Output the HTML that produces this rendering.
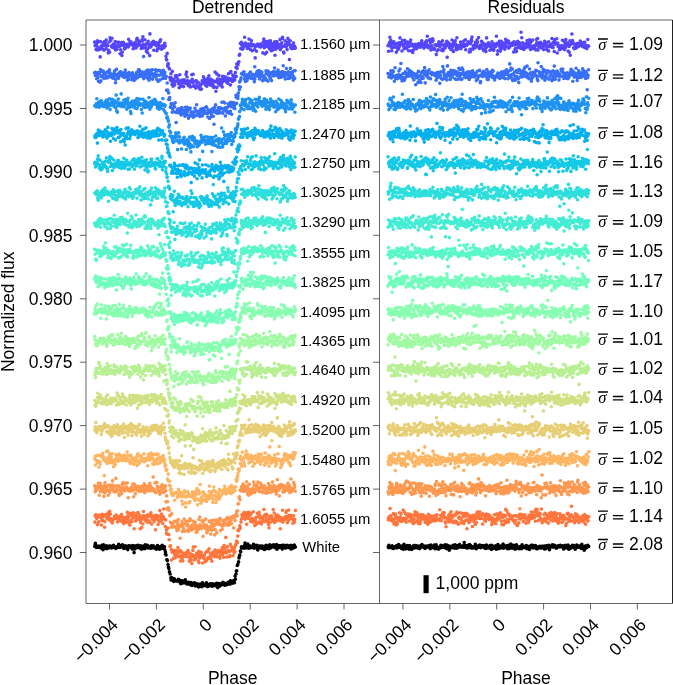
<!DOCTYPE html>
<html><head><meta charset="utf-8"><style>
html,body{margin:0;padding:0;background:#fff;width:673px;height:685px;overflow:hidden}
svg{display:block;will-change:transform}
text{font-family:"Liberation Sans",sans-serif;fill:#000}
</style></head><body>
<svg width="673" height="685" viewBox="0 0 673 685">
<g transform="scale(0.1)" stroke-width="36.0" stroke-linecap="round" fill="none">
<path stroke="#5346fd" d="M946 421h0m5 37h0m7-28h0m3 66h0m4-55h0m4 20h0m5-53h0m3 91h0m7-80h0m5 63h0m2 7h0m7 3h0m4 77h0m2-153h0m6 50h0m6-9h0m4 9h0m2 22h0m7-32h0m2-29h0m4 23h0m5 52h0m5-87h0m5 41h0m3-34h0m7 66h0m2-88h0m4 42h0m4 7h0m7 8h0m6 72h0m3-26h0m6-83h0m4 102h0m5-145h0m4 16h0m3 12h0m6 55h0m3 10h0m3-88h0m6 85h0m5-23h0m3 32h0m7-35h0m2 41h0m4-11h0m5-56h0m4 84h0m3-39h0m8 16h0m3 17h0m3-71h0m7 28h0m2-23h0m6-4h0m5 39h0m3 2h0m5 74h0m5-41h0m5-45h0m3-26h0m5 129h0m4-33h0m5-72h0m5-27h0m3 16h0m6 23h0m3 27h0m7-5h0m2-17h0m7-22h0m2 13h0m7-15h0m4 12h0m2-5h0m7 20h0m3-77h0m3 49h0m7 2h0m4-27h0m5 30h0m3-28h0m4 13h0m7 12h0m1 1h0m8-10h0m3 53h0m5-29h0m3 4h0m4-3h0m4-28h0m5-7h0m8 55h0m5-38h0m2-46h0m4-13h0m4 77h0m7-54h0m1 45h0m6-16h0m3 5h0m5 7h0m7-34h0m2 39h0m6 33h0m4-10h0m5-78h0m3 13h0m5-42h0m4 77h0m4 35h0m6-17h0m6-66h0m5 58h0m0 24h0m9-40h0m1 75h0m7-82h0m5 59h0m1 37h0m5-116h0m5 31h0m4 28h0m6 85h0m2-217h0m6 132h0m7-9h0m1-23h0m6-13h0m4 10h0m6 7h0m5-31h0m4 91h0m2-85h0m6 21h0m3-7h0m7 8h0m4 16h0m6-27h0m4 16h0m0 63h0m6-21h0m7-43h0m3 38h0m4-54h0m3 32h0m7-53h0m1 9h0m5-18h0m9 95h0m3-33h0m5 11h0m3-13h0m3 7h0m6 1h0m4 11h0m3-19h0m5-25h0m5 28h0m7 102h0m5 30h0m3 6h0m5-65h0m4 125h0m4-22h0m3 2h0m7 41h0m5 10h0m3 86h0m6 25h0m5-64h0m2 39h0m5 34h0m4 36h0m3-132h0m5 121h0m3 27h0m8-70h0m1 11h0m7 47h0m3-30h0m4-61h0m4 7h0m8 6h0m3-13h0m4 51h0m7-17h0m3 21h0m3 24h0m5 40h0m6-56h0m1-74h0m8 118h0m5-54h0m2 47h0m5-58h0m3 28h0m6-15h0m6 5h0m3 47h0m5-69h0m2 30h0m5 2h0m4-21h0m8-64h0m1 91h0m5-114h0m4 49h0m7 38h0m4 32h0m3 16h0m3-1h0m7-8h0m3-34h0m6 57h0m4-53h0m4 50h0m7-120h0m4 46h0m3 14h0m4 21h0m3-86h0m7 115h0m4 7h0m6-7h0m5-47h0m4 71h0m5-72h0m2 52h0m4-34h0m5 1h0m5-5h0m6 5h0m1 41h0m7 11h0m5 0h0m2 13h0m5-41h0m7-8h0m3 47h0m6-79h0m3-7h0m6 24h0m4-62h0m4 52h0m2 6h0m4-35h0m8 15h0m2 46h0m6-34h0m3 11h0m5 34h0m2-59h0m8-20h0m3 39h0m4 17h0m4-81h0m6 88h0m6-35h0m3-4h0m4-17h0m6 24h0m1 41h0m7-17h0m5 10h0m3-43h0m7 69h0m2-11h0m3-47h0m9-95h0m2 96h0m6 96h0m1-101h0m8-73h0m1 135h0m5-84h0m5 38h0m5 9h0m5-81h0m4 57h0m3 37h0m6-56h0m6 35h0m5-26h0m3 37h0m6 29h0m4-107h0m2 29h0m3 23h0m5-38h0m7-8h0m3 16h0m3 2h0m9-16h0m3 35h0m6 16h0m1-3h0m4-3h0m4 17h0m8-94h0m1 44h0m8 9h0m2 12h0m7-79h0m1 125h0m6-133h0m4 72h0m7 15h0m4 11h0m3-64h0m4 4h0m6 31h0m4 6h0m6 10h0m3-38h0m4-37h0m6-51h0m2 89h0m5-123h0m4 44h0m5-39h0m3 3h0m6-25h0m4-7h0m4-65h0m4-8h0m7-110h0m3 51h0m7-61h0m2 24h0m6 45h0m2-36h0m7 31h0m2-41h0m5 19h0m4-26h0m4-68h0m7 58h0m3 15h0m3 13h0m7-5h0m4-4h0m4 35h0m6-11h0m1-33h0m7 41h0m2-91h0m9 54h0m3 5h0m2 46h0m8-59h0m1-30h0m5 53h0m4 48h0m5-60h0m7 3h0m1-3h0m8 8h0m3 40h0m6 84h0m1-111h0m8-18h0m4 63h0m1-56h0m7-1h0m2-14h0m8 1h0m2 18h0m7-17h0m5 23h0m1-11h0m7 15h0m3-30h0m4 6h0m6 14h0m6-5h0m3 1h0m2 72h0m4-110h0m5-28h0m5 86h0m4-31h0m4 94h0m9-89h0m0-35h0m6 108h0m7-58h0m3-27h0m5-10h0m2 42h0m7-60h0m2 55h0m5 25h0m7-82h0m4 33h0m3 27h0m4 38h0m6-24h0m3-44h0m5 61h0m5-58h0m4 6h0m4 17h0m5-47h0m3 134h0m7-60h0m2-32h0m7-25h0m3-19h0m7 49h0m2 11h0m5-35h0m2 6h0m6 24h0m3-20h0m7-57h0m2 102h0m6-35h0m4 16h0m4-48h0m7-44h0m2-11h0m4 89h0m6 57h0m3 9h0m7-66h0m4-56h0m6 35h0m4 25h0m2 0h0m7-11h0m2 40h0m7-72h0m1-40h0m8 41h0m3-9h0m4 180h0m4-149h0m5-40h0m3 66h0m7 12h0m3-30h0m7 4h0m1 27h0m6-16h0m5-39h0m5 41h0m4 11h0m3-19h0m6 17h0"/>
<path stroke="#5346fd" d="M3880 458h0m5 54h0m7-77h0m3-9h0m4-53h0m4 78h0m5-49h0m3 70h0m7 35h0m5-35h0m2-43h0m7 46h0m4-36h0m2-21h0m6 20h0m6 24h0m4-19h0m2 28h0m7 52h0m2-49h0m4 4h0m5-45h0m5 64h0m5-32h0m3 21h0m7-57h0m2 33h0m4-83h0m4 64h0m7-16h0m6-5h0m3 88h0m6-105h0m4 44h0m5 0h0m4 22h0m3 15h0m6-84h0m3 34h0m3-5h0m6 45h0m5 8h0m3-43h0m7-5h0m2-15h0m4 44h0m5 42h0m4-41h0m3-35h0m8-4h0m3 4h0m3-30h0m7 108h0m2-53h0m6-13h0m5 82h0m3-64h0m5 40h0m5-39h0m5 27h0m3-33h0m5-14h0m4 25h0m5 9h0m5 12h0m3-28h0m6-15h0m3-4h0m7 22h0m2-25h0m7 5h0m2 28h0m7 1h0m4-2h0m2-41h0m7-22h0m3 55h0m3-5h0m7-16h0m4 19h0m5 21h0m3-34h0m4 19h0m7-44h0m1 24h0m8-19h0m3-20h0m5 60h0m3-105h0m4 89h0m4 27h0m5-12h0m8-62h0m5 57h0m2-66h0m4 30h0m4 74h0m7-41h0m1 33h0m6-73h0m3-31h0m5 18h0m7 89h0m2-11h0m6 4h0m4-39h0m5 2h0m3-3h0m5 99h0m4-90h0m4 54h0m6-62h0m6 49h0m5-78h0m0 18h0m9 28h0m1-30h0m7-7h0m5 20h0m1-12h0m5 67h0m5-13h0m4-81h0m6 99h0m2-56h0m6 1h0m7-5h0m1 34h0m6-6h0m4-39h0m6 18h0m5-43h0m4 161h0m2-147h0m6-1h0m3 6h0m7 27h0m4 20h0m6-36h0m4 13h0m0-12h0m6 52h0m7-34h0m3-61h0m4 101h0m3-36h0m7 51h0m1-82h0m5-11h0m9 25h0m3-39h0m5 33h0m3 52h0m3-17h0m6-100h0m4 118h0m3-29h0m5 14h0m5-25h0m7 5h0m5-4h0m3 0h0m5-35h0m4 67h0m4-27h0m3 6h0m7-2h0m5-21h0m3 8h0m6-41h0m5 52h0m2 0h0m5-17h0m4-47h0m3 98h0m5-48h0m3 5h0m8-10h0m1-9h0m7 6h0m3-22h0m4 16h0m4 85h0m8-28h0m3 26h0m4-84h0m7-40h0m3 17h0m3-41h0m5 119h0m6 4h0m1-35h0m8 8h0m5 0h0m2-15h0m5 27h0m3-56h0m6 18h0m6 6h0m3-46h0m5 22h0m2 46h0m5-3h0m4-90h0m8 109h0m1-19h0m5 14h0m4-27h0m7 21h0m4-60h0m3 34h0m3-27h0m7 18h0m3 54h0m6 14h0m4-51h0m4-15h0m7 39h0m4 6h0m3 31h0m4-42h0m3-95h0m7 77h0m4-12h0m6-16h0m5 31h0m4-3h0m5-13h0m2 59h0m4-36h0m5 1h0m5-8h0m6 34h0m1-74h0m7 74h0m5-46h0m2 55h0m5-2h0m7-30h0m3-30h0m6 23h0m3 3h0m6-104h0m4 82h0m4-12h0m2 111h0m4-34h0m8-78h0m2 6h0m6-25h0m3 51h0m5 17h0m2 31h0m8-98h0m3 71h0m4-35h0m4-18h0m6 12h0m6-13h0m3 38h0m4-14h0m6 38h0m1-55h0m7-43h0m5 28h0m3 43h0m7-58h0m2 23h0m3 41h0m9-61h0m2 71h0m6-5h0m1-41h0m8 17h0m1-14h0m5 3h0m5 2h0m5 11h0m5-3h0m4-21h0m3-7h0m6 97h0m6-101h0m5 30h0m3 43h0m6-7h0m4-54h0m2 87h0m3-8h0m5-66h0m7-30h0m3 60h0m3-26h0m9-4h0m3-16h0m6 7h0m1 24h0m4 23h0m4-160h0m8 56h0m1 107h0m8-58h0m2 49h0m7-19h0m1 37h0m6-11h0m4-38h0m7 4h0m4 15h0m3 13h0m4-43h0m6-29h0m4 52h0m6-5h0m3-3h0m4-27h0m6 51h0m2-74h0m5 39h0m4 57h0m5-77h0m3 49h0m6 1h0m4-1h0m4-67h0m4 86h0m7-28h0m3 12h0m7-6h0m2-8h0m6 37h0m2 7h0m7-105h0m2 34h0m5 20h0m4-64h0m4 116h0m7-72h0m3 43h0m3-11h0m7-14h0m4-25h0m4 20h0m6 15h0m1 22h0m7-31h0m2-7h0m9 5h0m3 50h0m2-33h0m8-30h0m1-19h0m5 27h0m4-16h0m5 16h0m7 56h0m1-21h0m8-15h0m3 6h0m6 42h0m1-91h0m8 50h0m4-20h0m1 11h0m7-3h0m2-12h0m8 27h0m2-86h0m7 78h0m5 13h0m1-52h0m7-1h0m3 92h0m4-117h0m6 44h0m6-12h0m3 5h0m2-2h0m4-46h0m5 143h0m5-99h0m4 35h0m4-14h0m9 45h0m0-21h0m6 14h0m7 1h0m3-10h0m5-26h0m2 28h0m7-80h0m2 79h0m5-6h0m7-12h0m4-52h0m3 84h0m4-63h0m6 41h0m3-79h0m5 53h0m5-15h0m4-4h0m4 4h0m5 77h0m3-57h0m7 12h0m2 57h0m7-114h0m3 144h0m7-110h0m2-8h0m5-5h0m2-89h0m6 65h0m3 13h0m7 18h0m2 41h0m6 11h0m4-46h0m4 24h0m7 16h0m2-35h0m4 14h0m6-26h0m3 36h0m7-24h0m4 8h0m6 7h0m4-4h0m2-27h0m7-20h0m2 41h0m7-16h0m1 1h0m8 13h0m3-19h0m4 37h0m4-2h0m5-41h0m3 40h0m7-42h0m3 54h0m7-4h0m1-20h0m6 29h0m5 4h0m5-18h0m4-73h0m3 63h0m6 2h0"/>
<path stroke="#376ff9" d="M946 729h0m8 26h0m0-33h0m9 5h0m4 60h0m4-42h0m4 3h0m5 27h0m5-50h0m1 89h0m7-88h0m1 12h0m6 83h0m6-125h0m4 112h0m4-44h0m3 4h0m7-51h0m2 39h0m6-46h0m7 73h0m2-40h0m5-13h0m3 5h0m6 11h0m2 36h0m5-20h0m4-36h0m7-4h0m2-5h0m5 59h0m6-10h0m3-52h0m6-16h0m3 50h0m4-17h0m6 36h0m3-21h0m4 16h0m4 14h0m9 7h0m3-41h0m5 30h0m5-41h0m5-21h0m3 46h0m6 71h0m2-32h0m4-48h0m4-53h0m5 65h0m5-17h0m4 27h0m7 14h0m1-48h0m8-9h0m3 10h0m3-9h0m4-10h0m4 38h0m4-30h0m5 14h0m5-1h0m7-9h0m1 39h0m4-35h0m7 12h0m4 29h0m4-31h0m3-42h0m7 32h0m4 0h0m7 35h0m4 33h0m2-47h0m7-10h0m3 51h0m3-70h0m8 32h0m2 6h0m4-17h0m6-4h0m2 11h0m6 43h0m3-30h0m5-37h0m5 28h0m7 21h0m3 26h0m3-31h0m4-19h0m5 38h0m4-16h0m7-24h0m2-26h0m5 24h0m3 28h0m8-64h0m3-17h0m7 67h0m0-65h0m5 7h0m6 35h0m4-1h0m6 9h0m4 3h0m5 12h0m4-20h0m1-23h0m9-155h0m1 220h0m5-14h0m6-5h0m6-21h0m1-27h0m4 43h0m5-18h0m7-41h0m2 76h0m6-78h0m5 32h0m6 69h0m4-81h0m1 31h0m8 28h0m2-34h0m4-45h0m5 29h0m4 14h0m8-46h0m0 94h0m8-36h0m4 12h0m3-14h0m3 4h0m5-24h0m8-35h0m3 68h0m2-20h0m6 48h0m6-86h0m1 42h0m6 64h0m6-112h0m2 5h0m5 45h0m7 46h0m3-92h0m6 40h0m3-8h0m3-12h0m4 10h0m7 47h0m3-35h0m3-46h0m4 22h0m8 24h0m4-27h0m5 48h0m1 12h0m7-18h0m3 138h0m7-72h0m4 70h0m2 2h0m8 27h0m1 66h0m8 1h0m2-20h0m6 97h0m3-4h0m5-29h0m3-5h0m8 88h0m4-35h0m5-47h0m0 72h0m7-69h0m4 27h0m4-4h0m6-40h0m6 97h0m3 101h0m4-101h0m3-8h0m6-23h0m2 7h0m5 19h0m6 8h0m5-40h0m2 20h0m5-8h0m8 29h0m1 14h0m4 7h0m6-74h0m4 19h0m5 43h0m2-34h0m8 3h0m3 25h0m3-3h0m6 35h0m5-91h0m3 85h0m5-57h0m7 42h0m3-70h0m3 42h0m7-17h0m3 86h0m4-97h0m3 75h0m6-69h0m4-11h0m7 52h0m2 27h0m5-40h0m4 24h0m6-13h0m2-10h0m6 52h0m4-50h0m6 32h0m5-73h0m5 35h0m3 41h0m2-50h0m7-61h0m5 104h0m5-6h0m4-31h0m2 14h0m8-16h0m1 26h0m7 26h0m1-28h0m5-15h0m5-31h0m4 29h0m5-13h0m4 53h0m8-73h0m4 17h0m4 33h0m4-1h0m3-3h0m3-24h0m5 22h0m5-59h0m5-4h0m4 8h0m7 60h0m4 35h0m4-65h0m4-5h0m3 9h0m6 75h0m3-57h0m7-5h0m5-24h0m3 37h0m2 29h0m7-41h0m3-36h0m8 75h0m0-48h0m7 129h0m5-167h0m1 32h0m8 14h0m2-73h0m7 65h0m5 18h0m3-27h0m5 19h0m6-10h0m1-37h0m6 55h0m4-54h0m2 16h0m5-17h0m6 48h0m7-41h0m4-1h0m2-60h0m6 65h0m4 45h0m6-112h0m4 87h0m2-15h0m7-63h0m4 47h0m2 83h0m4-70h0m5 11h0m7 25h0m3-52h0m3 42h0m7-77h0m5 12h0m5 81h0m3-4h0m7-16h0m2-88h0m4 44h0m6-25h0m2 99h0m4-117h0m7 0h0m5 23h0m4 32h0m2-53h0m6 28h0m3 31h0m7-48h0m5-85h0m1 19h0m6 61h0m6-83h0m5 34h0m2-23h0m4-31h0m6-63h0m4 29h0m2-77h0m7 52h0m4-71h0m4-22h0m4-40h0m6-5h0m3 10h0m8-8h0m3-11h0m5-7h0m5 41h0m1 32h0m8 24h0m4-38h0m3-27h0m6 23h0m3 34h0m3-49h0m5 27h0m7-19h0m3-8h0m4-22h0m6 40h0m1-48h0m5-6h0m7 43h0m4 20h0m6-2h0m2-2h0m6-37h0m3 6h0m3 39h0m8 30h0m5-150h0m1 123h0m6-31h0m5-9h0m5-22h0m3 3h0m4-18h0m5 47h0m4-40h0m5 25h0m3-41h0m6 85h0m5-16h0m6-59h0m3 51h0m3-27h0m6-15h0m2 30h0m5 54h0m6-8h0m5-40h0m2 29h0m7-16h0m3 25h0m7-15h0m5-74h0m1 30h0m3 60h0m7-90h0m6 16h0m3 86h0m6-92h0m3 36h0m4 5h0m4-18h0m3 39h0m5-3h0m8-49h0m3 77h0m5-81h0m4 11h0m3 10h0m3 11h0m5-42h0m4 43h0m6-78h0m6 54h0m3-13h0m4 6h0m7 19h0m2 10h0m7-31h0m2 24h0m4-48h0m5 35h0m4 41h0m4-51h0m9 12h0m0 9h0m8 26h0m2-14h0m4-17h0m5-26h0m5 39h0m5-98h0m6 104h0m3-37h0m5 44h0m4-23h0m3 45h0m5-63h0m6-42h0m2 63h0m4-16h0m7 12h0m4 40h0m3-65h0m5 49h0m4 7h0m4 6h0m7-97h0m2 68h0m5-27h0m7 15h0m4-19h0m2 16h0m5 40h0m4 24h0m5-32h0m4-61h0m5 78h0m4-78h0"/>
<path stroke="#376ff9" d="M3880 735h0m8 35h0m0-29h0m9 32h0m4-29h0m4 9h0m4-44h0m5 71h0m5-67h0m1 25h0m7-30h0m1 58h0m6-50h0m6 52h0m4 44h0m4-51h0m3-84h0m7 105h0m2-27h0m6 15h0m7-7h0m2 24h0m5-4h0m3-35h0m6-38h0m2 37h0m5 28h0m4-85h0m7 65h0m2-120h0m5 151h0m6 24h0m3-31h0m6-42h0m3 39h0m4 18h0m6 11h0m3-8h0m4-11h0m4-67h0m9 27h0m3 20h0m5-14h0m5-65h0m5 58h0m3-17h0m6 29h0m2 5h0m4-58h0m4 22h0m5 30h0m5-40h0m4 33h0m7-26h0m1 4h0m8 52h0m3-33h0m3-14h0m4 68h0m4-60h0m4 9h0m5 2h0m5 97h0m7-78h0m1 8h0m4-40h0m7 39h0m4 47h0m4-112h0m3 52h0m7 39h0m4 6h0m7-51h0m4 67h0m2-97h0m7 56h0m3-16h0m3-52h0m8 67h0m2-74h0m4 20h0m6 19h0m2-73h0m6 154h0m3-93h0m5-26h0m5 49h0m7-9h0m3-35h0m3 18h0m4 47h0m5-3h0m4-78h0m7 83h0m2 0h0m5 6h0m3-53h0m8-9h0m3 22h0m7-18h0m0 13h0m5-11h0m6 10h0m4-7h0m6 17h0m4 4h0m5-13h0m4-10h0m1 70h0m9-22h0m1-14h0m5-44h0m6 48h0m6-25h0m1 24h0m4-11h0m5 74h0m7-81h0m2-34h0m6 68h0m5 2h0m6 6h0m4-128h0m1 54h0m8 4h0m2-27h0m4 57h0m5 18h0m4 13h0m8-5h0m0-29h0m8 49h0m4-42h0m3-99h0m3 80h0m5-14h0m8 35h0m3-25h0m2 3h0m6 56h0m6-70h0m1-20h0m6 52h0m6 13h0m2-24h0m5 3h0m7-19h0m3-24h0m6 18h0m3-10h0m3 75h0m4-49h0m7 55h0m3-51h0m3-25h0m4 36h0m8 0h0m4 37h0m5-109h0m1 52h0m7 27h0m3-63h0m7 53h0m4-13h0m2 56h0m8-5h0m1-108h0m8 16h0m2 25h0m6 23h0m3-3h0m5-11h0m3 36h0m8 9h0m4-25h0m5-13h0m0 11h0m7-28h0m4 54h0m4 0h0m6-57h0m6 77h0m3-49h0m4 29h0m3-27h0m6-6h0m2 29h0m5-55h0m6 24h0m5-31h0m2 55h0m5-23h0m8-3h0m1-7h0m4 38h0m6-12h0m4-16h0m5-8h0m2 73h0m8-9h0m3-85h0m3 75h0m6-22h0m5-7h0m3 4h0m5-58h0m7 124h0m3-13h0m3-65h0m7-1h0m3 4h0m4-26h0m3 39h0m6-19h0m4-34h0m7 19h0m2-5h0m5 1h0m4 9h0m6 31h0m2-34h0m6-39h0m4 99h0m6-66h0m5 66h0m5-39h0m3 10h0m2-45h0m7 31h0m5-29h0m5 24h0m4 17h0m2-28h0m8 39h0m1-72h0m7 11h0m1 48h0m5 3h0m5 18h0m4 18h0m5-38h0m4 10h0m8-16h0m4-3h0m4-8h0m4 7h0m3-22h0m3 13h0m5 31h0m5-10h0m5 21h0m4-52h0m7 4h0m4 39h0m4-55h0m4-2h0m3 49h0m6-30h0m3 38h0m7-25h0m5-17h0m3-20h0m2 72h0m7-41h0m3-26h0m8-20h0m0 8h0m7 27h0m5 53h0m1-70h0m8 39h0m2-2h0m7-115h0m5 66h0m3 67h0m5-92h0m6 102h0m1-36h0m6-55h0m4 115h0m2-65h0m5 56h0m6-45h0m7-31h0m4 61h0m2 21h0m6-16h0m4-80h0m6 58h0m4-58h0m2 19h0m7 63h0m4-90h0m2 127h0m4-131h0m5 8h0m7 67h0m3-32h0m3 2h0m7-25h0m5 54h0m5-17h0m3-10h0m7-23h0m2-23h0m4 49h0m6-71h0m2 50h0m4 41h0m7 2h0m5-35h0m4-71h0m2 102h0m6 11h0m3-27h0m7 40h0m5-9h0m1-88h0m6 48h0m6-9h0m5 67h0m2 16h0m4-63h0m6 15h0m4 10h0m2-52h0m7 17h0m4 3h0m4-11h0m4 4h0m6 18h0m3-50h0m8 5h0m3 63h0m5 24h0m5 11h0m1-179h0m8 130h0m4-39h0m3 9h0m6 11h0m3 20h0m3 5h0m5-97h0m7 59h0m3 55h0m4-31h0m6-57h0m1 21h0m5 5h0m7 60h0m4 24h0m6-93h0m2 52h0m6-26h0m3 43h0m3-41h0m8-29h0m5 15h0m1 0h0m6 69h0m5-72h0m5 42h0m3-45h0m4 5h0m5 29h0m4-26h0m5 83h0m3-21h0m6-80h0m5 54h0m6 32h0m3-132h0m3 70h0m6 61h0m2-75h0m5 48h0m6-24h0m5 9h0m2-40h0m7 32h0m3-12h0m7 71h0m5-36h0m1-17h0m3-5h0m7 23h0m6-74h0m3 19h0m6 3h0m3 4h0m4-28h0m4 71h0m3-33h0m5 57h0m8-45h0m3-8h0m5 36h0m4-10h0m3-24h0m3 28h0m5 23h0m4-56h0m6 57h0m6-49h0m3 35h0m4-30h0m7-11h0m2 22h0m7-46h0m2-15h0m4 50h0m5-6h0m4-29h0m4 106h0m9-56h0m0-37h0m8 52h0m2-11h0m4-30h0m5 5h0m5-53h0m5 68h0m6 54h0m3-24h0m5-4h0m4-52h0m3-16h0m5 63h0m6-19h0m2-16h0m4-4h0m7 41h0m4-10h0m3-36h0m5 12h0m4-51h0m4 16h0m7 57h0m2-33h0m5-13h0m7 36h0m4 33h0m2-69h0m5 17h0m4 2h0m5 162h0m4-120h0m5-25h0m4-55h0"/>
<path stroke="#1d92f3" d="M948 1059h0m3-1h0m4-6h0m7-15h0m3 33h0m3-83h0m4 50h0m6 22h0m5-33h0m5 6h0m5 41h0m3-38h0m4-23h0m7 13h0m2 27h0m4-45h0m6 33h0m3-13h0m4 15h0m4 22h0m4-1h0m8-21h0m6 5h0m1 18h0m7-50h0m3 30h0m4-41h0m6 76h0m1-37h0m6-43h0m3 25h0m5 39h0m6-15h0m5-61h0m6 108h0m1-44h0m6 1h0m5-22h0m5-16h0m5-22h0m4 53h0m3-6h0m5-7h0m6 32h0m1-14h0m7-42h0m3 19h0m5 49h0m5-126h0m5 158h0m3-85h0m4 99h0m4-67h0m5-65h0m8 65h0m4-11h0m4-16h0m3 15h0m4 0h0m6-105h0m3 126h0m3-32h0m4 10h0m5 22h0m4-23h0m6-39h0m5 65h0m6-36h0m2 18h0m4-55h0m7 42h0m2-26h0m5 81h0m6-83h0m5 64h0m1-90h0m5 68h0m4-18h0m5 41h0m8-24h0m3 65h0m5 21h0m3-111h0m5 40h0m3-52h0m6-1h0m4 29h0m7 30h0m4-7h0m2-27h0m7 42h0m1-73h0m6 8h0m6 27h0m5-56h0m1 101h0m7-47h0m2-6h0m7 25h0m4-57h0m5 39h0m5-50h0m3 49h0m2 12h0m8 44h0m5-51h0m4 86h0m2-86h0m5-52h0m6 76h0m4-22h0m4-20h0m5 48h0m3-64h0m4 22h0m7 34h0m4 5h0m3-48h0m5 31h0m6-8h0m5 18h0m3-27h0m2-61h0m7 56h0m2 60h0m7-75h0m2 20h0m5 33h0m5-33h0m7-28h0m1 34h0m8-5h0m5-22h0m4 23h0m5-39h0m0-6h0m9 14h0m4 30h0m1 6h0m7-19h0m4 54h0m3-16h0m7-17h0m4 34h0m4 12h0m5-25h0m5-41h0m4 45h0m2 11h0m6-24h0m6-17h0m1 12h0m6 2h0m2-69h0m6 109h0m3-49h0m9 67h0m2-51h0m4-9h0m5 78h0m5 3h0m4 43h0m6-9h0m5 21h0m5 17h0m1 7h0m5 58h0m6-22h0m3 62h0m4 49h0m6-35h0m3 37h0m6 1h0m4 15h0m4 19h0m4 21h0m4 7h0m4-54h0m4 48h0m5-45h0m8-17h0m4 7h0m1-35h0m5 72h0m4-66h0m8 74h0m1 87h0m5-127h0m5-40h0m6 101h0m4-62h0m6 36h0m4 2h0m2 9h0m7 75h0m5-70h0m3-1h0m5-12h0m5-22h0m1 4h0m8-15h0m2 69h0m4-35h0m4 30h0m6-12h0m5 69h0m6-82h0m5 26h0m1-44h0m6 64h0m5-48h0m1 9h0m9-50h0m2 69h0m4 40h0m7 40h0m5-137h0m3 71h0m3-57h0m4-34h0m3 15h0m7 90h0m6-56h0m3-32h0m7 56h0m0-1h0m7-22h0m3 28h0m4-31h0m8 58h0m3-17h0m5-30h0m2 31h0m4 4h0m5-36h0m6 22h0m3-25h0m6-6h0m4-57h0m7 23h0m3 8h0m3 38h0m4 92h0m4-128h0m7 17h0m4-30h0m5 31h0m1 6h0m8 32h0m1-75h0m5 68h0m6-10h0m3-20h0m7-34h0m4 6h0m2 23h0m5 35h0m7-25h0m5-24h0m4 36h0m4-48h0m4 66h0m6 76h0m3-126h0m4 57h0m3-72h0m4 37h0m5 16h0m5 23h0m6-41h0m5 45h0m3-95h0m5 38h0m2 7h0m5 2h0m6-9h0m3 71h0m7-82h0m3 50h0m3-21h0m7 57h0m5-83h0m3 34h0m5-6h0m5-138h0m2 130h0m8 60h0m2-21h0m6-131h0m3 67h0m4 50h0m5-86h0m6 10h0m5 50h0m1 3h0m6 22h0m4-9h0m5-34h0m5-46h0m4 13h0m3 22h0m7 28h0m2-28h0m8 25h0m1-57h0m8 10h0m1-32h0m5 118h0m7-80h0m2 40h0m7 9h0m5-35h0m4-20h0m2-12h0m4 18h0m5-75h0m5 17h0m4 23h0m3-34h0m8-23h0m4-20h0m2-14h0m6-46h0m2-10h0m8-16h0m2-50h0m6-62h0m7 37h0m2-36h0m4 27h0m4-56h0m4-32h0m6 48h0m5-16h0m2-10h0m4 81h0m8-41h0m5-47h0m3-14h0m6 49h0m2 22h0m4-10h0m6 28h0m3-27h0m7 5h0m2-76h0m6 102h0m5-59h0m1 48h0m6-80h0m6 21h0m5 67h0m3-78h0m6 46h0m5-18h0m1 68h0m4-43h0m5 29h0m5-43h0m6-53h0m6 120h0m4-84h0m1 20h0m8-3h0m5-50h0m4 74h0m2-35h0m6-45h0m2 9h0m5-25h0m7 47h0m5 19h0m0-25h0m5 30h0m5-10h0m6 27h0m3-16h0m6-6h0m3-21h0m4-12h0m5-19h0m4 69h0m7-27h0m5 62h0m2-20h0m6-71h0m2 59h0m5 25h0m5-61h0m4 61h0m6-63h0m5 74h0m5-33h0m3-25h0m4-47h0m3 50h0m5-20h0m6 36h0m6-41h0m3 44h0m7-30h0m0 34h0m4 8h0m6-21h0m7 10h0m3 56h0m4-103h0m4 51h0m5-12h0m3 44h0m5-58h0m7 38h0m4-87h0m3 96h0m7-27h0m3-1h0m2 16h0m7-69h0m3 33h0m5 10h0m3-13h0m6-7h0m4 48h0m5-30h0m6-9h0m4 10h0m5 41h0m4 17h0m1 12h0m9-56h0m4-59h0m2 25h0m6-12h0m3 0h0m5 69h0m5-58h0m5 64h0m6-41h0m1-8h0m5-2h0m5-40h0m6 33h0m1 41h0m5 18h0m7-41h0m5 17h0m2-17h0m5 8h0m6 65h0m4-73h0"/>
<path stroke="#1d92f3" d="M3882 1041h0m3 13h0m4 42h0m7-33h0m3-65h0m3-16h0m4 90h0m6-77h0m5 58h0m5-28h0m5 30h0m3-31h0m4-54h0m7 122h0m2-47h0m4-5h0m6 56h0m3-28h0m4 13h0m4-42h0m4 10h0m8 11h0m6-34h0m1 46h0m7-13h0m3-24h0m4-3h0m6 41h0m1-33h0m6 18h0m3-4h0m5-15h0m6-97h0m5 114h0m6 15h0m1-46h0m6-1h0m5 49h0m5-66h0m5 78h0m4-22h0m3 27h0m5-46h0m6 5h0m1 6h0m7-59h0m3 21h0m5 64h0m5-57h0m5-9h0m3 41h0m4 34h0m4-46h0m5-7h0m8 8h0m4 14h0m4-64h0m3 62h0m4 2h0m6 20h0m3 1h0m3-13h0m4 44h0m5-64h0m4-4h0m6 56h0m5-49h0m6-22h0m2 1h0m4 17h0m7-43h0m2 75h0m5-22h0m6 31h0m5-73h0m1 21h0m5-9h0m4 37h0m5-4h0m8 12h0m3-2h0m5-57h0m3 43h0m5-6h0m3-3h0m6 17h0m4-77h0m7 38h0m4 13h0m2-18h0m7-10h0m1 66h0m6-1h0m6 26h0m5-84h0m1-45h0m7 95h0m2-32h0m7-24h0m4 51h0m5-20h0m5-52h0m3 57h0m2-55h0m8 69h0m5-57h0m4-58h0m2 120h0m5 7h0m6-38h0m4-28h0m4 55h0m5-15h0m3 4h0m4-20h0m7-35h0m4 32h0m3 60h0m5-66h0m6 18h0m5 1h0m3 32h0m2-21h0m7-22h0m2 73h0m7-54h0m2 4h0m5-31h0m5-27h0m7 62h0m1-25h0m8 21h0m5-80h0m4 124h0m5-52h0m0 24h0m9-60h0m4 38h0m1 1h0m7 31h0m4-11h0m3-89h0m7 71h0m4-2h0m4-15h0m5 18h0m5 11h0m4 12h0m2-66h0m6 9h0m6 28h0m1 20h0m6-52h0m2 31h0m6-40h0m3 41h0m9-7h0m2 22h0m4 27h0m5-68h0m5 38h0m4-63h0m6 60h0m5 46h0m5-105h0m1 33h0m5-84h0m6 114h0m3 55h0m4-98h0m6 40h0m3 33h0m6-68h0m4 31h0m4-31h0m4 9h0m4 16h0m4 27h0m4-20h0m5-9h0m8-4h0m4 40h0m1-18h0m5-3h0m4-72h0m8 52h0m1-27h0m5 90h0m5-35h0m6 25h0m4-72h0m6-23h0m4 24h0m2 46h0m7-42h0m5 44h0m3 21h0m5-54h0m5 42h0m1-102h0m8 31h0m2 20h0m4 9h0m4-35h0m6 34h0m5 45h0m6-6h0m5-14h0m1-71h0m6 149h0m5-70h0m1-53h0m9 63h0m2-42h0m4 28h0m7-5h0m5 7h0m3 29h0m3 33h0m4-68h0m3-8h0m7-5h0m6 16h0m3 4h0m7-60h0m0 45h0m7 70h0m3-49h0m4 11h0m8-37h0m3 71h0m5-50h0m2-29h0m4-14h0m5 39h0m6 42h0m3-78h0m6-10h0m4-43h0m7 97h0m3-58h0m3 11h0m4-10h0m4 5h0m7 53h0m4-50h0m5 30h0m1-28h0m8 11h0m1 33h0m5-1h0m6-58h0m3 38h0m7-31h0m4 53h0m2-43h0m5-10h0m7 57h0m5-45h0m4 22h0m4 19h0m4-40h0m6 7h0m3 29h0m4 53h0m3-53h0m4 4h0m5-22h0m5-2h0m6 49h0m5-72h0m3 1h0m5 70h0m2-72h0m5-15h0m6 55h0m3 17h0m7 24h0m3 15h0m3-143h0m7 66h0m5-4h0m3 22h0m5-39h0m5 28h0m2 8h0m8-3h0m2-33h0m6 35h0m3-36h0m4 1h0m5 19h0m6 34h0m5-91h0m1 63h0m6 46h0m4-39h0m5-22h0m5 25h0m4 95h0m3-109h0m7-17h0m2 47h0m8-33h0m1-14h0m8 49h0m1-54h0m5 18h0m7 53h0m2-39h0m7 37h0m5-99h0m4 9h0m2 23h0m4 21h0m5-57h0m5 68h0m4-24h0m3 0h0m8 18h0m4-9h0m2-31h0m6 31h0m2-31h0m8 81h0m2-57h0m6 6h0m7-12h0m2 22h0m4 6h0m4-11h0m4-30h0m6 70h0m5-37h0m2-60h0m4-12h0m8 36h0m5-1h0m3-16h0m6 22h0m2 42h0m4 30h0m6-33h0m3 3h0m7 26h0m2 34h0m6-34h0m5-17h0m1-24h0m6-28h0m6 59h0m5 12h0m3-29h0m6-27h0m5 36h0m1-21h0m4-17h0m5-45h0m5 82h0m6-39h0m6 59h0m4-58h0m1 23h0m8-21h0m5 75h0m4-13h0m2-44h0m6 47h0m2-87h0m5 62h0m7-39h0m5 13h0m0-10h0m5 34h0m5-77h0m6 43h0m3 59h0m6-118h0m3 60h0m4-29h0m5-44h0m4 100h0m7-29h0m5 57h0m2-102h0m6 73h0m2 39h0m5-111h0m5 81h0m4 2h0m6-16h0m5 39h0m5-24h0m3-45h0m4-1h0m3 20h0m5 58h0m6-58h0m6 34h0m3-34h0m7 25h0m0-3h0m4 23h0m6 19h0m7-75h0m3-21h0m4 35h0m4 1h0m5 10h0m3 24h0m5-46h0m7 14h0m4 0h0m3 36h0m7-50h0m3 53h0m2 24h0m7-70h0m3 53h0m5-28h0m3-20h0m6 68h0m4-25h0m5-50h0m6 28h0m4-40h0m5-23h0m4 79h0m1-34h0m9 54h0m4-48h0m2 3h0m6-12h0m3 9h0m5-31h0m5 18h0m5-49h0m6-3h0m1 15h0m5 7h0m5 34h0m6-3h0m1 44h0m5 42h0m7-159h0m5 126h0m2-17h0m5-49h0m6 24h0m4-69h0"/>
<path stroke="#04b0ed" d="M948 1360h0m3 14h0m7 0h0m4-28h0m5-7h0m2 23h0m5 69h0m3-101h0m6-30h0m6 51h0m4 0h0m4-7h0m5 8h0m3-40h0m4 9h0m3 14h0m6 10h0m7 17h0m4 7h0m3-17h0m6-10h0m2-25h0m6 15h0m6-33h0m3 25h0m4 34h0m4 5h0m7-48h0m0 66h0m9-107h0m4 87h0m3-16h0m3-5h0m4 17h0m7-25h0m5 81h0m4-82h0m4 4h0m2 19h0m5-68h0m5 55h0m6-39h0m3 83h0m5-56h0m3 11h0m6-49h0m6 108h0m2-107h0m7 8h0m3 21h0m3-46h0m7 28h0m4 28h0m2 44h0m6 2h0m3-69h0m6 18h0m6 37h0m3 54h0m3-122h0m7 40h0m5 7h0m5 5h0m1-12h0m6 62h0m5-61h0m3 82h0m6-59h0m5 91h0m3-62h0m6-103h0m3 78h0m4-82h0m5 103h0m4-50h0m6-55h0m3 34h0m7 12h0m5 62h0m0-41h0m6 11h0m5-35h0m4 6h0m4-31h0m7 33h0m1 3h0m6 6h0m7-24h0m1 19h0m4-8h0m6 21h0m3-27h0m7 1h0m2-9h0m4 6h0m6 12h0m3-23h0m5 69h0m6-6h0m3-21h0m4 13h0m7-100h0m4 57h0m4 5h0m4 21h0m4 18h0m6 1h0m5-70h0m5 43h0m5 36h0m2-43h0m7 23h0m4-66h0m4 53h0m4-10h0m4-53h0m3 86h0m7 17h0m2-16h0m4-36h0m6 6h0m4-16h0m5 39h0m6-4h0m3 30h0m5-44h0m3 28h0m7-35h0m2-15h0m5 21h0m3-26h0m4 0h0m7 50h0m4-2h0m6-46h0m2-3h0m5 21h0m4-17h0m6 45h0m4-32h0m3-30h0m6-14h0m4 67h0m7 50h0m1-47h0m5-58h0m5 14h0m5 33h0m5-11h0m2 10h0m7 57h0m2-93h0m4 1h0m8 29h0m2 3h0m5 5h0m3 19h0m5-16h0m5 57h0m5-3h0m6 40h0m5-41h0m4 47h0m4 33h0m3 48h0m3-23h0m8 28h0m3 21h0m4 98h0m4-82h0m5 82h0m5 15h0m5 66h0m5-24h0m4-34h0m4 42h0m5 16h0m5-55h0m5-44h0m3 16h0m6 44h0m1-36h0m5 40h0m4 36h0m7-31h0m3 69h0m4-79h0m6-36h0m3 49h0m7 28h0m4-81h0m4 64h0m4 42h0m4-49h0m3 56h0m6-113h0m3 90h0m7-95h0m1-2h0m6 10h0m5 87h0m4-25h0m4 38h0m5-77h0m5-28h0m3 88h0m6-53h0m4-28h0m6 79h0m2 10h0m7-62h0m3 32h0m5 14h0m3-51h0m4 4h0m8 39h0m3 103h0m3-146h0m7 62h0m1-8h0m9-13h0m1-13h0m7-22h0m5 76h0m4-50h0m2-83h0m5 98h0m3-39h0m5 23h0m7 76h0m2-59h0m5-85h0m7 58h0m5-25h0m4 75h0m1-152h0m8 137h0m4-19h0m3-14h0m6 27h0m5 49h0m4-129h0m1 47h0m6 17h0m6 2h0m2-10h0m5 25h0m5-12h0m6-20h0m3-51h0m6 90h0m1 28h0m7-11h0m5-27h0m2 27h0m6-95h0m3 81h0m6-16h0m3-15h0m6 42h0m3-47h0m4-7h0m8-24h0m1-29h0m4 48h0m8 77h0m4 4h0m3-88h0m6 26h0m1 49h0m6-92h0m5 19h0m5-34h0m5 106h0m4-80h0m5 8h0m5 11h0m2-30h0m6 121h0m3-50h0m7 32h0m4-149h0m5 100h0m2-34h0m3-34h0m9 41h0m2 55h0m5-17h0m5-62h0m4 142h0m5-84h0m4-71h0m3-2h0m8 6h0m2 20h0m3-17h0m5-6h0m6 57h0m5-59h0m3 27h0m5-28h0m6 12h0m1 52h0m7-36h0m5 18h0m1-31h0m8 41h0m3-43h0m4 41h0m7-89h0m0 86h0m9-26h0m4-52h0m2 9h0m6-45h0m2 49h0m5-12h0m7-58h0m1 44h0m5-126h0m7 27h0m4-53h0m3-4h0m4 34h0m4-48h0m7 16h0m6-90h0m5-33h0m2-1h0m2-43h0m9 19h0m2 26h0m4 32h0m6-63h0m5 3h0m3-22h0m6 5h0m1 43h0m7 3h0m3 9h0m4-19h0m8 42h0m4-90h0m4 55h0m5 22h0m1-32h0m6 25h0m5-21h0m4-5h0m4 17h0m3-26h0m9 20h0m0 21h0m8-55h0m5 57h0m2 16h0m4 16h0m5-63h0m5 46h0m4-95h0m4 15h0m3 46h0m5-38h0m5 5h0m5-2h0m3 22h0m8-11h0m1-10h0m5 30h0m4-16h0m7 17h0m4 10h0m3 7h0m7-24h0m5-7h0m2 0h0m3-21h0m5 49h0m6-16h0m7 35h0m2-24h0m7-25h0m2 43h0m4-37h0m3 7h0m7 17h0m5-7h0m5-32h0m4 46h0m2-9h0m5-13h0m6-6h0m4 14h0m2-55h0m5 89h0m5-120h0m4 46h0m8 1h0m3 43h0m4-11h0m5 10h0m4-50h0m3 76h0m5-9h0m4-94h0m4 72h0m5-68h0m7 44h0m1 34h0m8-16h0m1-42h0m7 21h0m4 54h0m3-29h0m6 18h0m2-76h0m9 69h0m0-10h0m8-36h0m3 74h0m5-45h0m4 28h0m4-43h0m5 29h0m7 4h0m3-20h0m2 7h0m5 6h0m6-12h0m3-37h0m7 50h0m5-14h0m3 12h0m5-34h0m5 73h0m4-19h0m5 15h0m2 15h0m4 3h0m7-70h0m3-30h0m6 75h0m3-27h0m5 17h0m6 16h0m2-47h0m5-23h0m4 41h0m7-40h0m2 1h0"/>
<path stroke="#04b0ed" d="M3882 1356h0m3-7h0m7-24h0m4 35h0m5 17h0m2 14h0m5-28h0m3-26h0m6-14h0m6 41h0m4 22h0m4 31h0m5-79h0m3-24h0m4 3h0m3 42h0m6 9h0m7-43h0m4-15h0m3-23h0m6 82h0m2-71h0m6 65h0m6-24h0m3-56h0m4 25h0m4 66h0m7-31h0m0-7h0m9 45h0m4-40h0m3 5h0m3 0h0m4-1h0m7 31h0m5-50h0m4 51h0m4 13h0m2-64h0m5 31h0m5-51h0m6 39h0m3 36h0m5-9h0m3-42h0m6 30h0m6-2h0m2-12h0m7 1h0m3 56h0m3-142h0m7 63h0m4 46h0m2-31h0m6 14h0m3-1h0m6-17h0m6 8h0m3-24h0m3 23h0m7 24h0m5 41h0m5-49h0m1-24h0m6-4h0m5-41h0m3 47h0m6-24h0m5 8h0m3 11h0m6 13h0m3 2h0m4-4h0m5-35h0m4 20h0m6 35h0m3-24h0m7 16h0m5-11h0m0 45h0m6 5h0m5 28h0m4-90h0m4 36h0m7-65h0m1 63h0m6-8h0m7-26h0m1 57h0m4-32h0m6-61h0m3 94h0m7-43h0m2 22h0m4-45h0m6-3h0m3-14h0m5 4h0m6 55h0m3-5h0m4-68h0m7 51h0m4 0h0m4-24h0m4 32h0m4-33h0m6 54h0m5-40h0m5 14h0m5-112h0m2 91h0m7 15h0m4-21h0m4 13h0m4-23h0m4 56h0m3-92h0m7 55h0m2 54h0m4-9h0m6-37h0m4-38h0m5-20h0m6 72h0m3-6h0m5-16h0m3 0h0m7 74h0m2-38h0m5-26h0m3-7h0m4-4h0m7 21h0m4-19h0m6 12h0m2-17h0m5 37h0m4-16h0m6-42h0m4 124h0m3-80h0m6-23h0m4-24h0m7 41h0m1-22h0m5 72h0m5-36h0m5-35h0m5-36h0m2 79h0m7-76h0m2 67h0m4-11h0m8-90h0m2 78h0m5 59h0m3-79h0m5-43h0m5 17h0m5 51h0m6 11h0m5 17h0m4-18h0m4-38h0m3 16h0m3 7h0m8 2h0m3-34h0m4 59h0m4 14h0m5-38h0m5 9h0m5-44h0m5 46h0m4-32h0m4-3h0m5 53h0m5-21h0m5-19h0m3-36h0m6 52h0m1 51h0m5-41h0m4-3h0m7 31h0m3 28h0m4-47h0m6 14h0m3-26h0m7 10h0m4-2h0m4 21h0m4-49h0m4 25h0m3 0h0m6-13h0m3-16h0m7 45h0m1-38h0m6-36h0m5 71h0m4-68h0m4 70h0m5-104h0m5 80h0m3 56h0m6-63h0m4 44h0m6-50h0m2-11h0m7 15h0m3 39h0m5 11h0m3 4h0m4-17h0m8-29h0m3-62h0m3 39h0m7 71h0m1-98h0m9 66h0m1-2h0m7-118h0m5 115h0m4-23h0m2 18h0m5-9h0m3-4h0m5-22h0m7-35h0m2 120h0m5-110h0m7 45h0m5-3h0m4 2h0m1-14h0m8 41h0m4-18h0m3-15h0m6-3h0m5 35h0m4-45h0m1 46h0m6 69h0m6-52h0m2-16h0m5-71h0m5 77h0m6-15h0m3 36h0m6-61h0m1 3h0m7 61h0m5-72h0m2 62h0m6-25h0m3-90h0m6 64h0m3 0h0m6-28h0m3-18h0m4 62h0m8-35h0m1 11h0m4-37h0m8 51h0m4 24h0m3 9h0m6-9h0m1-28h0m6 6h0m5 24h0m5 21h0m5-42h0m4-38h0m5 50h0m5 11h0m2-35h0m6 53h0m3-54h0m7 16h0m4 11h0m5 40h0m2-89h0m3 55h0m9 7h0m2-28h0m5 36h0m5-53h0m4-17h0m5-2h0m4 17h0m3-12h0m8 50h0m2-15h0m3-47h0m5 97h0m6-43h0m5-61h0m3-6h0m5 61h0m6 42h0m1-54h0m7 41h0m5 22h0m1-29h0m8-34h0m3-32h0m4 21h0m7 64h0m0-42h0m9-33h0m4 19h0m2 7h0m6 43h0m2-55h0m5 79h0m7-53h0m1 4h0m5-48h0m7 50h0m4-5h0m3 15h0m4-46h0m4 29h0m7-56h0m6 17h0m5 107h0m2-90h0m2-10h0m9 54h0m2-35h0m4 91h0m6-83h0m5 21h0m3-32h0m6 46h0m1-36h0m7 87h0m3-111h0m4 38h0m8 8h0m4-60h0m4 19h0m5-8h0m1-29h0m6 64h0m5-103h0m4 51h0m4 5h0m3 46h0m9-14h0m0 39h0m8 5h0m5-34h0m2-37h0m4 55h0m5-47h0m5 13h0m4 12h0m4 47h0m3 38h0m5-46h0m5-55h0m5 46h0m3 11h0m8-69h0m1 33h0m5-27h0m4 2h0m7 23h0m4 2h0m3-30h0m7 26h0m5-41h0m2 35h0m3 10h0m5-20h0m6-34h0m7 24h0m2 38h0m7 18h0m2 0h0m4 2h0m3 23h0m7-70h0m5 51h0m5-63h0m4 82h0m2-25h0m5-64h0m6 55h0m4 10h0m2-58h0m5 37h0m5 17h0m4 32h0m8-78h0m3 68h0m4-83h0m5 6h0m4 70h0m3-19h0m5-49h0m4 74h0m4-33h0m5-10h0m7-15h0m1-74h0m8 83h0m1 31h0m7-33h0m4 25h0m3-26h0m6 47h0m2-138h0m9 126h0m0-62h0m8 36h0m3 15h0m5 16h0m4-11h0m4 13h0m5-72h0m7 37h0m3-75h0m2 81h0m5-64h0m6 88h0m3-28h0m7-16h0m5-12h0m3 27h0m5-25h0m5-27h0m4 59h0m5-41h0m2 43h0m4-46h0m7-8h0m3 111h0m6-53h0m3 20h0m5-48h0m6 7h0m2 1h0m5 64h0m4-42h0m7-18h0m2-5h0"/>
<path stroke="#14c9e5" d="M947 1634h0m5-12h0m3 47h0m6-9h0m3-8h0m7-23h0m4-36h0m5 3h0m2-37h0m5 37h0m5 53h0m2 34h0m7-80h0m4 75h0m4 21h0m3-25h0m9 19h0m2-55h0m6-15h0m5 25h0m2 22h0m5-16h0m4-8h0m6 19h0m3-53h0m6 53h0m4-88h0m5 109h0m5-1h0m2 30h0m3-104h0m6 11h0m6-15h0m4-13h0m4-28h0m5 99h0m5-34h0m2 5h0m8-53h0m1 62h0m4 60h0m5-60h0m5 22h0m6-64h0m2 71h0m7-35h0m2 5h0m8 8h0m2-20h0m7 30h0m1-25h0m4-11h0m5-20h0m5-3h0m7 65h0m1 7h0m4-38h0m7-3h0m4-12h0m5 24h0m5 39h0m5-36h0m3-26h0m3 51h0m5-9h0m6-82h0m2 43h0m6 55h0m4-28h0m5-14h0m4 15h0m5-51h0m3 1h0m6 33h0m4 8h0m4 48h0m6-55h0m6 13h0m3 40h0m4-69h0m4 10h0m3 10h0m6 8h0m7-3h0m3 17h0m3-61h0m4-4h0m7 39h0m4-49h0m3 103h0m7-77h0m4 7h0m4 38h0m1-9h0m6 7h0m7-19h0m3-41h0m4 37h0m6-17h0m2-32h0m8 44h0m3 40h0m6-61h0m1 6h0m4 0h0m5 48h0m4-90h0m6 81h0m4-12h0m5-7h0m4-27h0m5 22h0m6 70h0m3-55h0m5-20h0m2 40h0m5-67h0m6 76h0m5-40h0m4 85h0m4-10h0m6-52h0m1-5h0m5-27h0m6 32h0m3 5h0m7-68h0m5-4h0m2 65h0m3-35h0m7 23h0m3-2h0m8 2h0m2-13h0m5 27h0m6 27h0m4 6h0m1-64h0m7 15h0m3 4h0m4-56h0m7-2h0m2 46h0m6 19h0m6 10h0m5-46h0m0 41h0m8-24h0m4-11h0m6 46h0m4-86h0m1-20h0m4 136h0m8-63h0m4 26h0m2-30h0m4-17h0m8 12h0m2-14h0m6 102h0m2-35h0m7 62h0m4 33h0m2-1h0m7 40h0m2 57h0m5-7h0m6 19h0m4 7h0m5 77h0m5 20h0m4-40h0m5 50h0m3-18h0m5-10h0m6-15h0m2 164h0m5-110h0m6-94h0m5 115h0m4 26h0m3-59h0m6-5h0m5 9h0m1 28h0m8-52h0m1 34h0m7-67h0m2 97h0m8-82h0m3 16h0m4 41h0m6 22h0m5-61h0m4 1h0m3 80h0m5-77h0m5-6h0m5 12h0m2 43h0m3 1h0m7 12h0m3-21h0m7-29h0m4 32h0m3 11h0m6-68h0m4 19h0m2 22h0m7 60h0m4-69h0m3 13h0m5 0h0m7 12h0m3 10h0m4-59h0m3-66h0m7 131h0m3-103h0m3 86h0m8 5h0m5 37h0m4-89h0m1 49h0m6 13h0m4 0h0m4 20h0m4-80h0m6 17h0m4 9h0m4 8h0m7 38h0m2-6h0m6-21h0m4 54h0m3-41h0m8-64h0m3 88h0m4-93h0m5 1h0m3 30h0m7-2h0m2 12h0m5 4h0m6-29h0m3 2h0m3 50h0m4-13h0m5-20h0m8-21h0m2 30h0m4-37h0m5-12h0m7 83h0m0-12h0m6-37h0m5 69h0m4-61h0m5 51h0m6-12h0m3-33h0m3 1h0m5 49h0m5-22h0m3-100h0m6 87h0m3-178h0m5 119h0m6 70h0m6-74h0m1 84h0m4-59h0m7 34h0m6-12h0m3 18h0m4 18h0m7-101h0m4 49h0m2 9h0m5 70h0m3-59h0m4-37h0m5-33h0m8-11h0m4 24h0m1 39h0m8-2h0m4 45h0m2-42h0m4 17h0m6-79h0m4 58h0m4-29h0m7-5h0m4 66h0m2-46h0m7-5h0m4 2h0m4-95h0m4 35h0m5 125h0m6-68h0m2-3h0m4 7h0m7-26h0m5 5h0m3-22h0m4 56h0m3-33h0m4 42h0m8 16h0m1-95h0m5 61h0m6-41h0m6 78h0m1-70h0m5 5h0m5-77h0m4 37h0m5-87h0m3-33h0m7-70h0m2 64h0m6-43h0m4 2h0m4-54h0m7-7h0m2-15h0m6-61h0m6 91h0m2 10h0m4-62h0m4 9h0m6 3h0m3 2h0m6-48h0m4 35h0m7 48h0m1-63h0m8-3h0m3-21h0m3 16h0m7-56h0m4 68h0m5 36h0m4-24h0m1-5h0m6-3h0m7 0h0m3-36h0m5-27h0m2 121h0m5-43h0m6-87h0m3 122h0m8-65h0m3 45h0m4-35h0m5-17h0m3 47h0m3-38h0m8-68h0m3 97h0m3-21h0m5 1h0m5-8h0m3 24h0m8 35h0m3-16h0m5-23h0m4-7h0m3-27h0m6 82h0m3-120h0m4 30h0m8 27h0m4 10h0m4 4h0m3-22h0m5 75h0m6-21h0m2-101h0m3 30h0m9-14h0m1 90h0m6-60h0m2-36h0m6 41h0m6-33h0m5 44h0m4 21h0m5-93h0m1 78h0m8 3h0m2-34h0m3 39h0m6-37h0m5 43h0m6-26h0m5-10h0m2 61h0m4-14h0m5-42h0m5-92h0m4 110h0m5-25h0m4 46h0m7-30h0m2-9h0m6-2h0m2 57h0m4 3h0m6-7h0m5-79h0m4 25h0m3 17h0m8-69h0m4 97h0m5-70h0m2 68h0m6-51h0m4 31h0m2-69h0m4-26h0m5 57h0m8-21h0m0 2h0m9 27h0m3 24h0m2 17h0m8-57h0m3-18h0m3 45h0m5-32h0m5-5h0m5 24h0m2 51h0m4-27h0m6-77h0m7 132h0m1-108h0m6 49h0m7-31h0m1 57h0m8-18h0m1 26h0m7-31h0m4-13h0m6 45h0m2-102h0"/>
<path stroke="#14c9e5" d="M3881 1567h0m5 68h0m3-14h0m6 33h0m3 13h0m7-62h0m4 56h0m5 5h0m2-42h0m5 67h0m5-82h0m2-20h0m7 45h0m4 52h0m4-36h0m3-70h0m9 37h0m2 54h0m6-60h0m5 17h0m2-26h0m5 92h0m4-8h0m6-92h0m3-16h0m6 73h0m4-4h0m5-13h0m5 4h0m2-13h0m3 38h0m6-2h0m6 13h0m4-12h0m4-62h0m5 21h0m5 5h0m2 12h0m8-25h0m1-4h0m4 18h0m5-6h0m5 9h0m6 54h0m2-9h0m7-72h0m2 34h0m8-12h0m2-17h0m7 42h0m1-77h0m4 66h0m5-16h0m5-70h0m7 94h0m1 15h0m4-23h0m7 6h0m4-41h0m5 41h0m5 32h0m5-81h0m3 104h0m3-124h0m5 83h0m6-47h0m2 26h0m6-8h0m4 1h0m5 31h0m4-40h0m5 15h0m3 30h0m6-40h0m4-62h0m4 49h0m6-1h0m6-10h0m3 48h0m4-17h0m4-27h0m3 6h0m6-27h0m7 8h0m3 150h0m3-166h0m4 167h0m7-115h0m4-5h0m3-12h0m7-21h0m4 58h0m4-29h0m1-11h0m6 19h0m7 50h0m3-63h0m4 10h0m6 47h0m2-74h0m8 80h0m3 28h0m6-77h0m1-51h0m4 82h0m5-40h0m4 51h0m6-25h0m4-7h0m5-36h0m4 64h0m5-22h0m6 0h0m3 0h0m5 0h0m2-7h0m5-9h0m6-102h0m5 87h0m4 7h0m4 45h0m6-1h0m1-63h0m5 14h0m6-3h0m3 29h0m7-1h0m5 10h0m2-39h0m3 10h0m7 75h0m3-99h0m8 81h0m2-21h0m5 5h0m6-22h0m4-7h0m1 24h0m7-29h0m3 4h0m4-7h0m7 21h0m2-15h0m6-7h0m6 28h0m5-13h0m0-46h0m8 39h0m4 44h0m6-30h0m4 83h0m1-148h0m4 64h0m8-72h0m4 79h0m2-39h0m4 15h0m8 19h0m2-40h0m6 4h0m2 10h0m7 34h0m4 19h0m2-65h0m7-5h0m2 30h0m5-39h0m6-6h0m4 59h0m5-32h0m5 64h0m4-77h0m5 75h0m3-8h0m5-48h0m6 16h0m2-89h0m5 91h0m6-6h0m5-27h0m4 67h0m3-116h0m6 116h0m5-40h0m1 4h0m8-53h0m1 67h0m7-36h0m2 21h0m8 23h0m3-55h0m4-61h0m6 98h0m5-3h0m4-14h0m3-13h0m5-8h0m5 32h0m5 15h0m2-32h0m3 54h0m7-47h0m3 28h0m7-25h0m4 5h0m3 31h0m6-9h0m4 17h0m2-2h0m7-34h0m4 23h0m3-8h0m5-1h0m7 11h0m3-22h0m4 2h0m3 11h0m7-45h0m3 55h0m3 5h0m8-94h0m5 86h0m4-45h0m1-4h0m6 70h0m4-73h0m4 35h0m4-27h0m6-18h0m4 93h0m4-79h0m7-14h0m2 26h0m6 67h0m4-106h0m3 85h0m8-57h0m3 29h0m4-9h0m5 35h0m3-56h0m7 82h0m2-70h0m5-32h0m6 50h0m3 19h0m3-4h0m4 9h0m5-37h0m8 52h0m2-18h0m4-55h0m5 16h0m7-10h0m0 8h0m6 21h0m5-21h0m4 9h0m5 29h0m6 3h0m3 19h0m3-143h0m5 78h0m5-2h0m3 5h0m6-11h0m3-1h0m5 51h0m6 18h0m6-74h0m1 57h0m4-91h0m7 84h0m6 36h0m3-23h0m4-55h0m7-1h0m4 17h0m2 50h0m5-29h0m3-5h0m4 10h0m5-50h0m8-34h0m4 49h0m1 3h0m8 24h0m4-7h0m2 98h0m4-114h0m6-3h0m4 61h0m4-42h0m7 59h0m4-1h0m2-33h0m7-2h0m4-73h0m4 90h0m4-34h0m5 13h0m6 11h0m2-26h0m4-34h0m7 14h0m5-15h0m3 60h0m4-30h0m3 3h0m4-17h0m8 11h0m1-33h0m5 40h0m6-38h0m6 43h0m1-17h0m5 22h0m5 20h0m4-19h0m5-10h0m3 22h0m7-44h0m2 16h0m6 15h0m4-58h0m4 24h0m7 86h0m2-46h0m6-13h0m6 12h0m2-23h0m4-8h0m4 4h0m6 42h0m3 74h0m6-124h0m4 13h0m7 18h0m1-49h0m8 38h0m3 30h0m3 3h0m7 40h0m4-85h0m5 10h0m4 28h0m1-18h0m6 26h0m7-35h0m3-54h0m5 28h0m2-27h0m5 57h0m6 35h0m3-22h0m8-42h0m3-96h0m4 124h0m5-26h0m3 1h0m3 20h0m8 73h0m3-87h0m3-10h0m5-22h0m5 74h0m3-59h0m8-29h0m3 43h0m5 24h0m4-48h0m3 37h0m6-50h0m3 90h0m4-76h0m8 35h0m4-28h0m4 13h0m3 27h0m5-28h0m6 15h0m2 41h0m3 43h0m9-54h0m1-25h0m6 6h0m2-47h0m6 5h0m6 0h0m5 48h0m4-17h0m5-8h0m1 86h0m8-75h0m2 27h0m3-12h0m6-13h0m5 14h0m6-63h0m5 51h0m2 63h0m4-14h0m5-59h0m5 51h0m4-18h0m5-38h0m4-38h0m7 59h0m2-29h0m6 96h0m2-64h0m4-58h0m6 31h0m5 27h0m4 29h0m3-122h0m8 97h0m4-57h0m5 33h0m2-20h0m6 57h0m4-19h0m2 45h0m4-15h0m5-63h0m8-47h0m0 62h0m9-10h0m3 21h0m2-27h0m8 3h0m3 44h0m3-16h0m5-30h0m5 35h0m5-67h0m2 55h0m4 29h0m6-45h0m7-28h0m1 48h0m6-17h0m7 68h0m1-60h0m8-17h0m1-17h0m7-104h0m4 115h0m6 28h0m2-31h0"/>
<path stroke="#2cdedc" d="M948 1930h0m3 0h0m7 0h0m4 14h0m5 4h0m3-41h0m6 6h0m1 69h0m5 20h0m5-64h0m3 0h0m4 22h0m8-15h0m5-9h0m1-2h0m4 46h0m5-68h0m4 39h0m8-53h0m3 54h0m4-8h0m5-13h0m6 15h0m3-66h0m6 29h0m4 11h0m2 17h0m7-4h0m3-21h0m7 24h0m1 10h0m5 67h0m6-73h0m3 5h0m6-1h0m5-19h0m5-4h0m4 38h0m4-33h0m2-7h0m6 15h0m3 51h0m4-87h0m6 25h0m3 21h0m8 10h0m3 33h0m5 11h0m3-82h0m6 43h0m3 37h0m5-24h0m5-63h0m2 8h0m7 22h0m4 24h0m4-59h0m6 59h0m1-47h0m5 40h0m7 3h0m3-8h0m4 17h0m3-32h0m8 6h0m3 35h0m3-59h0m8-1h0m1-25h0m7 97h0m3-77h0m4 53h0m7-27h0m4 12h0m5-27h0m3 8h0m4 35h0m7-27h0m1-63h0m4 54h0m5-39h0m6 60h0m4 11h0m4-21h0m6 40h0m3 1h0m4-54h0m7 39h0m5-42h0m3 14h0m5-18h0m2 15h0m5-40h0m8 32h0m1-34h0m5 88h0m5-65h0m6 14h0m5-46h0m2 26h0m6 39h0m4-82h0m5 76h0m5-25h0m1 82h0m7-45h0m3 7h0m7-18h0m1 22h0m5-68h0m6 89h0m5-28h0m5-74h0m4 62h0m2-11h0m4 46h0m4-55h0m7 10h0m5 13h0m6-20h0m2 59h0m5-38h0m2-36h0m8 28h0m5-14h0m1 119h0m5-146h0m6-23h0m3 124h0m6-67h0m2 37h0m6-35h0m6-16h0m1 32h0m5-14h0m8-23h0m2-40h0m4 70h0m4 33h0m5-6h0m4-80h0m5 87h0m4-87h0m4 28h0m6 18h0m5-1h0m6-27h0m1 16h0m4 14h0m5-1h0m8 19h0m1 7h0m6-25h0m3-26h0m6 46h0m3-24h0m6-25h0m4-34h0m4 99h0m4 38h0m8 48h0m4-41h0m2 38h0m4-35h0m6 90h0m2 14h0m8 3h0m3 58h0m5 43h0m6 28h0m0-56h0m8 79h0m4 36h0m4-42h0m6-5h0m2 4h0m5 42h0m3-39h0m5-57h0m7 91h0m1 78h0m6-83h0m5 33h0m5-36h0m3-19h0m7-26h0m3 54h0m5-17h0m3 33h0m5-26h0m4 19h0m7-95h0m3 85h0m4 10h0m6-10h0m5 37h0m1-50h0m7 27h0m2-92h0m6 96h0m2 0h0m6-57h0m5-47h0m7 44h0m3 33h0m2 58h0m6-98h0m3 57h0m6 7h0m5 23h0m2-69h0m4 48h0m5-72h0m5-20h0m4 66h0m8-28h0m3-49h0m4 127h0m4-19h0m6-6h0m3-54h0m3 9h0m8-32h0m2 56h0m5-9h0m7 9h0m2 53h0m6-70h0m4 12h0m4-47h0m5 109h0m6-12h0m4-126h0m4 3h0m5 139h0m1 10h0m6-44h0m6 26h0m3-98h0m4 49h0m7 28h0m1-37h0m5-29h0m4 29h0m4-26h0m6 100h0m5-83h0m3-11h0m4-44h0m8 121h0m3-60h0m4 26h0m7-25h0m1 14h0m4-9h0m8-24h0m4 39h0m3-47h0m4 39h0m4 3h0m7 15h0m3-62h0m3 117h0m4-78h0m6-51h0m3-19h0m7 62h0m3-7h0m3 26h0m5-80h0m7 53h0m5 16h0m3 19h0m2-99h0m5 40h0m5-7h0m6 23h0m6-8h0m4 14h0m4-38h0m5 47h0m3-71h0m5 53h0m3 78h0m4-115h0m7 100h0m4-18h0m2-65h0m7 33h0m6 3h0m2-58h0m6-43h0m4 66h0m5-40h0m5 68h0m0-83h0m7 136h0m3 11h0m4-116h0m5-48h0m7 84h0m4-32h0m6 13h0m1-54h0m7 2h0m3 72h0m6-70h0m4-26h0m2 91h0m4 2h0m8-36h0m4-28h0m5 97h0m2-74h0m6 35h0m3-80h0m7-39h0m1 46h0m5 21h0m4-103h0m6-17h0m5-16h0m4 36h0m7-80h0m1 8h0m4-5h0m5-29h0m4 10h0m6-125h0m5 46h0m4 2h0m6-52h0m2 44h0m6 4h0m4-20h0m5-10h0m3 63h0m5-32h0m3-11h0m5 11h0m6-25h0m5 24h0m3 9h0m6-45h0m2 26h0m5 0h0m5 8h0m3-19h0m8 13h0m4-15h0m2-14h0m4 12h0m7-35h0m6 72h0m3-8h0m3-41h0m4-2h0m6-25h0m4 17h0m5 2h0m5 54h0m5-27h0m3 39h0m4-13h0m4-2h0m4-57h0m5 101h0m6-64h0m2-69h0m4 67h0m5-4h0m6 30h0m3-52h0m7 38h0m2-17h0m8 52h0m2-49h0m5 26h0m5 16h0m2-59h0m5 37h0m4-8h0m7 50h0m4-32h0m6-44h0m2 85h0m6-78h0m3 16h0m6 5h0m3 15h0m6-41h0m1 15h0m8-5h0m4 19h0m3-33h0m5 12h0m5-32h0m5 103h0m3-40h0m7 24h0m4-64h0m4-35h0m3 5h0m4 12h0m4 58h0m7-30h0m3-5h0m5-23h0m5 96h0m4-100h0m3 38h0m5-2h0m4 4h0m7 0h0m3 17h0m6 75h0m5-10h0m2-66h0m6-45h0m4 85h0m5 2h0m3-71h0m6 37h0m3-95h0m6 43h0m5 71h0m1-94h0m8 79h0m4 15h0m1-84h0m7 43h0m5 54h0m2 30h0m6-76h0m4 47h0m6-77h0m4 6h0m4 37h0m5 10h0m2-18h0m6 32h0m5-10h0m6 17h0m2-18h0m5-23h0m3 4h0m5-8h0m7 9h0m2 31h0m5-3h0"/>
<path stroke="#2cdedc" d="M3882 1919h0m3 20h0m7-21h0m4 75h0m5-113h0m3-20h0m6 41h0m1-69h0m5 77h0m5 68h0m3-28h0m4 10h0m8-37h0m5-16h0m1 15h0m4-36h0m5-13h0m4 89h0m8-36h0m3 45h0m4-87h0m5 46h0m6-50h0m3 97h0m6-47h0m4-35h0m2 1h0m7 71h0m3-73h0m7 26h0m1 7h0m5-32h0m6 80h0m3 10h0m6-75h0m5 24h0m5 17h0m4-4h0m4 4h0m2-59h0m6 37h0m3-45h0m4 41h0m6 19h0m3 11h0m8-92h0m3 73h0m5-51h0m3 59h0m6-3h0m3-3h0m5 21h0m5-21h0m2-33h0m7 14h0m4 21h0m4-62h0m6 44h0m1 19h0m5-45h0m7 72h0m3-4h0m4-18h0m3-20h0m8-7h0m3 29h0m3-4h0m8 15h0m1-51h0m7 41h0m3 15h0m4-65h0m7 34h0m4-3h0m5-7h0m3 36h0m4-35h0m7 27h0m1-9h0m4 11h0m5-31h0m6-13h0m4 40h0m4-18h0m6 24h0m3-41h0m4-2h0m7 39h0m5-17h0m3-9h0m5 25h0m2-26h0m5 11h0m8 10h0m1-49h0m5 63h0m5-29h0m6-9h0m5 7h0m2-18h0m6-36h0m4 58h0m5-16h0m5 64h0m1-5h0m7-60h0m3 26h0m7 23h0m1-22h0m5-16h0m6-5h0m5-21h0m5 57h0m4-7h0m2-14h0m4-5h0m4 52h0m7-38h0m5 27h0m6-78h0m2 11h0m5 1h0m2 47h0m8-33h0m5 51h0m1-36h0m5 26h0m6-40h0m3 38h0m6-37h0m2 8h0m6-28h0m6-24h0m1 19h0m5 43h0m8 0h0m2-57h0m4 13h0m4-6h0m5 59h0m4-44h0m5-4h0m4 44h0m4-32h0m6 34h0m5 7h0m6-40h0m1-34h0m4 43h0m5 74h0m8-98h0m1 73h0m6-60h0m3-10h0m6 73h0m3-57h0m6-52h0m4 24h0m4 15h0m4 8h0m8 56h0m4-9h0m2-29h0m4 13h0m6-27h0m2-37h0m8 52h0m3-8h0m5 35h0m6-18h0m0 25h0m8-47h0m4 1h0m4-3h0m6-12h0m2 59h0m5-28h0m3-41h0m5 17h0m7 76h0m1 14h0m6-29h0m5-38h0m5 44h0m3-49h0m7-34h0m3 37h0m5-35h0m3 27h0m5 75h0m4-53h0m7-9h0m3 18h0m4-38h0m6 21h0m5-38h0m1-11h0m7 26h0m2-22h0m6-31h0m2 52h0m6-16h0m5 4h0m7 71h0m3-25h0m2 11h0m6-36h0m3-25h0m6 4h0m5 81h0m2-139h0m4 53h0m5 38h0m5-52h0m4 78h0m8-83h0m3 51h0m4 48h0m4-21h0m6-33h0m3 3h0m3 48h0m8 14h0m2-42h0m5-72h0m7 27h0m2 62h0m6-55h0m4 4h0m4-11h0m5 17h0m6 43h0m4 12h0m4-75h0m5 72h0m1-83h0m6 74h0m6 26h0m3-95h0m4-17h0m7 88h0m1-11h0m5-13h0m4-31h0m4 36h0m6-58h0m5 70h0m3 47h0m4-82h0m8 43h0m3-58h0m4 36h0m7-16h0m1 20h0m4-23h0m8-44h0m4 85h0m3-68h0m4 70h0m4-108h0m7 98h0m3-13h0m3-27h0m4 45h0m6-22h0m3 41h0m7-28h0m3 17h0m3-100h0m5 105h0m7-50h0m5 0h0m3-33h0m2 18h0m5 13h0m5 11h0m6 0h0m6-14h0m4 17h0m4 21h0m5-41h0m3-5h0m5 53h0m3-20h0m4-71h0m7 79h0m4-8h0m2 54h0m7-40h0m6-2h0m2-27h0m6-27h0m4 26h0m5-5h0m5-1h0m0 44h0m7-67h0m3 85h0m4-84h0m5-13h0m7 73h0m4-37h0m6-14h0m1 34h0m7-27h0m3 18h0m6-15h0m4 16h0m2-30h0m4 46h0m8-34h0m4 16h0m5-70h0m2 82h0m6-33h0m3 11h0m7-5h0m1-7h0m5-13h0m4 59h0m6-44h0m5 9h0m4-5h0m7-12h0m1 56h0m4-54h0m5 31h0m4-36h0m6-20h0m5-1h0m4 61h0m6-76h0m2 8h0m6 33h0m4 37h0m5-41h0m3 56h0m5-39h0m3-2h0m5 55h0m6-32h0m5-29h0m3-3h0m6 42h0m2 17h0m5-51h0m5 4h0m3 38h0m8-81h0m4 61h0m2-5h0m4-13h0m7-23h0m6-44h0m3 66h0m3-32h0m4 46h0m6-25h0m4 4h0m5 57h0m5-23h0m5-50h0m3 55h0m4-37h0m4-29h0m4 44h0m5-4h0m6 30h0m2 1h0m4 2h0m5-54h0m6 19h0m3-52h0m7 64h0m2-16h0m8-60h0m2 85h0m5-5h0m5-63h0m2-19h0m5 57h0m4 18h0m7-11h0m4 47h0m6 94h0m2-134h0m6-10h0m3-7h0m6 77h0m3-62h0m6 20h0m1 6h0m8 5h0m4-19h0m3 98h0m5-93h0m5-11h0m5-39h0m3 22h0m7 9h0m4 34h0m4-49h0m3 24h0m4-13h0m4-77h0m7 91h0m3 44h0m5-97h0m5 80h0m4-73h0m3 25h0m5 10h0m4 32h0m7-29h0m3 2h0m6 27h0m5 2h0m2-35h0m6 20h0m4 28h0m5-27h0m3-47h0m6 33h0m3-49h0m6 116h0m5-63h0m1-57h0m8 37h0m4 27h0m1 9h0m7-27h0m5-8h0m2-16h0m6 57h0m4 11h0m6-29h0m4-4h0m4-1h0m5-22h0m2 5h0m6 29h0m5-9h0m6 5h0m2-36h0m5 47h0m3-56h0m5 71h0m7-45h0m2 15h0m5-31h0"/>
<path stroke="#43edd3" d="M946 2233h0m6 8h0m2 13h0m5-25h0m6 35h0m7-3h0m0-31h0m8 17h0m1-43h0m6 38h0m4-5h0m7-51h0m3 46h0m4 40h0m3-71h0m4-11h0m7 40h0m4-17h0m3-13h0m5 33h0m5-32h0m5 34h0m6 30h0m2-24h0m6-4h0m5-38h0m4 74h0m5-50h0m4 63h0m6-72h0m3 19h0m4-43h0m3 51h0m7-54h0m4 46h0m3 51h0m5-30h0m4-65h0m5 71h0m6-68h0m2 28h0m3-21h0m5 18h0m8 11h0m1-75h0m7 109h0m2-37h0m4-30h0m6 43h0m7 37h0m1-79h0m5 53h0m4-23h0m7 5h0m4-20h0m3 19h0m6 18h0m4-69h0m4 24h0m6 8h0m5-2h0m3-36h0m4 35h0m6-19h0m2 49h0m4-12h0m5 5h0m7 7h0m3-27h0m3-17h0m5 55h0m6-36h0m3-7h0m5 124h0m3-197h0m7 120h0m5 17h0m2-54h0m7-9h0m3 31h0m5-37h0m6-38h0m3 99h0m5 16h0m3-94h0m5 89h0m6-33h0m5-14h0m1 24h0m4-37h0m8 5h0m1 14h0m4 6h0m5-88h0m5 116h0m5-19h0m6 16h0m3-40h0m5-28h0m6 50h0m3 0h0m3 14h0m6-9h0m6-50h0m4-8h0m2 29h0m5 20h0m5-16h0m6-14h0m1 22h0m8-64h0m5 55h0m3-67h0m3 125h0m4-113h0m6 117h0m3-30h0m7 6h0m1-7h0m6-39h0m4 15h0m5 49h0m3-86h0m6 27h0m7 38h0m4-52h0m3 77h0m6-93h0m4 13h0m2 27h0m5-27h0m4 16h0m7 8h0m1-6h0m7 17h0m5 15h0m4-15h0m5-4h0m2-4h0m8 8h0m3 2h0m6 13h0m1 28h0m4-73h0m6 139h0m4-90h0m5 4h0m5-49h0m4 26h0m7 2h0m3-19h0m4 31h0m3-60h0m6 10h0m4 53h0m5-13h0m6-60h0m2 73h0m3 8h0m8 60h0m5-4h0m0 4h0m5-8h0m6 56h0m2 3h0m9 74h0m2-72h0m7 97h0m3 53h0m4-106h0m6 160h0m2-20h0m4 17h0m4 5h0m5-36h0m5 57h0m6-20h0m1-74h0m8 90h0m5-64h0m1 5h0m4 50h0m8-27h0m2 21h0m7 5h0m2-14h0m5 20h0m3-70h0m5 118h0m6-29h0m3-54h0m8 17h0m3 61h0m6-84h0m5-26h0m0 134h0m6-26h0m7-33h0m2 47h0m4-42h0m4 9h0m5-4h0m7 33h0m1-87h0m6 37h0m5 11h0m5-50h0m5-7h0m4 44h0m6 60h0m3-61h0m4 43h0m5 7h0m1 3h0m5-25h0m8-84h0m3-15h0m4 37h0m3 30h0m8 7h0m2-31h0m4 23h0m5 34h0m3-65h0m5 65h0m6-1h0m4-83h0m6 68h0m4-6h0m2 19h0m8-2h0m3-95h0m6 147h0m4-64h0m3 30h0m2-2h0m6-68h0m7 33h0m1-5h0m5 86h0m8-127h0m2 103h0m6-23h0m3-36h0m6-34h0m2 30h0m8 31h0m1-58h0m6 41h0m4 14h0m5 3h0m3-38h0m6 35h0m5 3h0m4-99h0m3 29h0m8-9h0m1 24h0m7 53h0m2-9h0m7-5h0m1-33h0m8 54h0m3-94h0m6 6h0m1 75h0m4-36h0m6 48h0m6-8h0m1 3h0m7-64h0m3 8h0m7-41h0m5 59h0m5-1h0m3-21h0m3 10h0m3 16h0m5 25h0m5-54h0m7-3h0m4 18h0m3 23h0m3 46h0m7-34h0m5-123h0m2 25h0m5 32h0m5-65h0m6 116h0m2-58h0m8-17h0m1 40h0m8 16h0m3-25h0m1 11h0m9 33h0m3-73h0m5 36h0m2-68h0m4 23h0m7 79h0m3-65h0m5-11h0m6 64h0m2-47h0m4 49h0m5 35h0m7 9h0m4-90h0m1 20h0m9-36h0m2 83h0m3-43h0m6 75h0m4-125h0m3-5h0m6-121h0m7 36h0m4-16h0m2 27h0m5-12h0m4-78h0m8-16h0m0 23h0m6-54h0m5 1h0m6-1h0m4-88h0m2 27h0m6 28h0m4-35h0m7 48h0m0-61h0m8 47h0m5-28h0m1 11h0m6-40h0m3 56h0m4-71h0m7 71h0m6-34h0m1 8h0m5 34h0m4-86h0m4 69h0m6-13h0m3-28h0m6 42h0m3-26h0m7 61h0m5-76h0m1 66h0m7-5h0m5-33h0m2-34h0m6 21h0m3-41h0m8 19h0m2 3h0m5 31h0m5-56h0m3 59h0m5-29h0m3 45h0m5-11h0m5-39h0m4 27h0m8 0h0m1-24h0m7 8h0m4 4h0m4-28h0m4-7h0m4 46h0m7-63h0m1 71h0m7 12h0m5-40h0m3 27h0m3-38h0m7 45h0m4 78h0m5-83h0m2-17h0m4 0h0m5-43h0m7 21h0m4 14h0m2-11h0m5 23h0m4 37h0m5-85h0m4 24h0m7 25h0m2-42h0m7 8h0m4 44h0m4 3h0m4-8h0m6-42h0m4 49h0m3 9h0m3-41h0m9 16h0m2-10h0m5 1h0m3-9h0m3 30h0m5-39h0m4 80h0m6-34h0m4-28h0m4 78h0m5-65h0m8-77h0m1 107h0m7-13h0m5-23h0m3 3h0m5-21h0m2-18h0m5 3h0m6 113h0m3-98h0m6 24h0m5 52h0m2-79h0m7 20h0m3-12h0m6-33h0m4 63h0m3 4h0m6-27h0m4 1h0m4 26h0m6 3h0m4 40h0m2-40h0m7 3h0m2-45h0m4-23h0m7 84h0m4-67h0m5 48h0m4-19h0m5-28h0m3 33h0m5 47h0m6-11h0"/>
<path stroke="#43edd3" d="M3880 2270h0m6-69h0m2 69h0m5-60h0m6 32h0m7-25h0m0 10h0m8 32h0m1-34h0m6-15h0m4 49h0m7 33h0m3-74h0m4 2h0m3-9h0m4-25h0m7 19h0m4 35h0m3-49h0m5 47h0m5-5h0m5 14h0m6 27h0m2-49h0m6-41h0m5 50h0m4 11h0m5 38h0m4-54h0m6-23h0m3-8h0m4 47h0m3-26h0m7 39h0m4 10h0m3-41h0m5 18h0m4-17h0m5 18h0m6-62h0m2 16h0m3 77h0m5-97h0m8 14h0m1 50h0m7-48h0m2 17h0m4-15h0m6 74h0m7-50h0m1 55h0m5-44h0m4-57h0m7 55h0m4-62h0m3 87h0m6-99h0m4 102h0m4-16h0m6 30h0m5-33h0m3-5h0m4-21h0m6-7h0m2-4h0m4 13h0m5 3h0m7 81h0m3-61h0m3-69h0m5 98h0m6-39h0m3-25h0m5 26h0m3-25h0m7 38h0m5-27h0m2 43h0m7-72h0m3 46h0m5-48h0m6 98h0m3-94h0m5 99h0m3-70h0m5 73h0m6-91h0m5 16h0m1 54h0m4-86h0m8 60h0m1-69h0m4 117h0m5-33h0m5-91h0m5 46h0m6 45h0m3 110h0m5-145h0m6-57h0m3 99h0m3-65h0m6 24h0m6-15h0m4-30h0m2-27h0m5 121h0m5-45h0m6-4h0m1-20h0m8 30h0m5-46h0m3-3h0m3-7h0m4-3h0m6 56h0m3-58h0m7 108h0m1-64h0m6-11h0m4 7h0m5 58h0m3-124h0m6 74h0m7 56h0m4-22h0m3-24h0m6-23h0m4 158h0m2-159h0m5 76h0m4-127h0m7 15h0m1 51h0m7-15h0m5-64h0m4 77h0m5 155h0m2-159h0m8 19h0m3-15h0m6 0h0m1 9h0m4-3h0m6-5h0m4 12h0m5 2h0m5-9h0m4-53h0m7 20h0m3-9h0m4 29h0m3 57h0m6-40h0m4-23h0m5 79h0m6-39h0m2-47h0m3 49h0m8 6h0m5-2h0m0-50h0m5 27h0m6-29h0m2-22h0m9 60h0m2-146h0m7 124h0m3 38h0m4-13h0m6-21h0m2 14h0m4-7h0m4 38h0m5-25h0m5 29h0m6-68h0m1 18h0m8-12h0m5 50h0m1-6h0m4-23h0m8 24h0m2-24h0m7-8h0m2 23h0m5-9h0m3 65h0m5-114h0m6 105h0m3-93h0m8 55h0m3-57h0m6-23h0m5 104h0m0-55h0m6 58h0m7-75h0m2-3h0m4 65h0m4-59h0m5 21h0m7-30h0m1 21h0m6-62h0m5 57h0m5 8h0m5 33h0m4 2h0m6-34h0m3 6h0m4-5h0m5 70h0m1-90h0m5 49h0m8-23h0m3-44h0m4 59h0m3 19h0m8-27h0m2-47h0m4 56h0m5 25h0m3-57h0m5 42h0m6-80h0m4 12h0m6 28h0m4 11h0m2 29h0m8 1h0m3-54h0m6 57h0m4 17h0m3-23h0m2-30h0m6-5h0m7-18h0m1-36h0m5 37h0m8-21h0m2 52h0m6-3h0m3 9h0m6-2h0m2 5h0m8-32h0m1 5h0m6 25h0m4 32h0m5-102h0m3 21h0m6 26h0m5-24h0m4 14h0m3 18h0m8-25h0m1 50h0m7-3h0m2 26h0m7-33h0m1 9h0m8-118h0m3 120h0m6-55h0m1 98h0m4-90h0m6 32h0m6-57h0m1 10h0m7 44h0m3 5h0m7 37h0m5-22h0m5 14h0m3 22h0m3-111h0m3 96h0m5-73h0m5 36h0m7-13h0m4 31h0m3-1h0m3-9h0m7-32h0m5-45h0m2 61h0m5-3h0m5 3h0m6 16h0m2 44h0m8-26h0m1-21h0m8-31h0m3-23h0m1 87h0m9-25h0m3-21h0m5-50h0m2 38h0m4 31h0m7-7h0m3-27h0m5 20h0m6-14h0m2-5h0m4 57h0m5-21h0m7-13h0m4-25h0m1 58h0m9-86h0m2 51h0m3-43h0m6-33h0m4 52h0m3-51h0m6 55h0m7-35h0m4 44h0m2-16h0m5-34h0m4 35h0m8-11h0m0 72h0m6-2h0m5-20h0m6 4h0m4 48h0m2-67h0m6-3h0m4 45h0m7-9h0m0-70h0m8 79h0m5-44h0m1 40h0m6 4h0m3-61h0m4 13h0m7 17h0m6-59h0m1 10h0m5 35h0m4-5h0m4-29h0m6 26h0m3 15h0m6-34h0m3-4h0m7 20h0m5-29h0m1 6h0m7 15h0m5-50h0m2 44h0m6 25h0m3-40h0m8 69h0m2-26h0m5 33h0m5-45h0m3 23h0m5-23h0m3-32h0m5 53h0m5-41h0m4 40h0m8-49h0m1 32h0m7-9h0m4 49h0m4-50h0m4 46h0m4-19h0m7 32h0m1-61h0m7 76h0m5-34h0m3-7h0m3-14h0m7 37h0m4-88h0m5 68h0m2-58h0m4 50h0m5 11h0m7-16h0m4-20h0m2-22h0m5-16h0m4 23h0m5 37h0m4-62h0m7 130h0m2-84h0m7-23h0m4 58h0m4 2h0m4-22h0m6-37h0m4 26h0m3 35h0m3-13h0m9-149h0m2 150h0m5 30h0m3-78h0m3-38h0m5 36h0m4 28h0m6-10h0m4 0h0m4-92h0m5 76h0m8-2h0m1 21h0m7 39h0m5-62h0m3 60h0m5 8h0m2 20h0m5-80h0m6 59h0m3-56h0m6 6h0m5-41h0m2 17h0m7 2h0m3 73h0m6-33h0m4-1h0m3-21h0m6-2h0m4-18h0m4 20h0m6 55h0m4-51h0m2 72h0m7-47h0m2-29h0m4 53h0m7-43h0m4 34h0m5-49h0m4 63h0m5-33h0m3-6h0m5 23h0m6-47h0"/>
<path stroke="#59f8c8" d="M946 2494h0m5 49h0m6 48h0m4 13h0m5-8h0m4-96h0m2 26h0m5-8h0m5-12h0m6-2h0m3 17h0m6 16h0m2 27h0m7 1h0m5-52h0m4 0h0m4 39h0m4-8h0m6-37h0m5 18h0m3-60h0m4 67h0m4-48h0m4 48h0m6-102h0m5 93h0m2-40h0m5 21h0m3 21h0m6-25h0m3 74h0m5-21h0m8-44h0m5 68h0m3-56h0m4 8h0m4 50h0m3 5h0m5-60h0m7 23h0m3-27h0m5 35h0m5-40h0m5 45h0m3-90h0m5 65h0m3 26h0m7-32h0m2-60h0m6 60h0m5-42h0m3 19h0m3 19h0m6 54h0m4-63h0m6-33h0m4 95h0m5-67h0m4-11h0m5 12h0m3-1h0m4 50h0m5-111h0m4 41h0m7 52h0m1-20h0m7-9h0m1-58h0m5 90h0m7-46h0m6 62h0m1-119h0m4 85h0m4 7h0m6 34h0m5-49h0m4-24h0m7 29h0m4-35h0m5 31h0m5-69h0m1 65h0m8 5h0m2 2h0m7-6h0m4 58h0m3 6h0m4-28h0m3-32h0m4 43h0m7-40h0m3-16h0m5-6h0m5 15h0m3 51h0m7-5h0m3-3h0m3-27h0m5-31h0m5 29h0m3-11h0m7-19h0m4 54h0m5-85h0m3 7h0m6 6h0m5 20h0m2 14h0m3 29h0m8 3h0m5-42h0m5-4h0m4 22h0m3 30h0m4-19h0m6 8h0m3 8h0m5-16h0m5-11h0m2-67h0m5 49h0m6-24h0m3 15h0m5 15h0m7 32h0m3 11h0m2-59h0m6 44h0m6 3h0m3-80h0m6 72h0m3-12h0m6-56h0m4 62h0m5 19h0m1 3h0m9-40h0m4 40h0m3 9h0m6-13h0m3-66h0m2 74h0m5-46h0m5 0h0m7 59h0m2 6h0m6 2h0m3-142h0m4 138h0m5-113h0m4 86h0m7-58h0m3 49h0m5 24h0m5-3h0m1-42h0m9-72h0m4 85h0m4 22h0m5 43h0m4 88h0m4-71h0m5 77h0m5-31h0m5 32h0m3 47h0m5 43h0m4 24h0m4-32h0m5 67h0m4-38h0m5 151h0m4-52h0m5-20h0m3-34h0m6 12h0m1 27h0m7-30h0m6 29h0m5-35h0m3 8h0m2 64h0m7-70h0m3 19h0m4-18h0m4 55h0m5-54h0m5 24h0m4 14h0m6-12h0m4 32h0m5-10h0m2-3h0m6-25h0m6 10h0m4-19h0m3 4h0m6-9h0m4 90h0m2-21h0m7-71h0m3 36h0m5 36h0m4-37h0m7 67h0m4-103h0m1 48h0m7-82h0m2 123h0m5-69h0m5 32h0m6 30h0m4-40h0m5-13h0m3-7h0m6 76h0m3 6h0m4-75h0m7 68h0m3-71h0m7-61h0m4 58h0m2-6h0m4 40h0m5 3h0m5-42h0m3-1h0m5 21h0m5-82h0m5 109h0m6 14h0m3-33h0m3-103h0m7 94h0m1-24h0m5 6h0m8 82h0m2-68h0m5-16h0m4 47h0m3-74h0m7 112h0m2-47h0m6-6h0m4 4h0m3-65h0m7 72h0m4-3h0m3-16h0m4-32h0m8 26h0m5 54h0m3-78h0m5 41h0m5 17h0m4-77h0m3 27h0m3 28h0m6 34h0m4-35h0m3-34h0m8 20h0m4-63h0m6 81h0m4-22h0m3-7h0m6 11h0m4 3h0m3-43h0m4 112h0m5-116h0m4 42h0m3-3h0m7-62h0m2 49h0m5-28h0m7-15h0m3-17h0m6 61h0m3 37h0m5-7h0m6-34h0m0 18h0m5-95h0m6 90h0m5-33h0m6 42h0m5 2h0m2-25h0m5-12h0m6-1h0m4 72h0m2-78h0m6 25h0m5 17h0m6 17h0m3-101h0m3 54h0m3-48h0m6 29h0m6 36h0m4-90h0m3 69h0m5-12h0m3 34h0m8-32h0m2 6h0m7-20h0m5 49h0m2-15h0m5-16h0m6-128h0m4 138h0m5-49h0m4 38h0m3-23h0m5-16h0m4-53h0m2 8h0m7-46h0m5-69h0m5 35h0m3-51h0m7-7h0m2 20h0m4-13h0m4-43h0m3-24h0m7-43h0m4-31h0m4 42h0m7-4h0m3-29h0m6 34h0m1-53h0m8 49h0m5-33h0m2-6h0m6 1h0m4 10h0m2-14h0m4 32h0m7 2h0m2 90h0m9-148h0m0 42h0m6 61h0m4-2h0m6-46h0m2 29h0m8-41h0m4 36h0m2-42h0m3-24h0m9 46h0m4-12h0m2 7h0m4-15h0m7-33h0m2 35h0m7-6h0m4-20h0m4 11h0m4 23h0m6 3h0m2-28h0m4-7h0m7 13h0m2-3h0m5 17h0m7 60h0m2-64h0m5-48h0m4 106h0m5-48h0m7-32h0m4 48h0m1-31h0m7 68h0m3-54h0m5 1h0m5-12h0m2 25h0m6-20h0m7-5h0m1 7h0m7-21h0m4 52h0m4 16h0m6-74h0m1 19h0m8 28h0m3-55h0m3 17h0m4 39h0m5-12h0m4 6h0m6-70h0m2 97h0m8-32h0m2-8h0m4 63h0m8-28h0m3-78h0m4 162h0m7-133h0m2 14h0m3-33h0m8 86h0m3-48h0m4 18h0m3 15h0m6-29h0m5-66h0m4 116h0m7-62h0m1-37h0m7 36h0m1 2h0m5-4h0m6 11h0m3 18h0m8 44h0m4-29h0m2-25h0m5 67h0m3-68h0m7 73h0m5-74h0m3-55h0m4 99h0m3-51h0m5-4h0m8 6h0m3 7h0m5 17h0m4-23h0m4-38h0m4 53h0m3 4h0m7-27h0m5 22h0m3 9h0m2-78h0m6-6h0m4 38h0m4 54h0m5-78h0m8 86h0m0-55h0"/>
<path stroke="#59f8c8" d="M3880 2547h0m5-71h0m6 47h0m4 21h0m5 36h0m4-66h0m2 22h0m5 30h0m5-57h0m6 3h0m3 10h0m6 42h0m2-53h0m7 19h0m5-20h0m4 18h0m4 107h0m4-90h0m6-4h0m5-31h0m3-27h0m4 69h0m4 10h0m4-63h0m6 15h0m5-5h0m2 3h0m5 37h0m3-62h0m6 70h0m3 14h0m5-92h0m8 47h0m5-10h0m3-25h0m4 93h0m4-14h0m3-80h0m5 17h0m7 23h0m3 34h0m5-6h0m5-27h0m5-43h0m3-17h0m5 50h0m3 22h0m7 9h0m2 20h0m6-49h0m5-3h0m3 42h0m3-42h0m6 31h0m4-102h0m6 115h0m4-30h0m5 2h0m4 17h0m5-26h0m3-50h0m4 33h0m5 68h0m4-59h0m7 5h0m1-16h0m7 10h0m1-14h0m5-15h0m7 34h0m6-21h0m1-15h0m4 73h0m4-43h0m6 17h0m5 40h0m4 5h0m7-71h0m4 29h0m5-14h0m5-22h0m1 31h0m8-26h0m2-5h0m7 22h0m4 9h0m3 11h0m4-23h0m3 35h0m4-44h0m7 0h0m3 36h0m5-50h0m5 43h0m3 7h0m7-54h0m3-6h0m3 39h0m5 14h0m5-31h0m3 2h0m7-36h0m4 57h0m5 15h0m3 4h0m6-31h0m5 21h0m2 30h0m3-22h0m8-19h0m5-4h0m5 15h0m4-5h0m3-18h0m4 38h0m6-32h0m3 24h0m5-35h0m5 51h0m2-33h0m5-23h0m6-4h0m3 77h0m5-40h0m7 17h0m3-45h0m2 8h0m6-7h0m6 25h0m3-19h0m6 16h0m3-42h0m6 101h0m4-104h0m5 175h0m1-129h0m9 32h0m4-41h0m3 34h0m6-22h0m3-48h0m2 6h0m5-8h0m5 64h0m7-33h0m2 4h0m6 6h0m3-7h0m4 1h0m5-43h0m4 13h0m7 44h0m3-4h0m5-9h0m5 21h0m1-6h0m9-2h0m4 29h0m4-165h0m5 137h0m4-85h0m4 97h0m5-2h0m5-28h0m5 3h0m3 24h0m5-35h0m4 7h0m4 31h0m5-99h0m4 84h0m5 3h0m4 11h0m5-11h0m3-64h0m6 89h0m1-72h0m7-48h0m6 87h0m5-5h0m3 8h0m2 10h0m7 29h0m3 15h0m4-108h0m4 59h0m5-1h0m5-18h0m4 5h0m6-5h0m4 27h0m5-75h0m2-23h0m6 70h0m6-23h0m4 18h0m3 32h0m6-59h0m4 38h0m2-38h0m7 4h0m3 11h0m5-8h0m4 42h0m7-47h0m4 29h0m1-1h0m7-5h0m2 34h0m5 11h0m5-14h0m6 19h0m4-38h0m5 37h0m3-11h0m6-24h0m3 34h0m4-64h0m7-4h0m3-7h0m7 49h0m4-51h0m2 96h0m4-96h0m5 28h0m5 11h0m3 17h0m5-39h0m5 42h0m5 7h0m6-28h0m3-55h0m3 89h0m7-45h0m1-10h0m5 26h0m8-68h0m2 91h0m5-64h0m4 50h0m3-11h0m7-27h0m2 36h0m6 0h0m4-17h0m3 9h0m7 6h0m4-29h0m3-10h0m4 27h0m8-50h0m5-14h0m3 86h0m5 0h0m5-25h0m4 23h0m3-28h0m3-13h0m6 41h0m4-19h0m3 1h0m8-4h0m4 74h0m6-52h0m4 11h0m3-34h0m6 22h0m4-37h0m3 10h0m4 5h0m5 4h0m4 54h0m3-75h0m7 51h0m2-20h0m5-4h0m7 60h0m3-70h0m6-47h0m3 88h0m5-14h0m6-70h0m0 68h0m5-50h0m6 27h0m5 43h0m6-69h0m5 23h0m2 47h0m5-42h0m6-12h0m4 40h0m2 4h0m6 2h0m5 41h0m6-125h0m3 1h0m3 33h0m3-33h0m6 23h0m6-14h0m4 61h0m3 11h0m5-51h0m3 159h0m8-86h0m2-76h0m7 13h0m5 4h0m2 24h0m5 1h0m6-16h0m4 5h0m5-1h0m4 13h0m3-40h0m5 23h0m4-30h0m2 29h0m7-11h0m5 13h0m5-60h0m3 13h0m7 96h0m2-43h0m4-34h0m4 40h0m3 52h0m7-30h0m4-70h0m4 11h0m7-36h0m3 26h0m6 62h0m1 17h0m8-44h0m5-48h0m2-29h0m6 79h0m4-7h0m2-3h0m4 4h0m7 60h0m2-69h0m9 18h0m0 11h0m6 29h0m4-52h0m6-2h0m2 25h0m8-20h0m4-31h0m2 30h0m3-4h0m9-21h0m4-65h0m2 66h0m4 8h0m7 41h0m2 12h0m7-121h0m4 90h0m4-10h0m4 8h0m6 16h0m2-45h0m4-58h0m7 95h0m2-17h0m5 26h0m7-7h0m2-23h0m5 30h0m4-28h0m5 20h0m7-38h0m4 34h0m1 1h0m7-30h0m3 22h0m5 51h0m5-66h0m2-24h0m6 84h0m7 18h0m1-57h0m7 8h0m4 7h0m4-41h0m6 46h0m1-35h0m8-64h0m3 60h0m3 21h0m4 107h0m5-121h0m4-17h0m6 24h0m2-6h0m8-14h0m2 56h0m4-25h0m8-38h0m3 29h0m4 23h0m7-73h0m2-5h0m3 42h0m8-9h0m3-14h0m4 16h0m3-29h0m6 102h0m5-50h0m4 11h0m7-39h0m1 37h0m7-100h0m1 60h0m5 34h0m6-31h0m3 19h0m8-66h0m4 48h0m2 30h0m5 7h0m3-21h0m7-19h0m5 62h0m3-69h0m4 10h0m3 13h0m5 12h0m8 10h0m3-41h0m5 43h0m4-3h0m4-56h0m4 56h0m3-43h0m7 71h0m5 10h0m3-94h0m2-25h0m6 38h0m4 17h0m4 7h0m5-10h0m8 98h0m0-76h0"/>
<path stroke="#71febc" d="M945 2791h0m7-7h0m4-23h0m5 55h0m5 10h0m4-26h0m6-30h0m4 97h0m4-53h0m4-10h0m3-3h0m4 48h0m8-66h0m3 36h0m4-43h0m2 74h0m8-61h0m2-4h0m5 49h0m7-3h0m4 13h0m5-7h0m4 40h0m5-87h0m5 56h0m2-5h0m2-12h0m9 33h0m2-13h0m6-18h0m1 28h0m5-58h0m6 24h0m3-42h0m7 75h0m5-64h0m1-2h0m5 39h0m4-11h0m8-38h0m4 37h0m5 37h0m4-37h0m2-43h0m6 34h0m2-29h0m5 6h0m7 57h0m6-12h0m2 69h0m6-110h0m1 19h0m7-64h0m4 99h0m5-58h0m2-2h0m5-5h0m4 55h0m8-8h0m1-6h0m8 36h0m2-36h0m5-27h0m4 91h0m4-87h0m6 2h0m6 59h0m4-39h0m5 8h0m4-58h0m2 25h0m4-4h0m4 40h0m5-21h0m8 23h0m1-38h0m5 15h0m4 20h0m6-50h0m6 8h0m4 65h0m1-52h0m7 88h0m3-46h0m4-3h0m5-26h0m3 17h0m8-9h0m2-48h0m8 29h0m0 4h0m7 37h0m2-33h0m6-71h0m7 84h0m1-14h0m8 25h0m4-10h0m3-49h0m3-7h0m6 27h0m6-9h0m2 27h0m6-16h0m5 13h0m5 23h0m2-26h0m3-7h0m8 33h0m5 13h0m3-12h0m2-67h0m8 54h0m1-12h0m6 38h0m6-110h0m2 77h0m4 3h0m6 13h0m3-25h0m8-1h0m4 15h0m3-50h0m6 51h0m2-55h0m7 24h0m2 54h0m7-1h0m1-13h0m8 24h0m4-23h0m5-2h0m3-36h0m4 4h0m3 65h0m6-68h0m6 55h0m4-18h0m2 39h0m6-75h0m5 58h0m3-53h0m7 7h0m2 67h0m6-3h0m6-45h0m3 39h0m4-29h0m4-19h0m4 68h0m4-105h0m5 0h0m5-49h0m5 96h0m4-34h0m4 12h0m5 15h0m6 20h0m1 27h0m8 23h0m3 52h0m5-70h0m3 134h0m6 1h0m5-17h0m2 67h0m7-18h0m2 84h0m5 0h0m5-4h0m6 19h0m4 47h0m4-9h0m4-8h0m6 13h0m2 35h0m6-52h0m4-23h0m5 104h0m6-64h0m4 16h0m1-26h0m4-17h0m5 57h0m7 10h0m5-58h0m4-8h0m3 31h0m3 7h0m6-28h0m4 51h0m3-25h0m7-40h0m6 28h0m2 9h0m7 2h0m4-22h0m4 42h0m3-57h0m4 51h0m5-20h0m3-62h0m8 41h0m2-30h0m6-1h0m6 1h0m2 64h0m3-13h0m5-38h0m5 19h0m4-16h0m7 71h0m2-61h0m3 34h0m9 12h0m1 7h0m4 18h0m7-48h0m3-49h0m3 78h0m7 2h0m4-84h0m7 59h0m3 16h0m2-25h0m8 12h0m3-48h0m3 16h0m3-8h0m9 98h0m1-56h0m5-13h0m5-19h0m3 35h0m6 1h0m7-13h0m1-32h0m7 7h0m3-19h0m4-10h0m6 75h0m3-34h0m6 38h0m4-22h0m3-4h0m4-3h0m6 11h0m6 66h0m2-45h0m5-47h0m6 68h0m4-58h0m4-33h0m5-23h0m5 6h0m2 84h0m3 4h0m8-62h0m5 28h0m4-41h0m2 43h0m7 36h0m2-20h0m4-27h0m6-19h0m6 42h0m4 3h0m1-30h0m5 9h0m5 36h0m4-28h0m5-49h0m4 86h0m4-46h0m5-64h0m7 106h0m3 11h0m4-39h0m8-36h0m3-19h0m2 22h0m8-57h0m3 90h0m4 0h0m3-57h0m5 97h0m4-31h0m7 23h0m1-35h0m8 23h0m1-31h0m7-52h0m5 39h0m4-51h0m3 11h0m4 29h0m7-38h0m4-11h0m3 71h0m7-31h0m4 0h0m1 12h0m6-58h0m6 53h0m5-38h0m4 44h0m6-4h0m4-11h0m3 52h0m3-50h0m8 10h0m2-13h0m5 17h0m6 18h0m4 18h0m3-75h0m6-46h0m2-8h0m7-33h0m3 31h0m4-80h0m3-39h0m8-83h0m4 57h0m2-1h0m7-44h0m4-20h0m2 0h0m7-61h0m5 24h0m1-32h0m5 23h0m6 84h0m6-60h0m1-10h0m7-9h0m3 6h0m4 40h0m7-67h0m4 26h0m3-9h0m6 44h0m2-18h0m6-39h0m5-39h0m4 83h0m4 17h0m5-58h0m4 63h0m3-139h0m4 50h0m8-14h0m5 76h0m3-32h0m4 35h0m4-111h0m5 109h0m5-18h0m6 49h0m1-34h0m7-62h0m2 97h0m4-48h0m6 36h0m6-69h0m3 42h0m6 18h0m3 3h0m5 17h0m3-88h0m8 28h0m4-23h0m1 43h0m8-66h0m3 108h0m5-79h0m2 51h0m6-56h0m2 104h0m8-14h0m5-113h0m0 1h0m6 66h0m7-63h0m4 45h0m3 37h0m6-62h0m2 14h0m4 2h0m5 18h0m5 26h0m7-9h0m1-62h0m8 4h0m1 45h0m8 34h0m4-58h0m5-10h0m1 18h0m6 1h0m5 14h0m3-13h0m6 14h0m4-29h0m4 52h0m3-5h0m8-12h0m1-10h0m4-22h0m7-18h0m4 46h0m5-15h0m4-3h0m6 57h0m4-56h0m4 53h0m5 19h0m4-24h0m6-47h0m1 23h0m4-22h0m8 15h0m0 3h0m5-52h0m5 39h0m5 12h0m4 11h0m5-10h0m7-6h0m3-12h0m3 45h0m5-53h0m4-2h0m5 23h0m5-12h0m5-33h0m4 63h0m3 12h0m6-28h0m3-5h0m6 6h0m4 22h0m7-60h0m2 35h0m7 33h0m0-63h0m9 48h0m2-83h0m5 91h0m5 25h0"/>
<path stroke="#71febc" d="M3879 2859h0m7-8h0m4-86h0m5 66h0m5 12h0m4-54h0m6-14h0m4 45h0m4-3h0m4 105h0m3-98h0m4 31h0m8 14h0m3-6h0m4-57h0m2 20h0m8-19h0m2-14h0m5 61h0m7-114h0m4 42h0m5 2h0m4 36h0m5-5h0m5 19h0m2 3h0m2-122h0m9 68h0m2 30h0m6 24h0m1 3h0m5-63h0m6 22h0m3-37h0m7 77h0m5-27h0m1 19h0m5-18h0m4-28h0m8-23h0m4 109h0m5-111h0m4 11h0m2 84h0m6-75h0m2 52h0m5 27h0m7-1h0m6-18h0m2-13h0m6 29h0m1-15h0m7-3h0m4-27h0m5-5h0m2-32h0m5 92h0m4-41h0m8 55h0m1-114h0m8 1h0m2 37h0m5-17h0m4 22h0m4-14h0m6 6h0m6 17h0m4 47h0m5-27h0m4-49h0m2 25h0m4-12h0m4 69h0m5-122h0m8 42h0m1 38h0m5-34h0m4 90h0m6-92h0m6 23h0m4 30h0m1 30h0m7-17h0m3-54h0m4 50h0m5-66h0m3 19h0m8 47h0m2-81h0m8 85h0m0-77h0m7 60h0m2-20h0m6 14h0m7-6h0m1-56h0m8 44h0m4 23h0m3-30h0m3 32h0m6-69h0m6 21h0m2 66h0m6-37h0m5-3h0m5 7h0m2 30h0m3-62h0m8 75h0m5-53h0m3-2h0m2-30h0m8 79h0m1-35h0m6-27h0m6 8h0m2-16h0m4 53h0m6-76h0m3 28h0m8 11h0m4 10h0m3-31h0m6-1h0m2 55h0m7 25h0m2-80h0m7 4h0m1 9h0m8-10h0m4 48h0m5-101h0m3 31h0m4 32h0m3 20h0m6 5h0m6 8h0m4 0h0m2-28h0m6 3h0m5 20h0m3 22h0m7-1h0m2-43h0m6-6h0m6 58h0m3-20h0m4 26h0m4-47h0m4-10h0m4 28h0m5-69h0m5 75h0m5-41h0m4-2h0m4 18h0m5-39h0m6 20h0m1 64h0m8-84h0m3 43h0m5-36h0m3 68h0m6 22h0m5-122h0m2 76h0m7-3h0m2 17h0m5 8h0m5-19h0m6 9h0m4-44h0m4 81h0m4-38h0m6-55h0m2 26h0m6 4h0m4-35h0m5 17h0m6-8h0m4 59h0m1 26h0m4-47h0m5 37h0m7-80h0m5 37h0m4-15h0m3 37h0m3-48h0m6 18h0m4 0h0m3-10h0m7-21h0m6 58h0m2-55h0m7 37h0m4-51h0m4-3h0m3 14h0m4 4h0m5 59h0m3-56h0m8 9h0m2-3h0m6 32h0m6 18h0m2-49h0m3 10h0m5 48h0m5 5h0m4-39h0m7-6h0m2-72h0m3 54h0m9 59h0m1-53h0m4-47h0m7 52h0m3-9h0m3 39h0m7-23h0m4 9h0m7 44h0m3-62h0m2-14h0m8 29h0m3 7h0m3-47h0m3 56h0m9-71h0m1 21h0m5 47h0m5 27h0m3-52h0m6 37h0m7-34h0m1-24h0m7 6h0m3 44h0m4-2h0m6 32h0m3-37h0m6 30h0m4 4h0m3-79h0m4-3h0m6 29h0m6 41h0m2 7h0m5-62h0m6 8h0m4-19h0m4 12h0m5 95h0m5-76h0m2-35h0m3 7h0m8-26h0m5 82h0m4-29h0m2 73h0m7-15h0m2-87h0m4-12h0m6 1h0m6 74h0m4 59h0m1-101h0m5-6h0m5 9h0m4-20h0m5-29h0m4 35h0m4-22h0m5 39h0m7-8h0m3-3h0m4 28h0m8-58h0m3 77h0m2-10h0m8 4h0m3-50h0m4 23h0m3 37h0m5-26h0m4-60h0m7 62h0m1-27h0m8 5h0m1 4h0m7-44h0m5 23h0m4-11h0m3 8h0m4 42h0m7 14h0m4-14h0m3 10h0m7-28h0m4-5h0m1-17h0m6 51h0m6-26h0m5 28h0m4-20h0m6 47h0m4-80h0m3 16h0m3-25h0m8 15h0m2 41h0m5-28h0m6-65h0m4 42h0m3 36h0m6-5h0m2-17h0m7 33h0m3-23h0m4 6h0m3 22h0m8-3h0m4-72h0m2 43h0m7 49h0m4-33h0m2 30h0m7-50h0m5 37h0m1-25h0m5-4h0m6 11h0m6 27h0m1-52h0m7 17h0m3-15h0m4 8h0m7 7h0m4-4h0m3 8h0m6 36h0m2-65h0m6-39h0m5 117h0m4 9h0m4-99h0m5 25h0m4 42h0m3-32h0m4-12h0m8-12h0m5-26h0m3 93h0m4-42h0m4-107h0m5 126h0m5 15h0m6-26h0m1 8h0m7-57h0m2 61h0m4-25h0m6-7h0m6-36h0m3 58h0m6 81h0m3-94h0m5 8h0m3-4h0m8 1h0m4 55h0m1-24h0m8 37h0m3-10h0m5-105h0m2 87h0m6-37h0m2-46h0m8 6h0m5 35h0m0 47h0m6-14h0m7-20h0m4-31h0m3 21h0m6 15h0m2 6h0m4-30h0m5-46h0m5 30h0m7 45h0m1-19h0m8 24h0m1-2h0m8-66h0m4 59h0m5 20h0m1-60h0m6 3h0m5 56h0m3-45h0m6 16h0m4-9h0m4 4h0m3-3h0m8 41h0m1-28h0m4-6h0m7 12h0m4-23h0m5-18h0m4-10h0m6 96h0m4-77h0m4-11h0m5 54h0m4 1h0m6-2h0m1 1h0m4-56h0m8 99h0m0-27h0m5-45h0m5-3h0m5-135h0m4 116h0m5 57h0m7 3h0m3-44h0m3-16h0m5 28h0m4-9h0m5 6h0m5 26h0m5-104h0m4 80h0m3-51h0m6 70h0m3-48h0m6-24h0m4 68h0m7 7h0m2-45h0m7 70h0m0-63h0m9-1h0m2 18h0m5-8h0m5-15h0"/>
<path stroke="#88ffb0" d="M945 3139h0m5-49h0m5 16h0m4-46h0m6 78h0m7-97h0m2 86h0m6-14h0m2-3h0m4-3h0m6-5h0m3-9h0m4 27h0m8 62h0m3-63h0m3-72h0m4 41h0m8 42h0m4-8h0m5-2h0m1-20h0m8-6h0m5-13h0m3-23h0m3 70h0m5 3h0m6 58h0m1-54h0m6-31h0m6 40h0m5-4h0m1-78h0m5 56h0m4 14h0m4-55h0m8 15h0m3 4h0m5 45h0m3-51h0m3 36h0m8-68h0m4 87h0m5-3h0m4 20h0m4-50h0m6-15h0m2-41h0m3 83h0m8 16h0m4-42h0m3-4h0m4-27h0m7 77h0m4-64h0m3 39h0m5-90h0m7 73h0m2 0h0m6 24h0m3 16h0m5-71h0m2-1h0m6 44h0m6 17h0m5-96h0m1 31h0m6 85h0m3-75h0m7 10h0m5-1h0m3 27h0m4-3h0m6-27h0m4 75h0m3-15h0m5-38h0m6-13h0m5-25h0m3 46h0m2-62h0m8 29h0m4 10h0m4 7h0m6-15h0m4 66h0m4-58h0m3 31h0m5-11h0m2-24h0m7 24h0m3-22h0m5-22h0m4-4h0m4 45h0m6-37h0m4 33h0m5-6h0m6 13h0m1-4h0m5-22h0m4 31h0m5-18h0m4 13h0m5-14h0m5-16h0m3-1h0m5-2h0m5 14h0m7-24h0m4 38h0m4-9h0m2-5h0m5-14h0m7 58h0m2 4h0m5-11h0m6-39h0m4 12h0m4 28h0m4 28h0m4-36h0m6 3h0m2 17h0m4-40h0m5-43h0m6 53h0m4-5h0m7 50h0m1-59h0m8 3h0m2 12h0m7-42h0m3 1h0m4-14h0m6 1h0m5 66h0m1 9h0m6-101h0m6 71h0m3 6h0m6 1h0m3 22h0m5-119h0m3 128h0m7-76h0m4-138h0m5 203h0m5-21h0m4-67h0m2-23h0m4 72h0m4 48h0m7-8h0m5-57h0m4 5h0m2 45h0m5-36h0m7 13h0m1 26h0m5-1h0m6-16h0m5 91h0m3-13h0m6 96h0m2-19h0m8 10h0m1-24h0m8 72h0m3 35h0m2-13h0m5 93h0m7 66h0m4-39h0m6-74h0m2 14h0m6-47h0m3 74h0m3-7h0m7 25h0m5-33h0m1-28h0m8 77h0m1-35h0m8 35h0m3 44h0m4-78h0m6 72h0m2-64h0m7 10h0m3 32h0m3-109h0m6 96h0m4 0h0m3 13h0m5 20h0m7-30h0m4-9h0m4 29h0m4-9h0m7 45h0m1-78h0m8 50h0m3 4h0m2 8h0m7-45h0m3-1h0m7-58h0m3 59h0m4-63h0m6 51h0m2-7h0m6 6h0m4 1h0m5 23h0m4 36h0m5-21h0m6-71h0m3 24h0m2 24h0m7 26h0m2-59h0m8 56h0m5 53h0m2-70h0m5-40h0m2 91h0m5-26h0m6-29h0m5-3h0m2 22h0m5 8h0m5-50h0m3 42h0m8-74h0m3 49h0m3-21h0m8 37h0m5 17h0m0 33h0m7-23h0m6-79h0m3 49h0m2 47h0m4-93h0m8 38h0m2 57h0m8-54h0m4-39h0m3 51h0m6-34h0m3 36h0m5-47h0m2 30h0m8-21h0m2-27h0m6 34h0m5 129h0m2-82h0m5 78h0m3-149h0m6 46h0m5 5h0m4-50h0m3 21h0m5 25h0m7 56h0m1-73h0m6-51h0m4 82h0m5 52h0m4-93h0m5 6h0m4 4h0m3-50h0m8 3h0m5 41h0m3 32h0m3-12h0m6-43h0m6 16h0m2 53h0m5-37h0m3-27h0m6 57h0m5 74h0m5-140h0m3-21h0m4 23h0m4-43h0m7 16h0m2 22h0m5-2h0m4-5h0m8 0h0m0-40h0m5 75h0m6-31h0m5-5h0m2 31h0m8-35h0m3 28h0m5 87h0m5-139h0m1-5h0m7 18h0m4 34h0m5-86h0m6 75h0m4 0h0m2 3h0m3-38h0m6 21h0m4 5h0m4-1h0m5-34h0m4 32h0m8-90h0m1 59h0m4-119h0m8 27h0m3-34h0m7 12h0m3-63h0m6 63h0m2-97h0m6 27h0m5-56h0m3-19h0m3 37h0m6-49h0m3-48h0m6 33h0m3-25h0m7 40h0m4-22h0m5-64h0m1 30h0m4 30h0m7 28h0m2 3h0m8-90h0m3 71h0m6-21h0m5 4h0m2 9h0m6-15h0m3-10h0m3-50h0m4 134h0m8-66h0m2 15h0m6 75h0m4-33h0m6-16h0m2-15h0m5-41h0m3 16h0m6 14h0m3 40h0m5-19h0m4 2h0m7-4h0m2-10h0m7 8h0m6-91h0m1 10h0m6 6h0m4 46h0m3 33h0m6-11h0m3 14h0m6-24h0m5 17h0m6-64h0m3 74h0m5-58h0m3 20h0m5-3h0m6 19h0m1-45h0m4-4h0m5 92h0m5-95h0m6 87h0m6-39h0m4-22h0m1 19h0m6 46h0m3-48h0m7 5h0m4 30h0m6-65h0m3 41h0m4 4h0m7-50h0m1 87h0m5-64h0m3 14h0m7 26h0m3-24h0m4 8h0m4-42h0m6 79h0m3 31h0m6-34h0m3-30h0m5 37h0m8-18h0m3-41h0m6 8h0m3 27h0m2-17h0m8-28h0m2 23h0m6 36h0m4-39h0m2-8h0m6 20h0m7-78h0m3 83h0m3 43h0m4-61h0m5-57h0m7 68h0m3-12h0m3-52h0m5 24h0m5 51h0m3 14h0m5-31h0m6-5h0m6 24h0m3-49h0m2 14h0m6 9h0m4 0h0m4-9h0m7 16h0m5 19h0m1-43h0m5 20h0m5-5h0m3 4h0m8 43h0m2-43h0m3 58h0m7-52h0m4-49h0m6 44h0m5-19h0"/>
<path stroke="#88ffb0" d="M3879 3098h0m5 40h0m5-51h0m4 21h0m6 20h0m7-12h0m2 36h0m6-42h0m2-12h0m4 47h0m6-19h0m3 11h0m4 62h0m8-55h0m3-27h0m3 0h0m4-33h0m8 35h0m4-31h0m5 57h0m1-35h0m8-37h0m5 52h0m3 28h0m3-16h0m5-7h0m6 35h0m1-90h0m6 49h0m6-14h0m5 22h0m1-54h0m5 70h0m4-46h0m4 39h0m8 12h0m3-29h0m5 58h0m3-94h0m3 7h0m8-27h0m4 37h0m5 34h0m4 17h0m4-37h0m6-20h0m2 1h0m3-39h0m8 56h0m4-53h0m3 83h0m4-68h0m7 97h0m4-134h0m3 99h0m5-137h0m7 98h0m2-6h0m6 33h0m3 34h0m5-12h0m2-87h0m6 87h0m6-90h0m5 29h0m1 70h0m6-88h0m3 19h0m7 22h0m5-42h0m3 58h0m4-72h0m6 91h0m4-27h0m3-11h0m5 42h0m6-76h0m5 52h0m3-4h0m2-14h0m8 8h0m4-21h0m4-31h0m6-17h0m4 83h0m4 9h0m3-30h0m5-7h0m2-37h0m7 98h0m3-78h0m5 50h0m4-2h0m4-49h0m6 31h0m4 18h0m5-30h0m6 12h0m1 13h0m5-97h0m4 92h0m5-19h0m4 4h0m5-48h0m5 28h0m3 11h0m5-32h0m5 44h0m7-25h0m4 13h0m4 0h0m2 69h0m5-64h0m7-52h0m2 9h0m5 64h0m6 6h0m4-38h0m4-7h0m4 53h0m4-90h0m6 75h0m2-6h0m4 1h0m5-73h0m6 74h0m4 17h0m7-38h0m1-14h0m8-11h0m2 28h0m7 28h0m3-14h0m4 7h0m6 27h0m5-59h0m1-32h0m6 4h0m6 39h0m3 6h0m6 3h0m3 46h0m5-77h0m3 24h0m7-50h0m4 5h0m5 6h0m5 28h0m4 87h0m2-68h0m4 6h0m4-55h0m7 28h0m5-14h0m4 59h0m2-35h0m5 38h0m7-66h0m1 34h0m5 32h0m6 20h0m5 9h0m3-91h0m6 71h0m2-46h0m8 3h0m1-5h0m8 14h0m3-67h0m2 75h0m5-31h0m7 23h0m4-69h0m6 59h0m2-9h0m6 5h0m3 9h0m3 28h0m7-28h0m5 15h0m1-36h0m8-12h0m1 14h0m8-2h0m3 40h0m4-1h0m6 6h0m2-13h0m7-24h0m3-20h0m3 68h0m6-1h0m4-85h0m3 203h0m5-172h0m7 61h0m4-71h0m4 45h0m4-8h0m7 25h0m1-23h0m8-31h0m3 73h0m2-103h0m7 39h0m3-40h0m7 84h0m3-25h0m4-29h0m6 74h0m2-27h0m6-34h0m4 9h0m5 8h0m4-8h0m5 35h0m6-16h0m3-10h0m2 12h0m7-30h0m2 40h0m8 15h0m5-27h0m2-25h0m5 15h0m2-22h0m5 57h0m6-1h0m5-51h0m2 21h0m5-26h0m5 21h0m3-21h0m8 62h0m3-68h0m3 61h0m8-53h0m5 31h0m0-17h0m7-16h0m6-4h0m3 30h0m2 14h0m4-5h0m8 2h0m2-25h0m8 42h0m4-43h0m3 3h0m6 0h0m3 14h0m5-60h0m2 67h0m8-8h0m2 9h0m6 93h0m5-104h0m2-45h0m5 8h0m3 51h0m6-32h0m5 27h0m4-3h0m3-22h0m5-56h0m7 33h0m1 9h0m6 29h0m4-32h0m5 30h0m4 55h0m5-87h0m4-34h0m3 0h0m8 65h0m5-16h0m3 82h0m3-110h0m6-21h0m6 52h0m2 29h0m5 30h0m3 9h0m6-25h0m5-35h0m5-11h0m3-11h0m4 39h0m4-14h0m7-40h0m2 28h0m5-26h0m4 48h0m8 2h0m0 7h0m5-51h0m6-9h0m5 30h0m2-44h0m8 35h0m3 10h0m5 12h0m5-25h0m1 71h0m7-27h0m4-41h0m5-4h0m6 13h0m4 27h0m2 7h0m3 0h0m6-8h0m4-3h0m4-46h0m5 19h0m4 17h0m8 12h0m1-53h0m4 64h0m8 10h0m3-89h0m7-4h0m3 18h0m6 8h0m2 39h0m6 26h0m5 3h0m3-48h0m3-11h0m6 70h0m3-26h0m6-10h0m3-27h0m7-4h0m4 37h0m5-20h0m1-3h0m4-3h0m7 25h0m2 12h0m8-11h0m3-16h0m6-59h0m5 70h0m2-16h0m6-64h0m3 49h0m3-16h0m4 32h0m8 1h0m2 20h0m6 39h0m4-109h0m6 82h0m2-71h0m5 69h0m3-27h0m6-5h0m3-107h0m5 117h0m4 11h0m7-17h0m2 19h0m7 29h0m6-45h0m1 19h0m6-26h0m4-35h0m3 79h0m6 21h0m3-80h0m6 3h0m5 37h0m6-19h0m3-33h0m5 7h0m3 68h0m5-62h0m6 8h0m1 24h0m4 6h0m5 5h0m5-39h0m6 4h0m6 11h0m4-30h0m1 91h0m6-69h0m3 41h0m7-60h0m4 4h0m6 1h0m3 0h0m4-28h0m7 27h0m1 37h0m5 24h0m3-8h0m7 3h0m3 20h0m4-47h0m4 26h0m6 6h0m3-50h0m6 14h0m3 27h0m5 22h0m8-84h0m3 135h0m6-117h0m3-20h0m2 6h0m8-32h0m2 52h0m6 7h0m4 43h0m2-21h0m6 23h0m7 31h0m3-20h0m3-69h0m4-8h0m5 26h0m7-8h0m3 24h0m3-32h0m5-8h0m5 56h0m3-20h0m5 26h0m6 1h0m6-62h0m3 50h0m2-11h0m6 3h0m4 0h0m4-42h0m7 4h0m5-21h0m1-8h0m5 15h0m5-23h0m3 78h0m8-15h0m2-11h0m3 23h0m7-80h0m4 123h0m6-98h0m5 38h0"/>
<path stroke="#9ffaa2" d="M947 3366h0m4 33h0m6 46h0m4-23h0m6 35h0m3-25h0m6 17h0m2-35h0m6 15h0m1 2h0m8-32h0m4 16h0m3-27h0m4 14h0m7-20h0m4 18h0m5-3h0m2 43h0m4-52h0m8-4h0m3 33h0m6-23h0m1-1h0m4 20h0m5 6h0m7-7h0m2 31h0m6 19h0m4-19h0m5-42h0m5-30h0m3 3h0m5 37h0m4-48h0m4 55h0m7-26h0m1 14h0m8 19h0m2-12h0m5-67h0m4 11h0m7 94h0m3-49h0m5 48h0m2-48h0m7 14h0m2-28h0m4 34h0m7 11h0m5-19h0m3 21h0m7-20h0m3-70h0m2 81h0m5 8h0m5-51h0m4 54h0m7-66h0m5 30h0m1 19h0m6-88h0m5 92h0m4-17h0m3 27h0m6-42h0m3 13h0m6 2h0m6 1h0m3-30h0m3 69h0m4-81h0m4 29h0m6 22h0m6-34h0m2 53h0m7-44h0m4-5h0m6 35h0m1 43h0m6-62h0m5 39h0m6-53h0m2 17h0m5 3h0m6 21h0m3-7h0m6-39h0m2 5h0m5 13h0m6 22h0m4 62h0m3-78h0m4 55h0m7 9h0m3-77h0m4-14h0m5 61h0m5-78h0m3 88h0m6-46h0m6 26h0m4-12h0m2-65h0m6 85h0m3-20h0m7-85h0m1 17h0m4 62h0m7-3h0m6-5h0m2 5h0m6-34h0m3 15h0m6 55h0m4-112h0m3-10h0m6 123h0m5-24h0m3 35h0m3-26h0m7 9h0m4-24h0m2-52h0m6 12h0m4 59h0m6-22h0m3 18h0m4 74h0m6-100h0m3 67h0m6-81h0m3 15h0m5 23h0m5 29h0m7-59h0m1 36h0m4-79h0m6 63h0m3 19h0m6-26h0m3-5h0m5 6h0m5-33h0m6 89h0m5-54h0m4-13h0m5 7h0m3 12h0m4-29h0m5-23h0m2 71h0m6-51h0m5 6h0m5-45h0m5 73h0m4 12h0m3-7h0m6 15h0m4-54h0m5 136h0m3-18h0m3-17h0m6 67h0m3 1h0m6 35h0m4-11h0m8 58h0m3 5h0m5 52h0m3-10h0m4 35h0m7 32h0m4 23h0m5 9h0m2-21h0m7 32h0m1-35h0m7 102h0m2-60h0m5 3h0m7-91h0m4 35h0m1 17h0m8 18h0m3-4h0m5 5h0m4-54h0m6 109h0m4-59h0m1 11h0m8-18h0m2 1h0m7-3h0m3 59h0m4-72h0m5 33h0m4 26h0m4-89h0m6 16h0m5-7h0m4 54h0m2-74h0m8 46h0m2 10h0m7-11h0m1-48h0m5 121h0m7-87h0m1 4h0m5 62h0m8-56h0m4 0h0m2-14h0m6 19h0m5 21h0m1 35h0m5-45h0m4 10h0m9-74h0m3 75h0m3 22h0m4 7h0m4-97h0m6 28h0m6-27h0m2 54h0m6 50h0m5-100h0m5 70h0m2-38h0m6 61h0m4-60h0m3-43h0m8 44h0m4 11h0m2-10h0m5-11h0m4 48h0m3-4h0m5-27h0m5 33h0m4-12h0m8 38h0m4 16h0m5 4h0m4-81h0m3 37h0m5-29h0m3 23h0m6 4h0m3-23h0m5-3h0m6 34h0m1-45h0m5-8h0m5-16h0m4-6h0m7 69h0m3 11h0m7-46h0m0-16h0m8 73h0m1-60h0m7-14h0m5 8h0m4 38h0m2-22h0m8 49h0m3-22h0m5-24h0m6-70h0m3 28h0m4 85h0m4-9h0m6-21h0m3 2h0m5-22h0m5-6h0m6-35h0m1 59h0m4-9h0m5-58h0m8-6h0m2 56h0m5-38h0m5 79h0m3-53h0m3-43h0m8 20h0m3-10h0m2-1h0m5 49h0m8-53h0m0-51h0m5-5h0m7 119h0m3-31h0m7-86h0m5 115h0m4-57h0m3 77h0m4-59h0m6-28h0m4 43h0m5 14h0m5-83h0m5 52h0m3 10h0m3-32h0m4-29h0m7 15h0m4 55h0m5-3h0m1-24h0m6 53h0m3-54h0m8-26h0m2-17h0m7-52h0m1-16h0m7-12h0m5-58h0m5-13h0m3-95h0m3 27h0m5-31h0m6 69h0m1-125h0m6 43h0m4 11h0m5-41h0m5 4h0m6 14h0m2-70h0m4 59h0m8 44h0m2 9h0m7-49h0m2-1h0m6 33h0m3-85h0m3 62h0m5 26h0m4-73h0m8 32h0m5 31h0m2 40h0m6-98h0m2 63h0m5 28h0m5-37h0m5-19h0m3-2h0m6-39h0m3 83h0m3-89h0m8 41h0m4-10h0m5 26h0m5-27h0m3 55h0m3-98h0m5-7h0m4 62h0m8-43h0m1 65h0m5 0h0m7 4h0m3-59h0m3-15h0m6 34h0m4 24h0m2-9h0m6 23h0m5-39h0m3 78h0m6-52h0m4 5h0m6-89h0m3 46h0m4 59h0m7-48h0m2-1h0m7-18h0m5 30h0m4 30h0m2-22h0m5 36h0m7-66h0m4 48h0m4-14h0m2 0h0m6-97h0m6 91h0m3 9h0m4-57h0m6 104h0m2-56h0m3-40h0m8 78h0m1-72h0m8 46h0m5-63h0m4 87h0m1-24h0m7-14h0m3-24h0m4-10h0m6 82h0m6-53h0m5 45h0m4-69h0m1 32h0m8-36h0m4 49h0m2-76h0m8 87h0m0-65h0m8 53h0m2-9h0m4-7h0m6 2h0m5 55h0m2-88h0m5 11h0m6 91h0m6-47h0m1 22h0m7-32h0m4-25h0m3 12h0m8 17h0m3 9h0m2-16h0m6-32h0m6 18h0m5 58h0m4-76h0m5 69h0m2-89h0m5 15h0m6-19h0m2 79h0m7-44h0m2 8h0m4 47h0m7-27h0m3-58h0m5 10h0m3-20h0"/>
<path stroke="#9ffaa2" d="M3881 3447h0m4-53h0m6-22h0m4 3h0m6 38h0m3-63h0m6 35h0m2 17h0m6-52h0m1 67h0m8-40h0m4 58h0m3-93h0m4 97h0m7-80h0m4 51h0m5 19h0m2-35h0m4 20h0m8-8h0m3-5h0m6 45h0m1-75h0m4 60h0m5 30h0m7-28h0m2-54h0m6 41h0m4 9h0m5 29h0m5-110h0m3-6h0m5 112h0m4-25h0m4-12h0m7-16h0m1 33h0m8 20h0m2-22h0m5-69h0m4 53h0m7 56h0m3-65h0m5-26h0m2 62h0m7-50h0m2 19h0m4 53h0m7-18h0m5-97h0m3 88h0m7 9h0m3 10h0m2-46h0m5 4h0m5 54h0m4-111h0m7 22h0m5-24h0m1 80h0m6 0h0m5-21h0m4 28h0m3-51h0m6-6h0m3 16h0m6-52h0m6 18h0m3 49h0m3-14h0m4-17h0m4 58h0m6-17h0m6-15h0m2-1h0m7 34h0m4 39h0m6-101h0m1 22h0m6-12h0m5 29h0m6-50h0m2 32h0m5 56h0m6-58h0m3-26h0m6 49h0m2 8h0m5-43h0m6 61h0m4-38h0m3 38h0m4-18h0m7-23h0m3-12h0m4 36h0m5-52h0m5-16h0m3 98h0m6-94h0m6 25h0m4 0h0m2 12h0m6-39h0m3 10h0m7 52h0m1-12h0m4-68h0m7 85h0m6-6h0m2-26h0m6-36h0m3 91h0m6 32h0m4-98h0m3-44h0m6 131h0m5-63h0m3 10h0m3-2h0m7-41h0m4 15h0m2-4h0m6 24h0m4-22h0m6 57h0m3-48h0m4 46h0m6-81h0m3 42h0m6 4h0m3-33h0m5 40h0m5-18h0m7 57h0m1-12h0m4-35h0m6-21h0m3 17h0m6 41h0m3-32h0m5-17h0m5-8h0m6-46h0m5 92h0m4-52h0m5 24h0m3 8h0m4-36h0m5 14h0m2 20h0m6 37h0m5-51h0m5-2h0m5 4h0m4-11h0m3 41h0m6-65h0m4 33h0m5 3h0m3 27h0m3-10h0m6-38h0m3 9h0m6-26h0m4 34h0m8-1h0m3-42h0m5 60h0m3 61h0m4-64h0m7-25h0m4-4h0m5 100h0m2-83h0m7-19h0m1-28h0m7 79h0m2-103h0m5 82h0m7-35h0m4 61h0m1-39h0m8-14h0m3 56h0m5-82h0m4 70h0m6-3h0m4-98h0m1 42h0m8 1h0m2 15h0m7 19h0m3-19h0m4 35h0m5-35h0m4-33h0m4-105h0m6 116h0m5 13h0m4-3h0m2 44h0m8-20h0m2-51h0m7 27h0m1 11h0m5 93h0m7-56h0m1-32h0m5 25h0m8 19h0m4-69h0m2 92h0m6-84h0m5 54h0m1 29h0m5-50h0m4 18h0m9-54h0m3 76h0m3-13h0m4 35h0m4-33h0m6-51h0m6-36h0m2 26h0m6 5h0m5 64h0m5-93h0m2 8h0m6 13h0m4-21h0m3 17h0m8 63h0m4-45h0m2 19h0m5-14h0m4 25h0m3 19h0m5-17h0m5-11h0m4-30h0m8-17h0m4 49h0m5 8h0m4 12h0m3-22h0m5-31h0m3 0h0m6 43h0m3-34h0m5-16h0m6-16h0m1 19h0m5 51h0m5-6h0m4 32h0m7-32h0m3-6h0m7 26h0m0 4h0m8-46h0m1-83h0m7 82h0m5-19h0m4 66h0m2-34h0m8-31h0m3-21h0m5 60h0m6 20h0m3-85h0m4 59h0m4-33h0m6 30h0m3 61h0m5-113h0m5 61h0m6 41h0m1-61h0m4-36h0m5-46h0m8 56h0m2 39h0m5-43h0m5 78h0m3-122h0m3 31h0m8 60h0m3-15h0m2 21h0m5-9h0m8-38h0m0 10h0m5 61h0m7-38h0m3 29h0m7-25h0m5 29h0m4-23h0m3-29h0m4-26h0m6 73h0m4-50h0m5-39h0m5 97h0m5-33h0m3-4h0m3-46h0m4 64h0m7-27h0m4-39h0m5 22h0m1-17h0m6 88h0m3-65h0m8 28h0m2 26h0m7 26h0m1-83h0m7-17h0m5 66h0m5-5h0m3 56h0m3-92h0m5 65h0m6-17h0m1-30h0m6-105h0m4 103h0m5-13h0m5-58h0m6 93h0m2-79h0m4 19h0m8 26h0m2 45h0m7 86h0m2-89h0m6-17h0m3-8h0m3-61h0m5 18h0m4 30h0m8 3h0m5-21h0m2 77h0m6-12h0m2-67h0m5 59h0m5-28h0m5 76h0m3-43h0m6-9h0m3-9h0m3 14h0m8-31h0m4 59h0m5-63h0m5-50h0m3 50h0m3 27h0m5-73h0m4-6h0m8 45h0m1 50h0m5-18h0m7-113h0m3 110h0m3-34h0m6-13h0m4 28h0m2 75h0m6-120h0m5 35h0m3-64h0m6 90h0m4-7h0m6-2h0m3 5h0m4-55h0m7 37h0m2-4h0m7-23h0m5 56h0m4-5h0m2-53h0m5 35h0m7 12h0m4-7h0m4 11h0m2-20h0m6-8h0m6-35h0m3 16h0m4 30h0m6 0h0m2-44h0m3 35h0m8 23h0m1 27h0m8-25h0m5-20h0m4 28h0m1-78h0m7 60h0m3-35h0m4 85h0m6-96h0m6 59h0m5 42h0m4-79h0m1-6h0m8 20h0m4-9h0m2-22h0m8 10h0m0 47h0m8-5h0m2-51h0m4-4h0m6 40h0m5 8h0m2-10h0m5 2h0m6 60h0m6-27h0m1-14h0m7-42h0m4 75h0m3-60h0m8 13h0m3-88h0m2 109h0m6-83h0m6 34h0m5 55h0m4-43h0m5-18h0m2 51h0m5 9h0m6-20h0m2 9h0m7-57h0m2 39h0m4-20h0m7-50h0m3 74h0m5-25h0m3 3h0"/>
<path stroke="#b7f093" d="M949 3747h0m3-24h0m5 53h0m4-92h0m5 15h0m3 0h0m5 25h0m4 10h0m4-50h0m6-58h0m6 20h0m3-7h0m5 89h0m2-61h0m8 70h0m3-42h0m4 34h0m4 3h0m3-2h0m6 9h0m3-46h0m5 33h0m5-32h0m6-18h0m3 24h0m7 18h0m3-34h0m2 62h0m6-110h0m5 26h0m3 15h0m4 59h0m5-41h0m5 21h0m3 3h0m5-61h0m7 40h0m4 34h0m5-3h0m3-27h0m4 18h0m4-10h0m6 17h0m4-77h0m3 17h0m6 76h0m5-41h0m3-37h0m4 49h0m6-5h0m3-39h0m5 35h0m5-10h0m5 31h0m4-25h0m3 8h0m8 19h0m4-16h0m5-28h0m2-18h0m6 10h0m2 2h0m8 19h0m2-4h0m5-3h0m4-12h0m4 66h0m7-46h0m3-39h0m6 46h0m5 28h0m1-31h0m6 14h0m5-43h0m5 56h0m4-5h0m4 16h0m5-24h0m2 57h0m4-34h0m8 4h0m2 4h0m7-76h0m2 57h0m5 7h0m3 0h0m6-42h0m5-20h0m3 11h0m7-22h0m2 52h0m5-34h0m6 26h0m2-2h0m8-8h0m1-18h0m7 1h0m3 64h0m5-89h0m6 57h0m5-38h0m3 7h0m3 15h0m5 74h0m5-53h0m3 9h0m7 3h0m3 8h0m4-20h0m6 83h0m6-86h0m2-25h0m4 15h0m7 0h0m0 52h0m6-101h0m4 26h0m5 20h0m6 5h0m4-9h0m4-23h0m6 27h0m3 10h0m5-49h0m6 35h0m1 6h0m6-2h0m4 55h0m3-93h0m7 54h0m5-1h0m4-56h0m4 72h0m3-63h0m7 41h0m5-32h0m1 13h0m5 33h0m6 14h0m2-30h0m8 3h0m2-12h0m7 37h0m5-15h0m4-87h0m1 127h0m6-82h0m3-29h0m6 24h0m3 22h0m4-6h0m5-32h0m6 62h0m4-35h0m5 20h0m3 108h0m4-102h0m8-51h0m2 38h0m5 49h0m5 55h0m5 44h0m3-41h0m4 31h0m7 56h0m5 36h0m1 15h0m6 32h0m5-37h0m2 61h0m8-10h0m3 44h0m4 41h0m3-2h0m6-23h0m4-26h0m4 60h0m6-9h0m4-93h0m5 120h0m4-9h0m2-99h0m7 114h0m4-21h0m3-8h0m7-55h0m3 12h0m4 35h0m5 22h0m3-12h0m9 45h0m3-73h0m5-36h0m4 18h0m2 59h0m5 2h0m6 15h0m3-16h0m5 12h0m4-23h0m4 14h0m7 14h0m4-9h0m4-47h0m5-17h0m5 35h0m3 93h0m3-79h0m8-42h0m1 4h0m7 3h0m1 57h0m6 8h0m5-85h0m4 21h0m7 3h0m3-63h0m6 80h0m4-2h0m3 17h0m7-73h0m1 48h0m4 27h0m6-20h0m6 49h0m2-1h0m7-39h0m5 8h0m2-11h0m6 86h0m5-127h0m2-1h0m5-19h0m5-46h0m5 115h0m5-12h0m1-3h0m8-96h0m1 155h0m6-31h0m3-90h0m5 80h0m5-45h0m3 124h0m7-79h0m4-37h0m3-24h0m5 95h0m7-74h0m2 6h0m5 24h0m4-10h0m5-43h0m5 78h0m5-42h0m3 60h0m6-47h0m4 25h0m6 28h0m1-32h0m6-33h0m4-39h0m7 42h0m4-45h0m5 32h0m4 0h0m1 16h0m5 36h0m8-10h0m3-2h0m4-26h0m5 2h0m6-42h0m4 87h0m4-62h0m2 29h0m6-7h0m4-63h0m7 77h0m4-42h0m2 40h0m4 30h0m3-70h0m9 25h0m1-33h0m5 28h0m5-6h0m6-20h0m5 15h0m3 19h0m5-9h0m6 10h0m1-13h0m7-28h0m1-33h0m6 60h0m5-11h0m6 29h0m4-44h0m4 20h0m3-20h0m6-25h0m5 6h0m2-99h0m6 122h0m4-41h0m3 52h0m7 12h0m4-58h0m2 3h0m8 23h0m3 1h0m4 23h0m5-69h0m7 23h0m3 45h0m5-78h0m1 47h0m6-71h0m6-68h0m5 20h0m3-10h0m6-84h0m1 91h0m7-65h0m6-30h0m4-108h0m4 0h0m1-6h0m6 6h0m7 30h0m1 14h0m7-5h0m5-50h0m4 79h0m1-77h0m6-3h0m4 15h0m6 55h0m6-132h0m1 123h0m6-56h0m3-8h0m4-59h0m8 75h0m5-13h0m2 10h0m3-24h0m6 27h0m6-32h0m5 41h0m4 33h0m2 34h0m4-85h0m7 66h0m4-29h0m3 28h0m7-89h0m1-11h0m8 33h0m1 32h0m7 10h0m3-101h0m6 87h0m2 43h0m5-64h0m7 44h0m4-61h0m3 41h0m5-38h0m3 14h0m7-41h0m2 86h0m8 34h0m4-86h0m5 26h0m4-25h0m2 10h0m3 14h0m6-2h0m7-4h0m5 7h0m2 17h0m5 48h0m2-48h0m5-5h0m5-40h0m7-1h0m3 25h0m6-3h0m4 7h0m2-27h0m8 18h0m3-8h0m4 14h0m4-6h0m4 21h0m4 2h0m5-33h0m7 45h0m1-18h0m7 34h0m5-117h0m5 51h0m2-1h0m3 70h0m4-36h0m9 6h0m0-15h0m8-17h0m1 3h0m7 11h0m2-65h0m7 47h0m3-10h0m6 22h0m4-11h0m4-25h0m6 15h0m4-22h0m5 26h0m5 49h0m4-51h0m2 70h0m6-97h0m6 78h0m2-46h0m3 46h0m7-60h0m3 49h0m5 33h0m7-75h0m2 49h0m6 10h0m2-79h0m5 49h0m3-10h0m6-31h0m6 54h0m5-2h0m2-7h0m4-32h0m5 20h0m5-2h0m5 13h0m3 20h0m6-44h0m6-6h0m2 66h0m5-26h0"/>
<path stroke="#b7f093" d="M3883 3699h0m3-27h0m5 3h0m4-15h0m5 10h0m3 15h0m5 7h0m4 10h0m4 55h0m6-107h0m6 56h0m3-4h0m5-49h0m2 103h0m8-25h0m3-160h0m4 186h0m4-98h0m3 57h0m6 33h0m3-59h0m5 39h0m5-71h0m6 15h0m3 1h0m7 21h0m3 59h0m2-2h0m6-92h0m5-12h0m3 53h0m4-36h0m5-9h0m5 34h0m3 21h0m5-25h0m7 0h0m4-4h0m5 36h0m3 43h0m4-55h0m4-31h0m6 30h0m4-19h0m3-30h0m6 41h0m5 8h0m3 18h0m4-2h0m6-34h0m3-12h0m5 36h0m5 29h0m5-35h0m4 4h0m3-44h0m8-12h0m4 43h0m5-22h0m2-55h0m6 86h0m2 23h0m8 83h0m2-136h0m5-4h0m4 16h0m4-47h0m7 97h0m3-24h0m6-50h0m5 56h0m1-23h0m6 8h0m5-55h0m5-29h0m4 92h0m4-33h0m5 18h0m2 6h0m4-14h0m8 60h0m2-33h0m7-91h0m2 68h0m5 21h0m3-1h0m6-10h0m5-29h0m3 21h0m7-5h0m2 52h0m5-42h0m6-7h0m2 13h0m8-23h0m1 47h0m7-43h0m3 68h0m5-70h0m6 27h0m5-17h0m3 38h0m3-10h0m5-51h0m5 88h0m3-13h0m7-25h0m3-24h0m4-38h0m6 69h0m6-41h0m2 26h0m4-78h0m7 52h0m0 53h0m6-3h0m4-26h0m5 21h0m6-54h0m4 83h0m4-71h0m6-16h0m3 11h0m5 33h0m6 10h0m1-65h0m6 56h0m4 44h0m3-24h0m7-35h0m5 12h0m4-58h0m4 0h0m3 106h0m7-55h0m5-13h0m1 52h0m5-48h0m6-6h0m2 32h0m8 11h0m2-100h0m7 3h0m5 88h0m4 3h0m1-74h0m6 47h0m3 37h0m6-12h0m3-18h0m4 43h0m5-73h0m6 26h0m4 2h0m5-26h0m3 2h0m4 40h0m8-7h0m2-4h0m5-66h0m5 100h0m5-34h0m3-4h0m4-6h0m7 34h0m5-52h0m1 13h0m6-15h0m5 59h0m2 4h0m8-56h0m3 82h0m4-94h0m3 18h0m6 13h0m4-35h0m4 22h0m6-28h0m4 11h0m5 28h0m4 28h0m2-63h0m7-32h0m4 25h0m3-13h0m7 40h0m3 26h0m4 9h0m5-72h0m3 106h0m9-100h0m3 36h0m5 6h0m4-34h0m2 53h0m5-51h0m6 23h0m3-27h0m5 6h0m4 24h0m4-14h0m7 5h0m4 22h0m4-49h0m5 28h0m5-44h0m3 75h0m3-28h0m8 31h0m1-38h0m7 10h0m1-5h0m6-9h0m5-9h0m4 66h0m7-31h0m3-14h0m6 13h0m4-11h0m3 66h0m7-21h0m1-43h0m4-26h0m6 81h0m6-102h0m2 48h0m7 20h0m5 7h0m2-69h0m6 40h0m5-22h0m2 23h0m5-30h0m5 37h0m5-26h0m5 24h0m1-37h0m8 11h0m1-12h0m6 67h0m3-41h0m5 20h0m5-45h0m3 44h0m7-27h0m4 30h0m3-30h0m5-54h0m7 91h0m2-86h0m5 80h0m4-12h0m5 53h0m5-80h0m5 83h0m3-19h0m6-24h0m4 36h0m6-70h0m1-2h0m6-10h0m4 37h0m7-35h0m4 96h0m5-29h0m4 5h0m1-59h0m5-18h0m8-13h0m3-27h0m4 104h0m5-42h0m6 22h0m4-21h0m4-37h0m2 88h0m6-61h0m4 22h0m7-2h0m4-15h0m2 29h0m4-49h0m3 71h0m9-26h0m1-15h0m5 0h0m5-11h0m6 31h0m5 32h0m3-10h0m5-40h0m6-5h0m1 54h0m7-23h0m1 7h0m6 8h0m5-30h0m6 14h0m4-44h0m4 4h0m3 25h0m6-40h0m5 7h0m2 38h0m6-31h0m4 6h0m3 70h0m7-92h0m4 54h0m2 5h0m8 6h0m3 17h0m4-11h0m5-10h0m7-65h0m3 15h0m5 45h0m1-91h0m6 100h0m6 0h0m5 21h0m3-61h0m6 45h0m1-84h0m7 23h0m6 24h0m4 52h0m4-63h0m1 26h0m6 13h0m7-59h0m1 17h0m7-42h0m5 136h0m4-40h0m1-43h0m6-12h0m4 25h0m6 53h0m6-97h0m1 14h0m6-30h0m3 78h0m4 2h0m8-46h0m5-12h0m2 49h0m3 28h0m6-16h0m6-19h0m5-8h0m4 41h0m2-69h0m4 33h0m7 12h0m4 0h0m3-25h0m7-9h0m1 32h0m8-1h0m1-29h0m7 6h0m3 12h0m6 11h0m2-12h0m5 7h0m7-70h0m4 61h0m3-22h0m5 47h0m3 31h0m7-68h0m2 81h0m8-86h0m4 17h0m5-12h0m4 6h0m2 16h0m3 16h0m6-13h0m7-15h0m5 41h0m2-26h0m5-2h0m2 1h0m5 38h0m5-47h0m7-9h0m3 4h0m6 24h0m4 23h0m2 3h0m8-108h0m3 82h0m4-22h0m4 14h0m4 9h0m4-76h0m5 61h0m7-32h0m1 90h0m7-74h0m5-6h0m5-10h0m2 20h0m3 47h0m4-35h0m9 21h0m0-29h0m8 36h0m1-69h0m7 60h0m2-30h0m7 73h0m3-84h0m6 42h0m4-69h0m4 39h0m6-6h0m4-22h0m5-8h0m5 22h0m4-12h0m2-10h0m6 76h0m6-66h0m2-22h0m3 28h0m7 51h0m3-78h0m5 66h0m7-97h0m2 72h0m6-9h0m2 20h0m5 21h0m3-5h0m6-83h0m6 70h0m5-27h0m2 12h0m4-17h0m5 6h0m5 49h0m5-7h0m3-31h0m6-37h0m6 18h0m2 24h0m5-14h0"/>
<path stroke="#cfe183" d="M948 4006h0m3 43h0m7 12h0m3-14h0m6-19h0m1 3h0m6-56h0m3-43h0m7 75h0m3-25h0m4 8h0m3-21h0m7 58h0m4-77h0m6 25h0m4 62h0m3-51h0m5 4h0m7 24h0m0-23h0m4 33h0m7 11h0m6-23h0m4 8h0m6-20h0m2-10h0m3-25h0m4 83h0m5-24h0m5-76h0m5 68h0m6-10h0m2 32h0m7-17h0m1-12h0m7-14h0m4-15h0m5 56h0m5-20h0m2 7h0m7-11h0m2 5h0m4-31h0m6-6h0m6 15h0m3 11h0m5 1h0m2-17h0m8 9h0m1 51h0m7-120h0m4 30h0m7 69h0m1-77h0m5 94h0m3-1h0m7-69h0m4 15h0m6 16h0m3-29h0m3 52h0m4-16h0m7-73h0m5 14h0m4 79h0m4-67h0m6 35h0m4-9h0m3 9h0m3-21h0m4 32h0m5 37h0m4-49h0m6 7h0m5-6h0m4 4h0m6-3h0m5 24h0m1-48h0m6-27h0m6 98h0m4-50h0m5 16h0m1 4h0m7 14h0m2-81h0m7 22h0m4 30h0m4 4h0m5-24h0m5 39h0m1-66h0m8-3h0m2 16h0m5 37h0m8 74h0m3-92h0m3 1h0m3-32h0m5 90h0m8-68h0m2 27h0m3 39h0m6-83h0m4 1h0m5 68h0m5-25h0m5-23h0m3 40h0m5-43h0m4-5h0m5-17h0m6 0h0m3 14h0m5 52h0m4-23h0m3-16h0m4-4h0m4-28h0m6 44h0m6 7h0m4 26h0m3-71h0m4 84h0m4-43h0m5 1h0m5-4h0m6-54h0m5 74h0m2-7h0m6-42h0m6-11h0m4 49h0m3-21h0m6-38h0m3 35h0m4 9h0m6-41h0m4 53h0m2 27h0m6-49h0m5 15h0m2-24h0m9-6h0m0 65h0m5-67h0m5 84h0m6-69h0m3 2h0m6-38h0m2 31h0m8 41h0m4-19h0m6 11h0m0 23h0m8-48h0m2 22h0m4 79h0m6-69h0m4 78h0m4-58h0m4 66h0m6 57h0m5-52h0m4 55h0m6-14h0m4 82h0m3-22h0m5 68h0m3 39h0m7-16h0m2-3h0m7 69h0m2-95h0m7 62h0m3-18h0m3-36h0m6 99h0m6-42h0m4-11h0m2 17h0m6-21h0m2-14h0m8 40h0m3 4h0m3 9h0m7-2h0m4-25h0m6 82h0m1-40h0m5 13h0m7-85h0m1 39h0m6 0h0m5 53h0m3-51h0m4-11h0m8 15h0m3-31h0m6 21h0m4 29h0m4 33h0m5-152h0m2 212h0m5-93h0m3 22h0m8-52h0m2 31h0m5 7h0m5 13h0m2-35h0m7-12h0m6 19h0m2 27h0m6 71h0m3-121h0m3 3h0m5-11h0m6 5h0m6 78h0m5-49h0m2 15h0m3 117h0m5-92h0m4-1h0m4-23h0m6 10h0m6-7h0m3 26h0m3 17h0m6-46h0m4 1h0m7 14h0m5 0h0m0 29h0m7 3h0m5-47h0m1-4h0m6-23h0m7 10h0m2 47h0m4-3h0m4-118h0m7 90h0m4-21h0m5 27h0m2 27h0m7-65h0m2-20h0m7 52h0m2-8h0m6 42h0m5-57h0m3-15h0m7 16h0m3-26h0m2 31h0m8 28h0m5-37h0m1-51h0m5 34h0m4 63h0m6 13h0m6-2h0m3-45h0m5-34h0m4 38h0m3 27h0m6-19h0m6-42h0m4 48h0m3 7h0m3-109h0m4 42h0m8 69h0m4-13h0m2-9h0m5 15h0m4-33h0m7-7h0m5 37h0m1-76h0m5 20h0m6 104h0m6-85h0m3 48h0m3-5h0m7-5h0m4-19h0m6-106h0m2 128h0m5-24h0m3 17h0m3 4h0m6 56h0m4-131h0m7 46h0m2 82h0m6-118h0m4 58h0m6-14h0m4-20h0m2-68h0m5 56h0m5-24h0m7-34h0m1 29h0m7 4h0m3 32h0m4-67h0m7 45h0m4-4h0m5-36h0m2 24h0m7 8h0m2-29h0m6-65h0m2 49h0m8-54h0m4-8h0m2-65h0m5 63h0m3-85h0m7 10h0m4-40h0m7-67h0m2 17h0m3 56h0m7-56h0m2 4h0m7-28h0m5 5h0m3-64h0m3 94h0m7-5h0m2-46h0m7 9h0m1-34h0m7 52h0m2 8h0m5 31h0m7-45h0m2-5h0m8 16h0m4-30h0m3 5h0m6 11h0m5 39h0m2-2h0m3-34h0m5 26h0m7-25h0m2-26h0m5-22h0m5 52h0m4-12h0m5-3h0m3-15h0m4 24h0m5-43h0m5 50h0m5-24h0m5 5h0m6 5h0m3-78h0m6 77h0m3 71h0m6-115h0m4 73h0m4-55h0m3 57h0m3-54h0m8 2h0m3-19h0m5 71h0m5-22h0m5-89h0m4 70h0m3-9h0m5-8h0m5 45h0m3-33h0m7 16h0m1 1h0m7 7h0m5-14h0m4 63h0m2-121h0m5 7h0m6 13h0m4 32h0m3 53h0m5-31h0m7-2h0m0 16h0m9 2h0m1-52h0m8 23h0m1-8h0m6 14h0m6 1h0m2-8h0m5 20h0m7-85h0m1 150h0m8-51h0m1-67h0m8-15h0m1 95h0m3-25h0m6-21h0m7-10h0m4 6h0m5-33h0m5-11h0m1-3h0m5 21h0m7-14h0m3 64h0m3-37h0m5 35h0m4-45h0m5-41h0m6 47h0m4 25h0m5-49h0m4 0h0m3 50h0m4 7h0m4-39h0m8 24h0m2 2h0m5 22h0m7-67h0m1 63h0m7-1h0m4 12h0m3 6h0m6-61h0m2 42h0m7-21h0m3 51h0m6-58h0m5-23h0m1 23h0m5-25h0m4 47h0m8-43h0m1 23h0m7 29h0"/>
<path stroke="#cfe183" d="M3882 3987h0m3-60h0m7 50h0m3-18h0m6 54h0m1 9h0m6-44h0m3 10h0m7 59h0m3-15h0m4-30h0m3-55h0m7 59h0m4 2h0m6 12h0m4-70h0m3-29h0m5 114h0m7 53h0m0-140h0m4 57h0m7 10h0m6-7h0m4 18h0m6-22h0m2 37h0m3-88h0m4 36h0m5 58h0m5-90h0m5 54h0m6-49h0m2 63h0m7-33h0m1-34h0m7 76h0m4-94h0m5 64h0m5 6h0m2-16h0m7-4h0m2-4h0m4 9h0m6-29h0m6 7h0m3 48h0m5-36h0m2 62h0m8-30h0m1-35h0m7 22h0m4-48h0m7 43h0m1-37h0m5 67h0m3 30h0m7-56h0m4-16h0m6 11h0m3-7h0m3 20h0m4 8h0m7 12h0m5 7h0m4-14h0m4-21h0m6-55h0m4 42h0m3 8h0m3-12h0m4-51h0m5 27h0m4 68h0m6-51h0m5 47h0m4-17h0m6 5h0m5 5h0m1 13h0m6-51h0m6 17h0m4 5h0m5 30h0m1-72h0m7 76h0m2-8h0m7 5h0m4-57h0m4 73h0m5-1h0m5-79h0m1 69h0m8-27h0m2-31h0m5 37h0m8-19h0m3 4h0m3-50h0m3-7h0m5 11h0m8 28h0m2 15h0m3-38h0m6 16h0m4 65h0m5-21h0m5-8h0m5-58h0m3 35h0m5-7h0m4 20h0m5-4h0m6 25h0m3-1h0m5-41h0m4 5h0m3 36h0m4-54h0m4 62h0m6 35h0m6-80h0m4 51h0m3-110h0m4 108h0m4-61h0m5-17h0m5-9h0m6 17h0m5 2h0m2 59h0m6-3h0m6-54h0m4-4h0m3-20h0m6 58h0m3 37h0m4-13h0m6-40h0m4-56h0m2 53h0m6 42h0m5-56h0m2 36h0m9 48h0m0-42h0m5 7h0m5 0h0m6-3h0m3-37h0m6 87h0m2-89h0m8 55h0m4-25h0m6 3h0m0-15h0m8 27h0m2-30h0m4-5h0m6-6h0m4 23h0m4-30h0m4 10h0m6-6h0m5 40h0m4 44h0m6-113h0m4 43h0m3 14h0m5 0h0m3-70h0m7 86h0m2 7h0m7-62h0m2 14h0m7 85h0m3-5h0m3-30h0m6-52h0m6 1h0m4 35h0m2-8h0m6-51h0m2 56h0m8 17h0m3-49h0m3 41h0m7 7h0m4-23h0m6 32h0m1-31h0m5-1h0m7 38h0m1-32h0m6-5h0m5-10h0m3-9h0m4-42h0m8 74h0m3-7h0m6-55h0m4-3h0m4 43h0m5 34h0m2-58h0m5 75h0m3-55h0m8 56h0m2-35h0m5 16h0m5-47h0m2 32h0m7-27h0m6 16h0m2 27h0m6 15h0m3-82h0m3 46h0m5-3h0m6 26h0m6 2h0m5-43h0m2-21h0m3 35h0m5 48h0m4-38h0m4 12h0m6-39h0m6 73h0m3-85h0m3 34h0m6-15h0m4-50h0m7 75h0m5 2h0m0-30h0m7 28h0m5-25h0m1 45h0m6-34h0m7-50h0m2 79h0m4-60h0m4 1h0m7 6h0m4 0h0m5 28h0m2-52h0m7 62h0m2-60h0m7 76h0m2-112h0m6 53h0m5 20h0m3-8h0m7-35h0m3 20h0m2 13h0m8 19h0m5 1h0m1 7h0m5 7h0m4-6h0m6-17h0m6 50h0m3-12h0m5-55h0m4-17h0m3 47h0m6 16h0m6-105h0m4 96h0m3-23h0m3 6h0m4 27h0m8-53h0m4 21h0m2-28h0m5 30h0m4-41h0m7 35h0m5 1h0m1 34h0m5-25h0m6 31h0m6-53h0m3 88h0m3-61h0m7-41h0m4 4h0m6 74h0m2 4h0m5-44h0m3-29h0m3-1h0m6 26h0m4 52h0m7-79h0m2 64h0m6-14h0m4-85h0m6 67h0m4 25h0m2-23h0m5-4h0m5-31h0m7 135h0m1-58h0m7 8h0m3-59h0m4 34h0m7-26h0m4-35h0m5 22h0m2-45h0m7 14h0m2 28h0m6 29h0m2 3h0m8-17h0m4-7h0m2-37h0m5 77h0m3-40h0m7 9h0m4-15h0m7 11h0m2-31h0m3 47h0m7-51h0m2-7h0m7-2h0m5 38h0m3 6h0m3-11h0m7-2h0m2-8h0m7 19h0m1-19h0m7 26h0m2-18h0m5-43h0m7 86h0m2-60h0m8 38h0m4-76h0m3 40h0m6 44h0m5 88h0m2-92h0m3-45h0m5 38h0m7-10h0m2-37h0m5 78h0m5-42h0m4 2h0m5-41h0m3 4h0m4 19h0m5-24h0m5 16h0m5-16h0m5 48h0m6-19h0m3-22h0m6 101h0m3-144h0m6 67h0m4 1h0m4 4h0m3-30h0m3 31h0m8 33h0m3-47h0m5 25h0m5 0h0m5-47h0m4 22h0m3 28h0m5 27h0m5-37h0m3 38h0m7-67h0m1-20h0m7 56h0m5-5h0m4-10h0m2 61h0m5-32h0m6-23h0m4-6h0m3 8h0m5 9h0m7 36h0m0-96h0m9 67h0m1-22h0m8 34h0m1-5h0m6-9h0m6-31h0m2-32h0m5 81h0m7-36h0m1 13h0m8 17h0m1-21h0m8-23h0m1 11h0m3-1h0m6-26h0m7 54h0m4-14h0m5-33h0m5 28h0m1 12h0m5-33h0m7 4h0m3 8h0m3 43h0m5 0h0m4-29h0m5 12h0m6-5h0m4 6h0m5-54h0m4 39h0m3 17h0m4-177h0m4 114h0m8 89h0m2-47h0m5 21h0m7-45h0m1 49h0m7-16h0m4-26h0m3 22h0m6-35h0m2-14h0m7-1h0m3-25h0m6 59h0m5-16h0m1 47h0m5-4h0m4-31h0m8 11h0m1-7h0m7-64h0"/>
<path stroke="#e7cd73" d="M947 4300h0m4-30h0m7 20h0m1-64h0m4 90h0m7 12h0m6-55h0m1 34h0m8-19h0m5-23h0m2 29h0m5-17h0m5-4h0m4-8h0m2 6h0m5 74h0m6-31h0m5-15h0m1-12h0m7 2h0m6-27h0m2-17h0m6-7h0m3 16h0m5 19h0m5-8h0m4-9h0m3 61h0m6-44h0m7 50h0m3-64h0m2 69h0m5-16h0m7 7h0m5 25h0m4-48h0m3-22h0m6 44h0m2 47h0m5-78h0m4-1h0m6 55h0m2-40h0m7-43h0m4 25h0m4 33h0m3-33h0m6-9h0m3 50h0m7 0h0m4 18h0m3-93h0m5 25h0m7 23h0m4 52h0m5-33h0m3-30h0m2 0h0m8 31h0m3-54h0m2 47h0m8-6h0m3 29h0m2-37h0m6-21h0m4-35h0m4 49h0m4 86h0m6-50h0m4-46h0m7-14h0m5 18h0m5 2h0m0 7h0m6 36h0m3 24h0m5-66h0m4-31h0m5 45h0m8-27h0m3 17h0m4-55h0m3 85h0m7-28h0m2 64h0m7-44h0m1-59h0m9 10h0m3 1h0m4 18h0m3 44h0m7-58h0m2 8h0m8 75h0m2-85h0m4 59h0m3-24h0m6-10h0m5-33h0m4 47h0m5-63h0m3 3h0m6 81h0m5-28h0m4 4h0m3 60h0m7-43h0m3-29h0m6-22h0m1 52h0m8-3h0m2 28h0m6-51h0m5 13h0m3 6h0m7-18h0m4-22h0m2 38h0m7 1h0m3 48h0m5-36h0m2 9h0m8-33h0m4 19h0m2 17h0m4-58h0m6 34h0m6-2h0m5-49h0m3 34h0m4 9h0m6-13h0m5-39h0m1 37h0m7-32h0m3 3h0m4 28h0m6 6h0m5-17h0m2-24h0m3 51h0m5-1h0m6-24h0m3 54h0m6-23h0m3-34h0m7 59h0m5 4h0m5-52h0m1-27h0m5 14h0m3 36h0m5-23h0m4-3h0m8-51h0m2 60h0m7-18h0m5 58h0m3 41h0m4 25h0m6 5h0m4 25h0m2-22h0m4 32h0m5-22h0m6 68h0m4-11h0m4 57h0m7 45h0m3 20h0m6 32h0m2-13h0m5-5h0m5 12h0m4 26h0m4-40h0m4 50h0m5-7h0m6 23h0m5-13h0m2-41h0m4 9h0m7-25h0m3 36h0m6-30h0m4 36h0m5 33h0m2-31h0m7 8h0m4 75h0m3-122h0m3 88h0m5-28h0m6 67h0m3-81h0m5-97h0m5 115h0m5 9h0m3-31h0m7 24h0m4 70h0m3-58h0m6-54h0m2 12h0m7 18h0m3-11h0m5 13h0m6-10h0m4 27h0m3-38h0m7 77h0m2-59h0m3-12h0m7-9h0m6 19h0m2 73h0m7-49h0m1 25h0m6-56h0m4 31h0m6-107h0m4 145h0m2-53h0m7 66h0m5-73h0m4 22h0m4-14h0m2 58h0m8-39h0m3-4h0m3-5h0m5-2h0m7 3h0m3 20h0m6-98h0m4 95h0m3-45h0m6 24h0m1 7h0m8-73h0m2 55h0m7-36h0m4 105h0m4-91h0m5 48h0m5-2h0m3 13h0m4-24h0m4-37h0m6 47h0m2-44h0m6-24h0m5 29h0m5 18h0m3 31h0m6-82h0m5 21h0m5 30h0m4-9h0m2 58h0m6-49h0m6-47h0m2 82h0m3-47h0m5-15h0m4-39h0m7 24h0m6 16h0m1 25h0m5-3h0m3 52h0m4-22h0m6-29h0m5 15h0m4-23h0m6-25h0m2 36h0m7-44h0m3 50h0m3-33h0m8 2h0m1 35h0m8-33h0m5-38h0m4 2h0m2 86h0m6-45h0m2-2h0m7-12h0m6-37h0m1 38h0m4 27h0m7-38h0m2 24h0m7-31h0m2 16h0m7 53h0m5-43h0m5 55h0m3-109h0m3-48h0m6 98h0m4-40h0m6 3h0m1 20h0m4 11h0m6-30h0m3 14h0m6 51h0m6 18h0m3-78h0m5-71h0m6 1h0m5 46h0m1 42h0m4-64h0m6 5h0m3 17h0m7-57h0m5 16h0m2-69h0m5-17h0m3-47h0m7 7h0m6-17h0m3-51h0m5-27h0m6 1h0m4-35h0m1-35h0m8 98h0m4-72h0m3-1h0m3-4h0m7 9h0m3-33h0m5-2h0m2 2h0m5 78h0m6-16h0m3-14h0m5 12h0m7-26h0m4 40h0m5-25h0m5-44h0m1-59h0m6 89h0m6 3h0m2-3h0m5 34h0m6-74h0m3 50h0m3-9h0m7 23h0m3-9h0m7-33h0m2 5h0m5 42h0m3-33h0m4-38h0m5 59h0m4-42h0m7-8h0m3 38h0m7-3h0m1 34h0m4-69h0m6 15h0m5 55h0m6 42h0m3-70h0m6-5h0m5 1h0m4-18h0m1-1h0m6 73h0m4-36h0m7-59h0m4 78h0m2-41h0m5-33h0m7 26h0m3 73h0m5-64h0m6 18h0m1 26h0m4-40h0m8-38h0m0 53h0m7 1h0m4-20h0m6 8h0m4-41h0m3 19h0m6 23h0m5-74h0m1 183h0m8-100h0m5-33h0m2-12h0m4 8h0m5 5h0m4 36h0m7-6h0m5 15h0m2-17h0m4-22h0m7 6h0m2-109h0m7 158h0m4-37h0m5-38h0m4 50h0m2 44h0m6-66h0m5 30h0m5 10h0m3 35h0m6-41h0m4 13h0m1-38h0m7 33h0m6-40h0m3 15h0m4-57h0m7 56h0m2-25h0m5 7h0m5 3h0m5-13h0m3 45h0m5-55h0m4 90h0m3-29h0m4-74h0m8-36h0m2 101h0m4-48h0m3 9h0m7 69h0m5-31h0m2-66h0m8 54h0m2-50h0m7 80h0m4-99h0m4 1h0m6 58h0m3 16h0"/>
<path stroke="#e7cd73" d="M3881 4268h0m4 11h0m7-25h0m1 84h0m4-38h0m7 0h0m6 1h0m1-4h0m8-7h0m5 11h0m2-43h0m5-20h0m5 26h0m4 14h0m2 47h0m5 8h0m6-40h0m5 60h0m1-44h0m7-23h0m6-34h0m2 53h0m6 12h0m3-32h0m5-1h0m5-7h0m4 73h0m3-59h0m6 5h0m7-5h0m3-2h0m2 4h0m5 58h0m7-16h0m5 1h0m4-60h0m3 28h0m6-55h0m2 70h0m5-10h0m4 41h0m6-43h0m2 33h0m7-54h0m4 10h0m4-52h0m3 36h0m6 10h0m3-28h0m7 46h0m4 38h0m3-67h0m5-3h0m7 59h0m4-20h0m5-36h0m3 33h0m2-37h0m8-39h0m3 44h0m2 37h0m8-10h0m3-2h0m2-34h0m6-11h0m4 58h0m4-16h0m4 53h0m6-106h0m4 81h0m7-9h0m5-22h0m5-67h0m0-7h0m6 89h0m3 8h0m5-8h0m4-44h0m5 8h0m8 17h0m3-51h0m4 47h0m3 5h0m7 16h0m2-59h0m7 71h0m1-35h0m9 5h0m3-35h0m4 8h0m3 35h0m7-38h0m2 30h0m8 2h0m2-17h0m4-25h0m3 73h0m6 16h0m5 2h0m4-98h0m5 36h0m3-13h0m6 15h0m5-1h0m4 2h0m3 17h0m7-19h0m3 22h0m6-129h0m1 136h0m8-91h0m2 134h0m6-121h0m5 43h0m3 8h0m7 54h0m4-98h0m2 17h0m7 46h0m3-65h0m5 113h0m2-35h0m8-84h0m4 74h0m2-14h0m4-41h0m6 62h0m6-40h0m5 40h0m3-29h0m4 55h0m6-24h0m5-23h0m1-17h0m7-18h0m3 36h0m4 18h0m6-1h0m5-37h0m2 5h0m3 29h0m5-3h0m6 50h0m3-121h0m6 41h0m3-8h0m7 36h0m5 37h0m5-95h0m1 35h0m5 39h0m3-43h0m5 58h0m4-83h0m8 92h0m2-26h0m7-44h0m5 79h0m3 10h0m4-55h0m6-1h0m4-16h0m2-28h0m4 65h0m5-37h0m6 18h0m4-26h0m4 8h0m7 17h0m3 15h0m6-12h0m2-28h0m5 59h0m5-29h0m4 6h0m4 6h0m4-5h0m5-45h0m6 10h0m5-25h0m2 69h0m4-78h0m7 54h0m3-19h0m6 2h0m4-5h0m5 40h0m2-22h0m7-16h0m4 5h0m3-5h0m3 70h0m5-69h0m6 27h0m3-17h0m5 23h0m5-17h0m5-30h0m3 36h0m7 35h0m4-4h0m3-78h0m6 75h0m2-9h0m7-28h0m3 27h0m5-49h0m6 41h0m4-58h0m3 56h0m7 12h0m2-56h0m3-7h0m7 33h0m6-50h0m2 65h0m7-8h0m1 72h0m6-83h0m4-40h0m6 55h0m4-15h0m2 39h0m7-54h0m5 18h0m4-6h0m4 5h0m2-13h0m8 43h0m3-15h0m3-33h0m5 66h0m7-21h0m3-42h0m6-7h0m4 17h0m3 26h0m6-17h0m1-5h0m8-49h0m2 37h0m7 12h0m4 21h0m4-20h0m5-21h0m5 4h0m3 32h0m4-18h0m4-94h0m6 61h0m2 8h0m6 43h0m5-12h0m5 4h0m3-9h0m6-27h0m5-5h0m5 40h0m4 6h0m2 46h0m6-74h0m6 13h0m2 0h0m3 75h0m5-57h0m4 12h0m7-32h0m6-2h0m1 36h0m5-98h0m3 52h0m4 36h0m6-18h0m5-57h0m4 47h0m6 9h0m2-17h0m7 50h0m3-48h0m3 23h0m8-48h0m1 44h0m8 28h0m5-4h0m4-76h0m2 47h0m6-18h0m2 5h0m7-9h0m6-20h0m1 47h0m4 46h0m7-52h0m2 60h0m7-79h0m2-28h0m7 32h0m5 21h0m5-29h0m3-14h0m3 89h0m6-8h0m4-10h0m6-20h0m1-8h0m4-24h0m6 10h0m3 13h0m6-35h0m6 29h0m3 6h0m5-15h0m6 5h0m5 0h0m1 44h0m4-69h0m6-6h0m3 18h0m7 41h0m5-16h0m2-56h0m5 19h0m3 69h0m7-165h0m6 135h0m3 54h0m5-117h0m6 66h0m4-52h0m1 29h0m8-9h0m4-53h0m3 55h0m3 26h0m7-23h0m3 71h0m5-104h0m2 22h0m5-35h0m6 11h0m3 79h0m5 10h0m7-8h0m4-31h0m5 1h0m5 54h0m1-11h0m6-55h0m6 44h0m2-35h0m5 55h0m6-32h0m3-22h0m3-34h0m7 25h0m3 13h0m7-3h0m2-8h0m5-24h0m3 25h0m4 3h0m5 80h0m4-73h0m7 16h0m3-44h0m7-1h0m1-8h0m4 12h0m6 38h0m5 36h0m6-69h0m3 88h0m6-66h0m5 22h0m4-80h0m1 61h0m6 8h0m4 26h0m7-58h0m4 13h0m2-2h0m5-32h0m7 80h0m3-32h0m5 64h0m6-70h0m1 22h0m4-68h0m8 21h0m0-19h0m7 104h0m4-66h0m6-40h0m4 43h0m3-42h0m6 94h0m5-67h0m1-13h0m8 12h0m5 60h0m2-59h0m4 52h0m5-42h0m4 4h0m7 64h0m5-84h0m2 37h0m4-34h0m7-35h0m2 45h0m7-9h0m4-10h0m5 22h0m4-7h0m2 41h0m6-30h0m5-40h0m5 26h0m3 9h0m6 26h0m4-4h0m1-47h0m7 75h0m6-24h0m3-18h0m4-35h0m7-41h0m2 130h0m5-17h0m5-6h0m5-64h0m3-6h0m5 22h0m4 6h0m3-36h0m4 33h0m8 48h0m2-105h0m4 81h0m3 3h0m7-33h0m5 11h0m2-5h0m8 7h0m2 35h0m7-71h0m4 128h0m4-44h0m6-34h0m3 9h0"/>
<path stroke="#ffb461" d="M948 4589h0m5-24h0m2 85h0m5-89h0m4 45h0m4-51h0m6 70h0m6-17h0m2-55h0m4 61h0m4 59h0m8-55h0m1-63h0m4 84h0m7-87h0m6 18h0m3-20h0m3 5h0m5-22h0m6 32h0m3 32h0m7 159h0m5-156h0m0 0h0m5 5h0m6 12h0m6-102h0m1 67h0m7 52h0m5-123h0m5 72h0m5 18h0m4 27h0m2-68h0m4-23h0m6 69h0m5-18h0m3-18h0m5 56h0m5-88h0m2 65h0m7 26h0m5 38h0m3-68h0m6 14h0m4-3h0m4 34h0m5-96h0m4 40h0m4-29h0m6 12h0m4 24h0m1 16h0m9-2h0m2-69h0m3 0h0m5 47h0m6 12h0m3-43h0m5 36h0m7-13h0m4 6h0m1 19h0m5-41h0m7 41h0m2-31h0m4-21h0m7 4h0m4 32h0m3-4h0m5-9h0m3 35h0m8-27h0m1-62h0m5 38h0m5 37h0m5 4h0m7-45h0m3 58h0m5 22h0m5-33h0m3-49h0m5 20h0m3-2h0m3 13h0m8 36h0m3-11h0m5 33h0m6-55h0m4 14h0m5 0h0m4 18h0m5-29h0m2-19h0m6-6h0m2 89h0m5-103h0m3-13h0m8 103h0m1-31h0m9 0h0m0 14h0m7-53h0m6-12h0m4 45h0m2-21h0m4 15h0m5 10h0m7-22h0m4 28h0m5-75h0m3 59h0m3 18h0m5-19h0m6-11h0m4 19h0m4-25h0m6 10h0m3-8h0m4 75h0m6-111h0m5 32h0m2-3h0m4 28h0m5-63h0m7 32h0m3-41h0m5 56h0m4-48h0m3 32h0m5 65h0m4-92h0m5 50h0m4 51h0m6-22h0m6-79h0m2 75h0m3-14h0m8-1h0m4-63h0m2 96h0m5-54h0m6-39h0m4 35h0m6 13h0m4 39h0m2-33h0m5-23h0m7 20h0m4 18h0m4-24h0m4 6h0m3-27h0m6-13h0m6 30h0m4 30h0m5-15h0m4 40h0m1 26h0m5-15h0m5 48h0m4 5h0m5-6h0m5 93h0m5 15h0m2-65h0m7 69h0m6 44h0m2-42h0m6 49h0m1 36h0m8 39h0m2-44h0m4 34h0m8 18h0m3 10h0m4-2h0m6-12h0m3-2h0m5 64h0m3-68h0m4-5h0m5-4h0m4 8h0m5-6h0m7 47h0m4-23h0m5-57h0m4 51h0m4-17h0m5 26h0m1-10h0m7 14h0m6-35h0m1 44h0m7 43h0m6 33h0m2-83h0m2-4h0m8-18h0m4 30h0m5-60h0m4 10h0m2 111h0m4 41h0m7-101h0m6-9h0m2 4h0m7 66h0m1-111h0m6 21h0m5 16h0m3 71h0m5-11h0m4-52h0m4-5h0m8-4h0m3-4h0m3 18h0m5-50h0m4 26h0m4-14h0m6 55h0m2-45h0m8 31h0m1 32h0m7-59h0m3-35h0m7 30h0m3-55h0m5 162h0m5-56h0m4 7h0m2-93h0m6 34h0m6-6h0m4-88h0m3 161h0m3 27h0m8-59h0m5 38h0m0-17h0m8-77h0m3 39h0m6-33h0m5 24h0m3 53h0m3-54h0m6 40h0m4-34h0m6 61h0m4-23h0m5 5h0m2-20h0m4-19h0m7 33h0m5-72h0m2-58h0m7 119h0m2-31h0m4-10h0m7-14h0m2 58h0m6-30h0m3-39h0m4 112h0m5-30h0m4-124h0m4 35h0m8 49h0m1 8h0m4-45h0m5 108h0m6-33h0m7-36h0m3 4h0m3-18h0m7-14h0m4 63h0m4-96h0m4 78h0m4-12h0m6-4h0m3-2h0m7-46h0m4 13h0m4-21h0m4 28h0m1-28h0m6 14h0m4-10h0m5-43h0m4 25h0m7 12h0m4 40h0m3-31h0m3 25h0m6-30h0m7 14h0m2 6h0m6-36h0m4-17h0m6 31h0m1 2h0m7 32h0m3-9h0m6-72h0m5 26h0m4 46h0m4-37h0m3-6h0m3 35h0m5-30h0m8 18h0m1-40h0m8 4h0m4-74h0m5 16h0m4-12h0m4-25h0m2-14h0m5-29h0m3-41h0m7 15h0m2-16h0m8-104h0m3 49h0m4-73h0m3 33h0m7 65h0m6-138h0m1 137h0m8-48h0m4-27h0m5 50h0m2-60h0m4 84h0m6-98h0m5-16h0m3-34h0m5 64h0m5-22h0m4-11h0m4 45h0m3-15h0m7 57h0m4-47h0m5 40h0m5-12h0m3-36h0m4-20h0m3 29h0m5 6h0m6 24h0m3 49h0m5-71h0m6-23h0m3 7h0m6 61h0m1-53h0m5-22h0m8 13h0m3 17h0m3-5h0m4 11h0m4 22h0m7-78h0m5 68h0m4-16h0m2-24h0m8 56h0m4 18h0m2-35h0m5-66h0m6 72h0m5-13h0m1-5h0m6-23h0m3 24h0m6-25h0m7 79h0m4-4h0m3-116h0m3 86h0m8-38h0m3 8h0m2-15h0m6 5h0m5 53h0m4-74h0m5 40h0m3 66h0m6-193h0m2 97h0m5 15h0m7 29h0m4 21h0m4-15h0m6-34h0m2 7h0m6 22h0m5-23h0m2 8h0m6-46h0m5 32h0m3 78h0m3-30h0m6-24h0m3 32h0m5-48h0m8-52h0m3 60h0m4-2h0m5-131h0m2 133h0m6 6h0m6 71h0m3-63h0m4 31h0m7 8h0m2-19h0m7-45h0m1 36h0m7-10h0m5-61h0m1 50h0m4-63h0m8-1h0m5 44h0m4-8h0m4-4h0m6 22h0m1 13h0m4-53h0m6 25h0m3 48h0m8 4h0m2 12h0m7 16h0m2-105h0m6 27h0m5 3h0m4-17h0m3 17h0m4 8h0m4-64h0m6 54h0m2-25h0m6-17h0m7-8h0"/>
<path stroke="#ffb461" d="M3882 4616h0m5 28h0m2-62h0m5-19h0m4 14h0m4 30h0m6 40h0m6-67h0m2-27h0m4 22h0m4 48h0m8-18h0m1-4h0m4-69h0m7 60h0m6-47h0m3 161h0m3-77h0m5-3h0m6 7h0m3-39h0m7-9h0m5 17h0m0-4h0m5-41h0m6-20h0m6 47h0m1 21h0m7 30h0m5-16h0m5 34h0m5-45h0m4-73h0m2 89h0m4-34h0m6 51h0m5-19h0m3-28h0m5-49h0m5 118h0m2-24h0m7-72h0m5 6h0m3 4h0m6 66h0m4-124h0m4 30h0m5 29h0m4-37h0m4 49h0m6 5h0m4-12h0m1 12h0m9-3h0m2-9h0m3 37h0m5-62h0m6-22h0m3 124h0m5-33h0m7 32h0m4-97h0m1 2h0m5 44h0m7-6h0m2 33h0m4-19h0m7-34h0m4-79h0m3 78h0m5 58h0m3-56h0m8 6h0m1-18h0m5 35h0m5 10h0m5-44h0m7 28h0m3-68h0m5 81h0m5-15h0m3-6h0m5-123h0m3 163h0m3-68h0m8 35h0m3 24h0m5 32h0m6-57h0m4-41h0m5 48h0m4 20h0m5 19h0m2-39h0m6 14h0m2-45h0m5 48h0m3 33h0m8-64h0m1 26h0m9-30h0m0-73h0m7 63h0m6-30h0m4 48h0m2-2h0m4 37h0m5 12h0m7-43h0m4 7h0m5-49h0m3 87h0m3-83h0m5 13h0m6 9h0m4 17h0m4 26h0m6-49h0m3 58h0m4-39h0m6-11h0m5-13h0m2 48h0m4-15h0m5-10h0m7-11h0m3 16h0m5 57h0m4-47h0m3 8h0m5-9h0m4-20h0m5 3h0m4 22h0m6-32h0m6 1h0m2 11h0m3 9h0m8-61h0m4 54h0m2 42h0m5-28h0m6-22h0m4-46h0m6 24h0m4 16h0m2 12h0m5-9h0m7 21h0m4 73h0m4-43h0m4-23h0m3-33h0m6-6h0m6 11h0m4 36h0m5-26h0m4 69h0m1-95h0m5-21h0m5 36h0m4 19h0m5-31h0m5 52h0m5-21h0m2-53h0m7 57h0m6-58h0m2 68h0m6 87h0m1-92h0m8-75h0m2 0h0m4 80h0m8-20h0m3-19h0m4-25h0m6 91h0m3-87h0m5 31h0m3 15h0m4-43h0m5 65h0m4-20h0m5 2h0m7-3h0m4-25h0m5-31h0m4 67h0m4-4h0m5-13h0m1 48h0m7-32h0m6-30h0m1-36h0m7 32h0m6 7h0m2 48h0m2-8h0m8-8h0m4-22h0m5-37h0m4 58h0m2 0h0m4-51h0m7 23h0m6 19h0m2-26h0m7-3h0m1 17h0m6 10h0m5-32h0m3 17h0m5-40h0m4-9h0m4 103h0m8-62h0m3-7h0m3 16h0m5 14h0m4 41h0m4-34h0m6 14h0m2-29h0m8-12h0m1-1h0m7 14h0m3 6h0m7-5h0m3-27h0m5 28h0m5-28h0m4 49h0m2-42h0m6 17h0m6-21h0m4-19h0m3 62h0m3 22h0m8-24h0m5-32h0m0 28h0m8 12h0m3-80h0m6 80h0m5-71h0m3 10h0m3-13h0m6 40h0m4-15h0m6 19h0m4 51h0m5-92h0m2 46h0m4-40h0m7 88h0m5-71h0m2 47h0m7-39h0m2-12h0m4 67h0m7-70h0m2-3h0m6 37h0m3-10h0m4 11h0m5-59h0m4 77h0m4-42h0m8 19h0m1-54h0m4 18h0m5 39h0m6-66h0m7 33h0m3 29h0m3-57h0m7 19h0m4-8h0m4 26h0m4 51h0m4-89h0m6 62h0m3-31h0m7-21h0m4 10h0m4 22h0m4-14h0m1-21h0m6 3h0m4 77h0m5 11h0m4-33h0m7-31h0m4 24h0m3 26h0m3-18h0m6 29h0m7-57h0m2-3h0m6 6h0m4 16h0m6 46h0m1-37h0m7-57h0m3 84h0m6-38h0m5 11h0m4 46h0m4-38h0m3-104h0m3 95h0m5-28h0m8 8h0m1 20h0m8 15h0m4-76h0m5 53h0m4-20h0m4 44h0m2-104h0m5 68h0m3 18h0m7-59h0m2 39h0m8 14h0m3-71h0m4 138h0m3-84h0m7 35h0m6-48h0m1 6h0m8 25h0m4-84h0m5 42h0m2 32h0m4 27h0m6 33h0m5-154h0m3 88h0m5-11h0m5 19h0m4-14h0m4 59h0m3-72h0m7 56h0m4-18h0m5-13h0m5 19h0m3-66h0m4 98h0m3-62h0m5 34h0m6-9h0m3 13h0m5-20h0m6-15h0m3-40h0m6-8h0m1 64h0m5-8h0m8 43h0m3-107h0m3 70h0m4-35h0m4 20h0m7 34h0m5 18h0m4-49h0m2-7h0m8 27h0m4-47h0m2 37h0m5 15h0m6-28h0m5 18h0m1-25h0m6 34h0m3-18h0m6 16h0m7 23h0m4-66h0m3 41h0m3 12h0m8 3h0m3-1h0m2-42h0m6 69h0m5-49h0m4-11h0m5 32h0m3-63h0m6 57h0m2-17h0m5-57h0m7 49h0m4 35h0m4 32h0m6-30h0m2-39h0m6 37h0m5-30h0m2 38h0m6-42h0m5-4h0m3 9h0m3 46h0m6-91h0m3 17h0m5 38h0m8-35h0m3 21h0m4-51h0m5 89h0m2-33h0m6 11h0m6-54h0m3 66h0m4-8h0m7-26h0m2 33h0m7-47h0m1-51h0m7 63h0m5 78h0m1-93h0m4 17h0m8-9h0m5 23h0m4 6h0m4-18h0m6 12h0m1-10h0m4 11h0m6 24h0m3-39h0m8 35h0m2-43h0m7 66h0m2-70h0m6 15h0m5 24h0m4 1h0m3 34h0m4-99h0m4 58h0m6 16h0m2-17h0m6-33h0m7-50h0"/>
<path stroke="#ff974f" d="M947 4857h0m6 60h0m4-21h0m3-18h0m5 22h0m7-34h0m1 27h0m5-23h0m5-37h0m4 42h0m5 78h0m3-93h0m8-28h0m1 82h0m4-33h0m8-15h0m1 16h0m8-20h0m3 57h0m4-19h0m5-40h0m3 104h0m6-93h0m3-44h0m3 99h0m5-42h0m7 11h0m5-37h0m2 7h0m6 39h0m6 48h0m3-49h0m6 6h0m2-59h0m3 75h0m6-32h0m4-15h0m7 13h0m3-23h0m6-17h0m2-42h0m5 84h0m3 11h0m5-47h0m4 63h0m4-58h0m7 1h0m6-79h0m4 113h0m4 18h0m3-20h0m5-36h0m4 1h0m5 1h0m7 80h0m1 14h0m7-55h0m5-23h0m4 23h0m4 12h0m3 26h0m6-90h0m1 38h0m6-3h0m3-57h0m6 54h0m7-43h0m1 73h0m7-21h0m3 11h0m3-9h0m5-21h0m5-41h0m6 1h0m4 73h0m4 75h0m2-90h0m5 15h0m4 6h0m6 1h0m7 0h0m2-2h0m4-30h0m5-7h0m3 34h0m9 2h0m0-65h0m8 125h0m2-130h0m6 48h0m6-31h0m3 84h0m5-70h0m2 28h0m6-13h0m6 12h0m1 0h0m7 15h0m2-47h0m5 48h0m6-39h0m6 13h0m2-12h0m7 41h0m3-39h0m5-12h0m2 29h0m8 10h0m4 3h0m3-18h0m2-7h0m7-41h0m4 87h0m7-39h0m0-28h0m6 51h0m4-35h0m6 11h0m6 24h0m3-30h0m4-22h0m2 26h0m9-3h0m4-47h0m2 56h0m7 18h0m2-46h0m6 31h0m5 5h0m5 3h0m2-15h0m5-116h0m7 123h0m3 20h0m2-10h0m7-74h0m2 94h0m5 4h0m5-104h0m6 5h0m5 38h0m5 29h0m0-15h0m9 33h0m0-9h0m7 20h0m4 18h0m5-74h0m6 43h0m4-51h0m4 27h0m4-39h0m2 75h0m6-37h0m3-7h0m8 44h0m3-40h0m4-4h0m6-20h0m3 52h0m3 107h0m7-59h0m3 129h0m5-72h0m3 81h0m4-18h0m7 8h0m2 15h0m6 52h0m5 3h0m3 67h0m7 48h0m5-134h0m5 106h0m1 5h0m5 20h0m5-42h0m6 35h0m4-48h0m2 1h0m6 1h0m6-3h0m2 61h0m6 10h0m5 23h0m2-57h0m5-25h0m5-30h0m4 99h0m5-27h0m3-11h0m8 127h0m3-123h0m4-2h0m7-13h0m4-28h0m5 98h0m0-48h0m5 8h0m7 13h0m4-98h0m3 47h0m6-4h0m2 80h0m6-73h0m5-27h0m4 26h0m4 20h0m3-18h0m6 56h0m6 17h0m5-54h0m2-52h0m3 82h0m5-101h0m6 12h0m4 66h0m6 34h0m5-3h0m1-47h0m5 37h0m6-76h0m7 9h0m1 60h0m3-46h0m7-11h0m6 34h0m4 66h0m2-35h0m5 32h0m6-62h0m4-2h0m2 41h0m8-103h0m1 83h0m8-107h0m5 78h0m1 24h0m6-9h0m2 24h0m7-15h0m2-64h0m6 9h0m4 145h0m5-156h0m3 38h0m7 5h0m3 17h0m4 19h0m4-95h0m6 59h0m5 78h0m6-14h0m2-43h0m4 27h0m5 0h0m6-84h0m4 56h0m5-59h0m2 80h0m5 50h0m6-77h0m4-30h0m6 69h0m1-98h0m6 34h0m6-37h0m3 87h0m5-34h0m3 94h0m6-52h0m6-93h0m5 34h0m1-8h0m4 97h0m5-86h0m7-43h0m3 23h0m5 20h0m3-22h0m4 24h0m5-59h0m5 122h0m7-55h0m3 7h0m6 35h0m3-33h0m2-52h0m8 26h0m3 18h0m6-52h0m4 46h0m2-4h0m6-5h0m6-35h0m3-12h0m4 60h0m3-74h0m6 60h0m5 17h0m3-71h0m6 51h0m5-19h0m2 32h0m7-70h0m4 12h0m3 10h0m3 37h0m5-64h0m6 4h0m5-14h0m5 118h0m3-106h0m6-2h0m4 35h0m4-45h0m4-12h0m6-10h0m3-25h0m5 43h0m3-50h0m6-68h0m5-2h0m4-59h0m4-11h0m6 30h0m2-96h0m4 7h0m8-41h0m4 41h0m2-27h0m4-23h0m7-18h0m2 22h0m4 52h0m8-2h0m0-25h0m7-15h0m4-12h0m7 47h0m3-90h0m5 92h0m4 32h0m3-61h0m7 71h0m2-104h0m7-5h0m2 81h0m3-22h0m7-7h0m4 45h0m5-18h0m6-3h0m4 7h0m4-39h0m4 17h0m4-82h0m5 31h0m3 72h0m7-12h0m3-59h0m5 49h0m3-17h0m4-37h0m4 4h0m6 23h0m3-55h0m8 86h0m4 12h0m3-26h0m4-13h0m4-4h0m4-41h0m7 24h0m5 14h0m1 45h0m6-52h0m3 63h0m7-44h0m4-25h0m3 37h0m6-34h0m6 38h0m1-18h0m5 50h0m8-5h0m0-25h0m6 28h0m7-47h0m3-48h0m5 33h0m5 31h0m5 3h0m2-45h0m6 66h0m1-2h0m7-39h0m2-12h0m7-49h0m2 93h0m6-42h0m3-7h0m5-10h0m4 46h0m5-34h0m6 21h0m6 33h0m1 19h0m5-38h0m5-104h0m4 68h0m7 3h0m5 34h0m4-53h0m1 110h0m6-87h0m5-4h0m4 7h0m6-29h0m1-2h0m7 32h0m6 43h0m2-46h0m6 18h0m5-34h0m3 60h0m3-11h0m6-44h0m6 19h0m2 21h0m7-30h0m3 14h0m5 14h0m2-67h0m7 53h0m2 11h0m8-40h0m2 70h0m3-50h0m9-88h0m3 93h0m3 31h0m3-22h0m7-1h0m3 8h0m7-74h0m2 3h0m7 22h0m2 22h0m5 39h0"/>
<path stroke="#ff974f" d="M3881 4918h0m6 22h0m4-69h0m3 15h0m5-61h0m7 20h0m1 42h0m5 41h0m5-11h0m4-71h0m5 26h0m3 73h0m8-40h0m1-4h0m4 25h0m8-43h0m1 22h0m8-5h0m3-39h0m4-28h0m5 53h0m3 42h0m6-71h0m3 30h0m3 11h0m5 24h0m7-29h0m5-43h0m2 54h0m6-37h0m6 20h0m3 42h0m6-24h0m2-20h0m3 50h0m6-41h0m4-45h0m7 10h0m3 52h0m6-7h0m2-82h0m5-12h0m3 79h0m5-3h0m4-69h0m4 76h0m7-4h0m6-59h0m4 39h0m4 54h0m3-49h0m5-22h0m4 25h0m5 68h0m7-115h0m1 58h0m7 19h0m5 7h0m4 20h0m4-104h0m3 101h0m6-1h0m1-34h0m6-25h0m3-26h0m6 10h0m7 12h0m1-6h0m7 42h0m3-67h0m3 43h0m5 45h0m5-52h0m6-15h0m4 106h0m4-36h0m2-89h0m5 64h0m4 0h0m6-19h0m7-1h0m2 45h0m4-39h0m5-1h0m3-29h0m9 74h0m0-35h0m8-7h0m2 5h0m6-22h0m6-13h0m3 1h0m5 101h0m2-65h0m6 9h0m6 0h0m1-39h0m7 8h0m2 33h0m5-25h0m6 3h0m6 47h0m2-23h0m7 8h0m3-25h0m5-51h0m2 12h0m8 101h0m4-139h0m3 99h0m2 26h0m7 2h0m4-5h0m7-87h0m0 48h0m6-58h0m4 54h0m6 18h0m6 13h0m3-71h0m4-1h0m2 24h0m9-59h0m4 107h0m2-12h0m7-18h0m2-9h0m6-40h0m5 74h0m5 37h0m2-81h0m5-9h0m7 31h0m3-29h0m2 7h0m7 25h0m2-25h0m5 29h0m5-35h0m6 33h0m5-59h0m5 101h0m0-3h0m9-63h0m0 17h0m7-57h0m4 36h0m5 73h0m6-77h0m4-49h0m4 56h0m4 27h0m2-41h0m6 16h0m3 13h0m8-8h0m3-31h0m4 60h0m6-1h0m3-26h0m3 12h0m7 67h0m3-66h0m5-27h0m3 41h0m4-80h0m7 75h0m2-62h0m6 11h0m5-4h0m3 41h0m7 13h0m5-29h0m5 34h0m1 2h0m5-33h0m5 54h0m6-1h0m4-34h0m2 23h0m6-8h0m6-79h0m2 60h0m6-69h0m5 75h0m2 2h0m5-27h0m5 45h0m4-75h0m5 81h0m3-21h0m8-35h0m3 21h0m4-42h0m7 49h0m4-19h0m5 67h0m0-99h0m5 77h0m7-35h0m4-50h0m3 22h0m6-4h0m2-72h0m6 60h0m5 33h0m4 21h0m4 23h0m3-100h0m6 40h0m6-28h0m5 17h0m2 47h0m3-35h0m5-13h0m6 25h0m4-15h0m6 36h0m5 57h0m1-64h0m5-5h0m6 17h0m7-38h0m1 34h0m3-31h0m7 43h0m6-2h0m4-56h0m2 60h0m5-19h0m6 5h0m4-29h0m2 12h0m8 19h0m1-27h0m8-2h0m5 33h0m1-45h0m6 25h0m2 14h0m7-49h0m2 39h0m6 47h0m4-21h0m5-69h0m3 11h0m7-13h0m3 29h0m4-27h0m4 62h0m6-35h0m5-1h0m6 60h0m2-106h0m4 72h0m5 16h0m6 9h0m4-20h0m5-35h0m2 69h0m5-63h0m6 54h0m4-34h0m6 28h0m1-61h0m6 3h0m6-63h0m3 95h0m5 33h0m3-61h0m6 55h0m6-9h0m5-14h0m1-23h0m4-34h0m5 54h0m7-1h0m3-38h0m5 37h0m3-26h0m4-16h0m5 17h0m5 10h0m7-18h0m3 47h0m6-33h0m3-35h0m2-30h0m8 32h0m3 37h0m6-47h0m4 7h0m2 56h0m6 28h0m6-28h0m3 189h0m4-265h0m3 24h0m6 114h0m5-106h0m3 26h0m6 44h0m5-51h0m2-10h0m7 9h0m4 19h0m3 6h0m3-34h0m5 25h0m6 60h0m5-56h0m5-32h0m3 46h0m6-68h0m4 40h0m4 11h0m4 38h0m6-13h0m3-38h0m5 17h0m3 29h0m6 1h0m5-31h0m4-17h0m4 27h0m6-76h0m2 1h0m4-3h0m8 73h0m4 14h0m2-41h0m4 37h0m7-28h0m2 69h0m4-92h0m8 23h0m0-3h0m7 32h0m4-40h0m7 15h0m3 12h0m5-16h0m4 32h0m3 67h0m7-102h0m2-126h0m7 197h0m2-63h0m3-9h0m7-3h0m4 1h0m5-37h0m6 115h0m4-6h0m4-114h0m4 55h0m4-25h0m5 15h0m3-2h0m7 16h0m3 3h0m5 3h0m3 33h0m4-61h0m4-41h0m6 83h0m3-19h0m8 17h0m4-47h0m3 10h0m4 48h0m4-61h0m4 30h0m7 32h0m5-47h0m1-13h0m6 94h0m3-78h0m7 19h0m4-15h0m3-14h0m6 42h0m6-24h0m1-25h0m5 59h0m8-111h0m0 56h0m6 15h0m7 66h0m3-26h0m5-6h0m5 1h0m5-11h0m2-26h0m6-7h0m1-41h0m7 17h0m2 34h0m7-1h0m2 34h0m6-43h0m3-36h0m5 107h0m4-65h0m5-54h0m6 126h0m6-94h0m1 60h0m5-85h0m5 43h0m4 1h0m7 9h0m5-61h0m4 97h0m1-25h0m6-22h0m5 2h0m4-25h0m6 5h0m1 28h0m7 30h0m6-34h0m2-6h0m6 54h0m5-105h0m3-17h0m3 84h0m6-5h0m6-32h0m2 45h0m7 8h0m3 12h0m5-38h0m2 41h0m7-16h0m2-23h0m8 7h0m2-53h0m3 101h0m9-29h0m3-49h0m3 72h0m3-103h0m7 103h0m3-31h0m7-24h0m2-24h0m7 59h0m2 9h0m5-47h0"/>
<path stroke="#ff753c" d="M949 5221h0m2-65h0m7-9h0m2 23h0m7 15h0m1-1h0m7 64h0m5-94h0m1 6h0m5 59h0m4-65h0m6-3h0m5 16h0m5 11h0m4-19h0m4 91h0m5-44h0m3-62h0m4 22h0m5 36h0m5-43h0m3-3h0m6 117h0m3-56h0m5-68h0m8-3h0m1 16h0m8 22h0m1 4h0m6-28h0m4-31h0m3 33h0m6 36h0m3-17h0m4-69h0m7 29h0m5 71h0m5-10h0m2-13h0m7 41h0m4-33h0m1 7h0m6-8h0m5-8h0m7-24h0m0 22h0m7-1h0m5-27h0m5-8h0m2 11h0m5 7h0m5 52h0m5-30h0m2-1h0m7 14h0m2-5h0m7-23h0m3-16h0m5 50h0m6 2h0m4-65h0m3 59h0m5-32h0m4 42h0m7 21h0m4-37h0m2 25h0m4-45h0m4 13h0m5-8h0m6 40h0m5-53h0m2 2h0m7-49h0m4 77h0m3-48h0m5 19h0m5 62h0m4-2h0m3 19h0m7-117h0m5 68h0m4-55h0m5 11h0m1 59h0m8-37h0m4-52h0m6 40h0m3 120h0m2-131h0m7 13h0m2 3h0m4 36h0m8-43h0m3-33h0m5 49h0m2 14h0m5-71h0m6 12h0m6 55h0m2-16h0m7-20h0m1 132h0m5-64h0m5-21h0m7 73h0m2-91h0m7-10h0m2 65h0m6-82h0m1-43h0m6 49h0m6-7h0m3 46h0m7-17h0m2 5h0m4-1h0m7 32h0m5-71h0m4 0h0m2 15h0m7-12h0m2 55h0m4-59h0m7 78h0m3-88h0m4-13h0m7 45h0m2 69h0m6-68h0m2 20h0m8-32h0m3 35h0m5 20h0m4-42h0m5-16h0m4 140h0m4-144h0m3 6h0m6 29h0m6-33h0m3 37h0m4 51h0m7-37h0m0-43h0m8 50h0m2-108h0m5 99h0m7-33h0m2 33h0m4-65h0m7 28h0m5 67h0m1-46h0m7-21h0m1-78h0m7 101h0m5 1h0m4 73h0m4-65h0m7 99h0m1 35h0m5 5h0m7-56h0m1-1h0m4 63h0m6 1h0m4 51h0m6 65h0m6-3h0m0 2h0m8 34h0m3 106h0m5-81h0m4 2h0m6 1h0m4-17h0m2 75h0m5-66h0m7 35h0m4 29h0m3-74h0m3 31h0m6 11h0m5-5h0m3-29h0m7-37h0m5 90h0m1-49h0m4 7h0m8-18h0m3 62h0m5 42h0m2-53h0m5-43h0m7 40h0m3 36h0m6 20h0m3-48h0m3-29h0m6 3h0m7 20h0m3-22h0m3 31h0m4-18h0m7 5h0m1-21h0m8-16h0m1 51h0m6-60h0m6 61h0m6-36h0m1 81h0m5-30h0m5-44h0m7 60h0m4-44h0m4 80h0m3-73h0m5-14h0m3-43h0m3-34h0m5 96h0m7 34h0m6-39h0m0-94h0m6 118h0m4-13h0m6-39h0m4 29h0m4 6h0m5-32h0m4 74h0m5-96h0m2 114h0m9-49h0m3-31h0m6-16h0m3-8h0m2 44h0m8-17h0m4 17h0m2 62h0m6-59h0m6 14h0m0-11h0m5-21h0m7 45h0m4 18h0m2-90h0m6 81h0m6-7h0m2-90h0m8 67h0m1-62h0m7 70h0m4-97h0m5 85h0m2 8h0m6-40h0m4 18h0m3 29h0m7 24h0m5-86h0m2 26h0m3-29h0m7 22h0m4 1h0m6 17h0m2 5h0m4-67h0m7 8h0m4 37h0m3-12h0m7 33h0m5-46h0m5-6h0m2-9h0m6 18h0m4 43h0m6 15h0m2-47h0m4 10h0m5-39h0m3 9h0m7-37h0m4 72h0m2-53h0m6 34h0m4 41h0m4-117h0m7 49h0m3-18h0m3 41h0m4-153h0m6 155h0m4 42h0m6-105h0m2 54h0m8-5h0m1-9h0m8 9h0m4 53h0m2-12h0m4-113h0m5 65h0m6-40h0m2 2h0m7 29h0m3-25h0m4 84h0m8-58h0m3 27h0m4-45h0m4 35h0m7-64h0m1-1h0m5-14h0m4-27h0m8 13h0m4-63h0m1-55h0m6 2h0m5-18h0m4 1h0m4-33h0m5 23h0m7-61h0m0 1h0m4-31h0m5-42h0m6 25h0m6-26h0m3 11h0m3-27h0m5-7h0m8 69h0m3-57h0m5 32h0m4-3h0m5 77h0m1-64h0m7-52h0m2 33h0m4 16h0m6 9h0m4-62h0m7 32h0m2-9h0m7 69h0m4-75h0m6 65h0m3-7h0m2-11h0m7 35h0m3-104h0m6 93h0m5-11h0m5 55h0m1-47h0m5-3h0m5-30h0m4 62h0m6 4h0m5-105h0m2-1h0m8 33h0m3 54h0m5-99h0m3 29h0m6 31h0m2-1h0m4 54h0m7 4h0m5-27h0m5-42h0m3 26h0m4-22h0m6 33h0m2-112h0m5 121h0m5-69h0m6 62h0m2-40h0m6 41h0m2-67h0m4 7h0m4 42h0m5 30h0m8 22h0m4 33h0m3-87h0m5-20h0m3-8h0m4 60h0m6-62h0m6 1h0m3 1h0m4 28h0m6 17h0m2-111h0m6 109h0m5-75h0m2 95h0m4-13h0m7-35h0m5-21h0m4 54h0m2-16h0m7-23h0m5-21h0m2 46h0m5-7h0m5-20h0m6 25h0m5 15h0m1 78h0m5-90h0m4-19h0m8 28h0m5-104h0m4 119h0m3-20h0m4 1h0m4-14h0m5 11h0m5-32h0m5 26h0m5-67h0m3 62h0m5-81h0m5 121h0m3-66h0m4 5h0m6 38h0m2-105h0m7 52h0m4 34h0m5-3h0m5-24h0m3 1h0m4-5h0m6 11h0m3 27h0m4 40h0m7-75h0m2 68h0m7-6h0m2-27h0m7-88h0"/>
<path stroke="#ff753c" d="M3883 5200h0m2-20h0m7-12h0m2-3h0m7-79h0m1 107h0m7-34h0m5 42h0m1 7h0m5-21h0m4 23h0m6-4h0m5-70h0m5 103h0m4-93h0m4 42h0m5 35h0m3-83h0m4 29h0m5 80h0m5-24h0m3 16h0m6-61h0m3 20h0m5-24h0m8 28h0m1-77h0m8 43h0m1 43h0m6-75h0m4 53h0m3 5h0m6 16h0m3-1h0m4-110h0m7 83h0m5-67h0m5 72h0m2 12h0m7-60h0m4 81h0m1-35h0m6-10h0m5-29h0m7 22h0m0-30h0m7 29h0m5 42h0m5-68h0m2 2h0m5-1h0m5 21h0m5 34h0m2-18h0m7 31h0m2 7h0m7 19h0m3-88h0m5 39h0m6 35h0m4-107h0m3 40h0m5-30h0m4 26h0m7-26h0m4 84h0m2-70h0m4 40h0m4 53h0m5-23h0m6-42h0m5 68h0m2-9h0m7-81h0m4 50h0m3-17h0m5-32h0m5 11h0m4 22h0m3-30h0m7 13h0m5 8h0m4 28h0m5 25h0m1-63h0m8 28h0m4 29h0m6-38h0m3 10h0m2 51h0m7-98h0m2 45h0m4 37h0m8-67h0m3 48h0m5 13h0m2-53h0m5 25h0m6-28h0m6 45h0m2-27h0m7 2h0m1-8h0m5 27h0m5-44h0m7 22h0m2 28h0m7-15h0m2-17h0m6-30h0m1 44h0m6-1h0m6 1h0m3 9h0m7-9h0m2 12h0m4-105h0m7 54h0m5 50h0m4 4h0m2-39h0m7-18h0m2 21h0m4-41h0m7 28h0m3 20h0m4-50h0m7 49h0m2 45h0m6 8h0m2 39h0m8-85h0m3 5h0m5 9h0m4-24h0m5-9h0m4-15h0m4 70h0m3-46h0m6-37h0m6 56h0m3-75h0m4 40h0m7 61h0m0-40h0m8-17h0m2 65h0m5-71h0m7 55h0m2 11h0m4-79h0m7 9h0m5 62h0m1 15h0m7-107h0m1 102h0m7-92h0m5 111h0m4-62h0m4-10h0m7 6h0m1 11h0m5-59h0m7 98h0m1-33h0m4 37h0m6-94h0m4 80h0m6-50h0m6 68h0m0-13h0m8-85h0m3 26h0m5 44h0m4-44h0m6-9h0m4-21h0m2 156h0m5-89h0m7-49h0m4 13h0m3 63h0m3-37h0m6 29h0m5-61h0m3 40h0m7-4h0m5-26h0m1 11h0m4 87h0m8-89h0m3-23h0m5 65h0m2-64h0m5 35h0m7 56h0m3-55h0m6-23h0m3 58h0m3-90h0m6-14h0m7 38h0m3 22h0m3 1h0m4-32h0m7-32h0m1 47h0m8 19h0m1-26h0m6 0h0m6-16h0m6 98h0m1-101h0m5 6h0m5 42h0m7 14h0m4-45h0m4 14h0m3 42h0m5-40h0m3 9h0m3-40h0m5 44h0m7-32h0m6-8h0m0 36h0m6-9h0m4 22h0m6-36h0m4 24h0m4 7h0m5-2h0m4 57h0m5-23h0m2-40h0m9 4h0m3 39h0m6-25h0m3-51h0m2 58h0m8-1h0m4 32h0m2-45h0m6-52h0m6 44h0m0 17h0m5-45h0m7-11h0m4-7h0m2 50h0m6-11h0m6-30h0m2-20h0m8 85h0m1-45h0m7 79h0m4-70h0m5-17h0m2-8h0m6 96h0m4-94h0m3 56h0m7-45h0m5-70h0m2 130h0m3 0h0m7-113h0m4 84h0m6-52h0m2-5h0m4 82h0m7-28h0m4-36h0m3-9h0m7 31h0m5-15h0m5 2h0m2 23h0m6-17h0m4 27h0m6 11h0m2-2h0m4-50h0m5 60h0m3 12h0m7-70h0m4 44h0m2-44h0m6-1h0m4 96h0m4 0h0m7-90h0m3-4h0m3 69h0m4-42h0m6-45h0m4 49h0m6-5h0m2-43h0m8 15h0m1-11h0m8 27h0m4 5h0m2 37h0m4-54h0m5 16h0m6-29h0m2 25h0m7 1h0m3 58h0m4-39h0m8-2h0m3 0h0m4-18h0m4 51h0m7-21h0m1-51h0m5 33h0m4-31h0m8 28h0m4-62h0m1 64h0m6-11h0m5-26h0m4 14h0m4 17h0m5-20h0m7-41h0m0 57h0m4-20h0m5 58h0m6-120h0m6 33h0m3 32h0m3-64h0m5 63h0m8 48h0m3-76h0m5 18h0m4 11h0m5 30h0m1-51h0m7 59h0m2-7h0m4-99h0m6 138h0m4-25h0m7 9h0m2-17h0m7-49h0m4 39h0m6-52h0m3 71h0m2-2h0m7 16h0m3-36h0m6-30h0m5 30h0m5-8h0m1 57h0m5-59h0m5-34h0m4 1h0m6 60h0m5-32h0m2-42h0m8 14h0m3-6h0m5 33h0m3 43h0m6-54h0m2 30h0m4-20h0m7-40h0m5 64h0m5-38h0m3 60h0m4-36h0m6 33h0m2-70h0m5 51h0m5 44h0m6-11h0m2-26h0m6-5h0m2-52h0m4 38h0m4-16h0m5-1h0m8 64h0m4-38h0m3 29h0m5-63h0m3 1h0m4 39h0m6-21h0m6 20h0m3 1h0m4 64h0m6-71h0m2 47h0m6-96h0m5-4h0m2 59h0m4-45h0m7 66h0m5-35h0m4-18h0m2 42h0m7 10h0m5-62h0m2-86h0m5 101h0m5 1h0m6 9h0m5 37h0m1-35h0m5 13h0m4 38h0m8-90h0m5 54h0m4-34h0m3 47h0m4-57h0m4 9h0m5 47h0m5-34h0m5 57h0m5-54h0m3 32h0m5-2h0m5-27h0m3 8h0m4 17h0m6-9h0m2 20h0m7-53h0m4 0h0m5 61h0m5-28h0m3-45h0m4 41h0m6 56h0m3-52h0m4-13h0m7-14h0m2 30h0m7 17h0m2-4h0m7-39h0"/>
<path stroke="#000" d="M948 5464h0m4-22h0m2-9h0m5 33h0m5 9h0m4-8h0m8-3h0m2 3h0m5 6h0m4-12h0m3 11h0m8 3h0m3-3h0m5 8h0m3-12h0m4 4h0m6-19h0m4 8h0m7 36h0m2-43h0m3-7h0m5 20h0m4 3h0m8 12h0m0-8h0m7-1h0m6-15h0m3 28h0m4-2h0m6-1h0m4-15h0m2 7h0m8-15h0m2 3h0m3 13h0m8-2h0m1-13h0m6 3h0m4 15h0m4-2h0m7-13h0m3 6h0m5-18h0m4 20h0m5-5h0m6 4h0m1-1h0m6 15h0m4-5h0m3-12h0m9 6h0m2-5h0m7-10h0m3 8h0m2-25h0m4 30h0m6-7h0m6 9h0m2-17h0m4 5h0m5 2h0m5-5h0m6-10h0m4 17h0m5-9h0m4 27h0m2-16h0m5 2h0m6 6h0m3-19h0m4 22h0m5-13h0m7 19h0m2-8h0m6 19h0m3-29h0m5-8h0m4 12h0m5-12h0m6 11h0m4-2h0m2-1h0m5-4h0m4 14h0m7 14h0m4-36h0m2 3h0m7 8h0m5 60h0m4-65h0m2 28h0m5-25h0m4 3h0m6 1h0m7-12h0m1 21h0m4-10h0m8-14h0m5 25h0m3-2h0m4-8h0m5 12h0m5-4h0m5-17h0m3 32h0m4-21h0m7-3h0m4 21h0m2-14h0m4-10h0m3 13h0m8-21h0m5 31h0m3-40h0m6 26h0m3-17h0m3 13h0m6-8h0m4-8h0m3 21h0m6 5h0m3-8h0m7 4h0m6-10h0m3 4h0m2 14h0m8-25h0m4 23h0m2-21h0m7 7h0m3 1h0m5-11h0m2 15h0m5-3h0m7 14h0m1-10h0m8 7h0m3-6h0m5 19h0m5-21h0m4-8h0m2-8h0m7 6h0m5 8h0m1-1h0m8 23h0m5-22h0m2 1h0m6 15h0m5-4h0m3-2h0m4-26h0m4 10h0m5 0h0m6 20h0m4 3h0m5-18h0m4 32h0m5 41h0m1-20h0m6 28h0m7 47h0m2 2h0m4 7h0m6 40h0m4 24h0m4 14h0m7 34h0m0 5h0m6 17h0m7 38h0m3 22h0m3-24h0m8 4h0m3 4h0m4 20h0m6-16h0m3 27h0m5-25h0m2 0h0m5 12h0m4 4h0m8 1h0m1 3h0m6-5h0m3 6h0m4-2h0m8-10h0m1-7h0m7 7h0m3 7h0m5 16h0m3-11h0m5 26h0m4-20h0m7-8h0m3 0h0m5 8h0m2 12h0m7-9h0m5 6h0m6-8h0m1-8h0m5-13h0m5 32h0m5-5h0m5 15h0m6 0h0m1-15h0m4 13h0m4-6h0m5-9h0m5 7h0m5 6h0m5 12h0m6-19h0m2-2h0m4 3h0m6 25h0m4-16h0m5-2h0m6-3h0m3 2h0m2 1h0m5-8h0m8 17h0m1 15h0m5-17h0m7-5h0m4 13h0m3-5h0m6 12h0m1-15h0m5 27h0m5-23h0m7 15h0m5-21h0m0 6h0m6 4h0m5-9h0m5 26h0m6-41h0m4 29h0m2-19h0m6 15h0m4-8h0m4 9h0m4 3h0m6-13h0m3 10h0m7-24h0m5 16h0m4 19h0m4 2h0m3-2h0m4-14h0m5 10h0m7-20h0m1 10h0m5-13h0m4 8h0m6-5h0m6 21h0m1 2h0m8-26h0m1 16h0m6 3h0m3 1h0m5-10h0m6 3h0m5 6h0m5-18h0m2 16h0m6-20h0m6 14h0m4 28h0m5-25h0m2-3h0m6-13h0m2 17h0m5 9h0m6-3h0m4-15h0m4 9h0m4-13h0m3 7h0m8-18h0m5-4h0m3 4h0m3 11h0m7-7h0m2 20h0m5-15h0m5 12h0m3-5h0m4-3h0m6 6h0m6-8h0m2-10h0m4-7h0m6-2h0m6 5h0m3 14h0m4 4h0m4-34h0m4 9h0m7 9h0m4-15h0m4 20h0m3-14h0m4 0h0m4-9h0m6 4h0m4 15h0m7-66h0m3 30h0m6-52h0m4-30h0m3-2h0m6-53h0m5-10h0m1-4h0m7-24h0m4-38h0m3-14h0m5-15h0m6-40h0m3 8h0m7-41h0m2-9h0m4 1h0m6 11h0m5-5h0m5 1h0m4 5h0m4-1h0m3-30h0m3-19h0m5 44h0m7 5h0m4-13h0m2-1h0m4 5h0m6-31h0m8 41h0m0-25h0m5 27h0m5-16h0m6-7h0m4 5h0m5 11h0m3-7h0m4 3h0m4-6h0m6-7h0m5 15h0m3-30h0m4 39h0m6-31h0m4 11h0m6-1h0m5 0h0m4 17h0m4-27h0m4 11h0m5 36h0m2-19h0m4-20h0m6 8h0m7 3h0m2 4h0m3-15h0m8 0h0m2 23h0m3-13h0m6-9h0m5 16h0m4-5h0m4 14h0m6-24h0m3 32h0m5-30h0m5 27h0m2-29h0m9-10h0m3 14h0m3 13h0m5 2h0m4-14h0m3 2h0m7 18h0m6-15h0m3-23h0m4 33h0m4-16h0m7-3h0m2 0h0m3 8h0m8-14h0m1-4h0m5 15h0m5-20h0m8 13h0m1 14h0m5-8h0m4 5h0m4 3h0m7-29h0m3 47h0m5-29h0m4 0h0m3 13h0m8-1h0m0-18h0m9 0h0m4 0h0m4 8h0m5 5h0m5-16h0m2 4h0m4 32h0m4-38h0m7 24h0m1-20h0m8 5h0m2-9h0m5 13h0m5 15h0m5-5h0m3-17h0m7 11h0m4-18h0m4 16h0m4 8h0m3-16h0m4 13h0m5-8h0m7 3h0m2-2h0m6-14h0m3 39h0m7-7h0m2-22h0m5-1h0m5 11h0m3 8h0m6-13h0m4-16h0m6 21h0m4-3h0"/>
<path stroke="#000" d="M3882 5470h0m4 6h0m2-24h0m5 18h0m5-3h0m4 6h0m8-6h0m2 10h0m5-10h0m4-10h0m3 24h0m8 4h0m3-1h0m5-11h0m3-3h0m4 2h0m6-5h0m4 3h0m7-12h0m2 21h0m3-18h0m5-1h0m4 15h0m8-30h0m0 6h0m7 9h0m6-3h0m3 18h0m4-1h0m6-8h0m4 18h0m2-15h0m8-5h0m2-7h0m3 35h0m8-38h0m1-10h0m6 22h0m4-8h0m4 32h0m7-10h0m3 4h0m5-3h0m4-25h0m5 26h0m6-15h0m1 3h0m6 22h0m4-36h0m3 23h0m9-1h0m2 2h0m7 15h0m3-14h0m2-11h0m4 3h0m6-7h0m6-10h0m2 6h0m4 19h0m5-25h0m5 16h0m6-17h0m4 16h0m5-4h0m4 7h0m2 6h0m5-6h0m6-13h0m3 20h0m4-11h0m5 16h0m7-18h0m2 8h0m6-24h0m3 8h0m5-15h0m4 15h0m5 0h0m6 13h0m4-11h0m2 4h0m5-1h0m4 20h0m7-10h0m4-15h0m2 14h0m7-1h0m5-11h0m4 5h0m2-6h0m5 9h0m4-13h0m6 12h0m7 19h0m1-15h0m4-22h0m8 20h0m5-5h0m3-2h0m4 0h0m5 14h0m5-7h0m5-20h0m3 12h0m4 25h0m7-9h0m4-31h0m2 22h0m4 15h0m3-19h0m8 15h0m5 5h0m3 5h0m6-9h0m3-6h0m3 7h0m6-5h0m4-24h0m3 17h0m6-5h0m3-10h0m7 17h0m6-1h0m3 0h0m2-8h0m8 10h0m4-1h0m2-25h0m7 19h0m3 4h0m5 17h0m2-38h0m5 23h0m7-8h0m1-6h0m8 23h0m3 21h0m5-39h0m5 18h0m4-15h0m2 12h0m7-5h0m5-9h0m1 6h0m8-17h0m5 23h0m2-18h0m6 5h0m5 18h0m3-35h0m4 19h0m4 7h0m5 9h0m6-13h0m4-10h0m5 18h0m4-21h0m5 15h0m1-7h0m6-18h0m7 14h0m2 2h0m4 2h0m6 9h0m4-8h0m4 0h0m7 6h0m0-13h0m6 15h0m7-48h0m3 43h0m3-16h0m8 16h0m3 10h0m4-19h0m6 16h0m3-4h0m5 8h0m2-26h0m5 15h0m4 10h0m8-33h0m1 30h0m6-4h0m3-16h0m4 7h0m8 19h0m1-7h0m7-5h0m3 10h0m5-4h0m3-4h0m5 2h0m4 6h0m7-36h0m3 30h0m5-2h0m2 17h0m7-11h0m5-17h0m6 3h0m1 5h0m5 5h0m5-3h0m5-20h0m5 18h0m6-11h0m1 20h0m4-12h0m4 1h0m5-11h0m5 10h0m5-6h0m5 6h0m6 5h0m2 9h0m4-18h0m6-6h0m4 30h0m5-34h0m6 22h0m3-11h0m2 14h0m5-12h0m8 2h0m1 14h0m5-8h0m7-16h0m4 8h0m3 4h0m6 26h0m1-41h0m5 12h0m5 1h0m7 19h0m5-20h0m0-2h0m6 9h0m5-3h0m5 16h0m6-26h0m4 33h0m2-15h0m6 1h0m4 9h0m4-42h0m4 11h0m6 12h0m3 17h0m7-18h0m5-2h0m4 1h0m4-6h0m3-1h0m4 21h0m5-22h0m7-17h0m1 18h0m5 22h0m4-17h0m6 0h0m6 11h0m1-14h0m8 15h0m1-13h0m6 12h0m3-19h0m5 31h0m6-25h0m5 20h0m5-32h0m2 34h0m6-18h0m6-26h0m4 25h0m5 13h0m2-20h0m6 25h0m2-29h0m5 25h0m6-25h0m4 20h0m4-4h0m4-9h0m3 32h0m8-38h0m5-6h0m3 29h0m3-11h0m7 15h0m2-13h0m5 13h0m5 5h0m3-15h0m4-1h0m6-5h0m6 1h0m2 3h0m4 17h0m6-39h0m6 30h0m3-7h0m4-9h0m4 11h0m4 2h0m7-2h0m4 2h0m4-15h0m3 17h0m4-21h0m4 32h0m6-3h0m4-21h0m7 10h0m3-7h0m6 27h0m4-31h0m3 3h0m6-5h0m5-7h0m1 15h0m7 7h0m4-1h0m3-21h0m5 26h0m6-6h0m3 2h0m7-7h0m2-12h0m4-2h0m6 13h0m5 20h0m5-18h0m4 17h0m4-4h0m3-13h0m3-3h0m5-2h0m7 3h0m4 5h0m2-9h0m4 16h0m6 0h0m8-18h0m0 18h0m5-7h0m5-5h0m6-6h0m4 5h0m5 22h0m3-28h0m4 28h0m4-13h0m6-13h0m5 17h0m3-25h0m4 8h0m6 11h0m4-1h0m6-19h0m5 43h0m4-24h0m4-2h0m4 0h0m5-1h0m2-5h0m4-6h0m6-10h0m7 18h0m2 5h0m3-8h0m8-4h0m2-6h0m3 10h0m6-2h0m5 14h0m4 6h0m4-18h0m6 2h0m3 4h0m5-1h0m5-14h0m2 8h0m9 7h0m3-5h0m3-13h0m5 9h0m4 6h0m3-1h0m7-7h0m6 12h0m3-1h0m4 19h0m4-28h0m7 21h0m2-27h0m3-2h0m8 25h0m1-15h0m5 13h0m5-19h0m8 22h0m1-28h0m5 38h0m4 3h0m4-7h0m7 1h0m3-19h0m5 12h0m4-3h0m3-14h0m8-8h0m0 14h0m9 7h0m4-10h0m4-9h0m5 5h0m5 5h0m2 27h0m4-24h0m4 5h0m7-24h0m1 24h0m8-3h0m2-2h0m5-3h0m5-5h0m5 12h0m3-12h0m7 9h0m4 0h0m4 12h0m4 3h0m3-42h0m4 25h0m5 8h0m7-8h0m2 13h0m6 21h0m3-35h0m7-6h0m2 23h0m5-23h0m5 3h0m3 12h0m6-7h0m4-15h0m6 7h0m4 3h0"/>
</g>
<g stroke="#333" stroke-width="0.75" fill="none">
<path d="M86 20H672.5M86 20V603.5H672.5M379.5 20V603.5"/>
<path stroke="#222" stroke-width="1" d="M672.5 20V603.5"/>
<path d="M79.8 45.0H86M373 45.0H379.5M79.8 108.5H86M373 108.5H379.5M79.8 171.9H86M373 171.9H379.5M79.8 235.3H86M373 235.3H379.5M79.8 298.8H86M373 298.8H379.5M79.8 362.2H86M373 362.2H379.5M79.8 425.6H86M373 425.6H379.5M79.8 489.1H86M373 489.1H379.5M79.8 552.5H86M373 552.5H379.5"/>
<path d="M109.5 603.5V609.5M402.9 603.5V609.5M156.4 603.5V609.5M449.8 603.5V609.5M203.3 603.5V609.5M496.7 603.5V609.5M250.2 603.5V609.5M543.6 603.5V609.5M297.1 603.5V609.5M590.5 603.5V609.5M344.0 603.5V609.5M637.4 603.5V609.5"/>
</g>
<text x="72.6" y="51.2" text-anchor="end" font-size="17.5">1.000</text>
<text x="72.6" y="114.7" text-anchor="end" font-size="17.5">0.995</text>
<text x="72.6" y="178.1" text-anchor="end" font-size="17.5">0.990</text>
<text x="72.6" y="241.5" text-anchor="end" font-size="17.5">0.985</text>
<text x="72.6" y="305.0" text-anchor="end" font-size="17.5">0.980</text>
<text x="72.6" y="368.4" text-anchor="end" font-size="17.5">0.975</text>
<text x="72.6" y="431.8" text-anchor="end" font-size="17.5">0.970</text>
<text x="72.6" y="495.3" text-anchor="end" font-size="17.5">0.965</text>
<text x="72.6" y="558.7" text-anchor="end" font-size="17.5">0.960</text>
<text x="115.0" y="621.6" text-anchor="end" dominant-baseline="central" font-size="17.5" transform="rotate(-45 115.0 621.6)">−0.004</text>
<text x="408.4" y="621.6" text-anchor="end" dominant-baseline="central" font-size="17.5" transform="rotate(-45 408.4 621.6)">−0.004</text>
<text x="161.9" y="621.6" text-anchor="end" dominant-baseline="central" font-size="17.5" transform="rotate(-45 161.9 621.6)">−0.002</text>
<text x="455.3" y="621.6" text-anchor="end" dominant-baseline="central" font-size="17.5" transform="rotate(-45 455.3 621.6)">−0.002</text>
<text x="208.8" y="621.6" text-anchor="end" dominant-baseline="central" font-size="17.5" transform="rotate(-45 208.8 621.6)">0</text>
<text x="502.2" y="621.6" text-anchor="end" dominant-baseline="central" font-size="17.5" transform="rotate(-45 502.2 621.6)">0</text>
<text x="255.7" y="621.6" text-anchor="end" dominant-baseline="central" font-size="17.5" transform="rotate(-45 255.7 621.6)">0.002</text>
<text x="549.1" y="621.6" text-anchor="end" dominant-baseline="central" font-size="17.5" transform="rotate(-45 549.1 621.6)">0.002</text>
<text x="302.6" y="621.6" text-anchor="end" dominant-baseline="central" font-size="17.5" transform="rotate(-45 302.6 621.6)">0.004</text>
<text x="596.0" y="621.6" text-anchor="end" dominant-baseline="central" font-size="17.5" transform="rotate(-45 596.0 621.6)">0.004</text>
<text x="349.5" y="621.6" text-anchor="end" dominant-baseline="central" font-size="17.5" transform="rotate(-45 349.5 621.6)">0.006</text>
<text x="642.9" y="621.6" text-anchor="end" dominant-baseline="central" font-size="17.5" transform="rotate(-45 642.9 621.6)">0.006</text>
<text x="232.75" y="13.2" text-anchor="middle" font-size="17.5">Detrended</text>
<text x="526" y="13.2" text-anchor="middle" font-size="17.5">Residuals</text>
<text x="232.75" y="683.5" text-anchor="middle" font-size="17.5">Phase</text>
<text x="526" y="683.5" text-anchor="middle" font-size="17.5">Phase</text>
<text transform="translate(14 311.75) rotate(-90)" text-anchor="middle" font-size="17.5">Normalized flux</text>
<text x="300.0" y="48.8" font-size="14.8">1.1560 µm</text>
<text x="598.3" y="49.7" font-size="16.5" style="font-family:&quot;Liberation Serif&quot;,serif;font-style:italic">σ</text>
<path d="M598 39.0h9.9M612.9 43.5h10.4M612.9 46.8h10.4" stroke="#000" stroke-width="1.3"/>
<text x="629" y="49.6" font-size="17.5">1.09</text>
<text x="300.0" y="79.7" font-size="14.8">1.1885 µm</text>
<text x="598.3" y="81.0" font-size="16.5" style="font-family:&quot;Liberation Serif&quot;,serif;font-style:italic">σ</text>
<path d="M598 70.3h9.9M612.9 74.8h10.4M612.9 78.1h10.4" stroke="#000" stroke-width="1.3"/>
<text x="629" y="80.9" font-size="17.5">1.12</text>
<text x="300.0" y="108.8" font-size="14.8">1.2185 µm</text>
<text x="598.3" y="106.6" font-size="16.5" style="font-family:&quot;Liberation Serif&quot;,serif;font-style:italic">σ</text>
<path d="M598 95.9h9.9M612.9 100.4h10.4M612.9 103.7h10.4" stroke="#000" stroke-width="1.3"/>
<text x="629" y="106.5" font-size="17.5">1.07</text>
<text x="300.0" y="138.7" font-size="14.8">1.2470 µm</text>
<text x="598.3" y="138.5" font-size="16.5" style="font-family:&quot;Liberation Serif&quot;,serif;font-style:italic">σ</text>
<path d="M598 127.8h9.9M612.9 132.3h10.4M612.9 135.6h10.4" stroke="#000" stroke-width="1.3"/>
<text x="629" y="138.4" font-size="17.5">1.08</text>
<text x="300.0" y="167.6" font-size="14.8">1.2750 µm</text>
<text x="598.3" y="167.8" font-size="16.5" style="font-family:&quot;Liberation Serif&quot;,serif;font-style:italic">σ</text>
<path d="M598 157.1h9.9M612.9 161.6h10.4M612.9 164.9h10.4" stroke="#000" stroke-width="1.3"/>
<text x="629" y="167.7" font-size="17.5">1.16</text>
<text x="300.0" y="196.5" font-size="14.8">1.3025 µm</text>
<text x="598.3" y="196.7" font-size="16.5" style="font-family:&quot;Liberation Serif&quot;,serif;font-style:italic">σ</text>
<path d="M598 186.0h9.9M612.9 190.5h10.4M612.9 193.8h10.4" stroke="#000" stroke-width="1.3"/>
<text x="629" y="196.6" font-size="17.5">1.13</text>
<text x="300.0" y="227.3" font-size="14.8">1.3290 µm</text>
<text x="598.3" y="226.9" font-size="16.5" style="font-family:&quot;Liberation Serif&quot;,serif;font-style:italic">σ</text>
<path d="M598 216.2h9.9M612.9 220.7h10.4M612.9 224.0h10.4" stroke="#000" stroke-width="1.3"/>
<text x="629" y="226.8" font-size="17.5">1.09</text>
<text x="300.0" y="258.2" font-size="14.8">1.3555 µm</text>
<text x="598.3" y="257.2" font-size="16.5" style="font-family:&quot;Liberation Serif&quot;,serif;font-style:italic">σ</text>
<path d="M598 246.5h9.9M612.9 251.0h10.4M612.9 254.3h10.4" stroke="#000" stroke-width="1.3"/>
<text x="629" y="257.1" font-size="17.5">1.05</text>
<text x="300.0" y="286.5" font-size="14.8">1.3825 µm</text>
<text x="598.3" y="287.4" font-size="16.5" style="font-family:&quot;Liberation Serif&quot;,serif;font-style:italic">σ</text>
<path d="M598 276.7h9.9M612.9 281.2h10.4M612.9 284.5h10.4" stroke="#000" stroke-width="1.3"/>
<text x="629" y="287.3" font-size="17.5">1.17</text>
<text x="300.0" y="316.7" font-size="14.8">1.4095 µm</text>
<text x="598.3" y="317.3" font-size="16.5" style="font-family:&quot;Liberation Serif&quot;,serif;font-style:italic">σ</text>
<path d="M598 306.6h9.9M612.9 311.1h10.4M612.9 314.4h10.4" stroke="#000" stroke-width="1.3"/>
<text x="629" y="317.2" font-size="17.5">1.10</text>
<text x="300.0" y="345.6" font-size="14.8">1.4365 µm</text>
<text x="598.3" y="344.9" font-size="16.5" style="font-family:&quot;Liberation Serif&quot;,serif;font-style:italic">σ</text>
<path d="M598 334.2h9.9M612.9 338.7h10.4M612.9 342.0h10.4" stroke="#000" stroke-width="1.3"/>
<text x="629" y="344.8" font-size="17.5">1.01</text>
<text x="300.0" y="375.4" font-size="14.8">1.4640 µm</text>
<text x="598.3" y="374.5" font-size="16.5" style="font-family:&quot;Liberation Serif&quot;,serif;font-style:italic">σ</text>
<path d="M598 363.8h9.9M612.9 368.3h10.4M612.9 371.6h10.4" stroke="#000" stroke-width="1.3"/>
<text x="629" y="374.4" font-size="17.5">1.02</text>
<text x="300.0" y="404.7" font-size="14.8">1.4920 µm</text>
<text x="598.3" y="402.7" font-size="16.5" style="font-family:&quot;Liberation Serif&quot;,serif;font-style:italic">σ</text>
<path d="M598 392.0h9.9M612.9 396.5h10.4M612.9 399.8h10.4" stroke="#000" stroke-width="1.3"/>
<text x="629" y="402.6" font-size="17.5">1.04</text>
<text x="300.0" y="435.3" font-size="14.8">1.5200 µm</text>
<text x="598.3" y="433.6" font-size="16.5" style="font-family:&quot;Liberation Serif&quot;,serif;font-style:italic">σ</text>
<path d="M598 422.9h9.9M612.9 427.4h10.4M612.9 430.7h10.4" stroke="#000" stroke-width="1.3"/>
<text x="629" y="433.5" font-size="17.5">1.05</text>
<text x="300.0" y="464.5" font-size="14.8">1.5480 µm</text>
<text x="598.3" y="464.5" font-size="16.5" style="font-family:&quot;Liberation Serif&quot;,serif;font-style:italic">σ</text>
<path d="M598 453.8h9.9M612.9 458.3h10.4M612.9 461.6h10.4" stroke="#000" stroke-width="1.3"/>
<text x="629" y="464.4" font-size="17.5">1.02</text>
<text x="300.0" y="494.7" font-size="14.8">1.5765 µm</text>
<text x="598.3" y="493.9" font-size="16.5" style="font-family:&quot;Liberation Serif&quot;,serif;font-style:italic">σ</text>
<path d="M598 483.2h9.9M612.9 487.7h10.4M612.9 491.0h10.4" stroke="#000" stroke-width="1.3"/>
<text x="629" y="493.8" font-size="17.5">1.10</text>
<text x="300.0" y="523.9" font-size="14.8">1.6055 µm</text>
<text x="598.3" y="521.8" font-size="16.5" style="font-family:&quot;Liberation Serif&quot;,serif;font-style:italic">σ</text>
<path d="M598 511.1h9.9M612.9 515.6h10.4M612.9 518.9h10.4" stroke="#000" stroke-width="1.3"/>
<text x="629" y="521.7" font-size="17.5">1.14</text>
<text x="302.2" y="551.5" font-size="14.8">White</text>
<text x="598.3" y="550.2" font-size="16.5" style="font-family:&quot;Liberation Serif&quot;,serif;font-style:italic">σ</text>
<path d="M598 539.5h9.9M612.9 544.0h10.4M612.9 547.3h10.4" stroke="#000" stroke-width="1.3"/>
<text x="629" y="550.1" font-size="17.5">2.08</text>
<rect x="423.5" y="575.2" width="5.2" height="18" fill="#000"/>
<text x="435.6" y="589.2" font-size="17.5">1,000 ppm</text>
</svg>
</body></html>
